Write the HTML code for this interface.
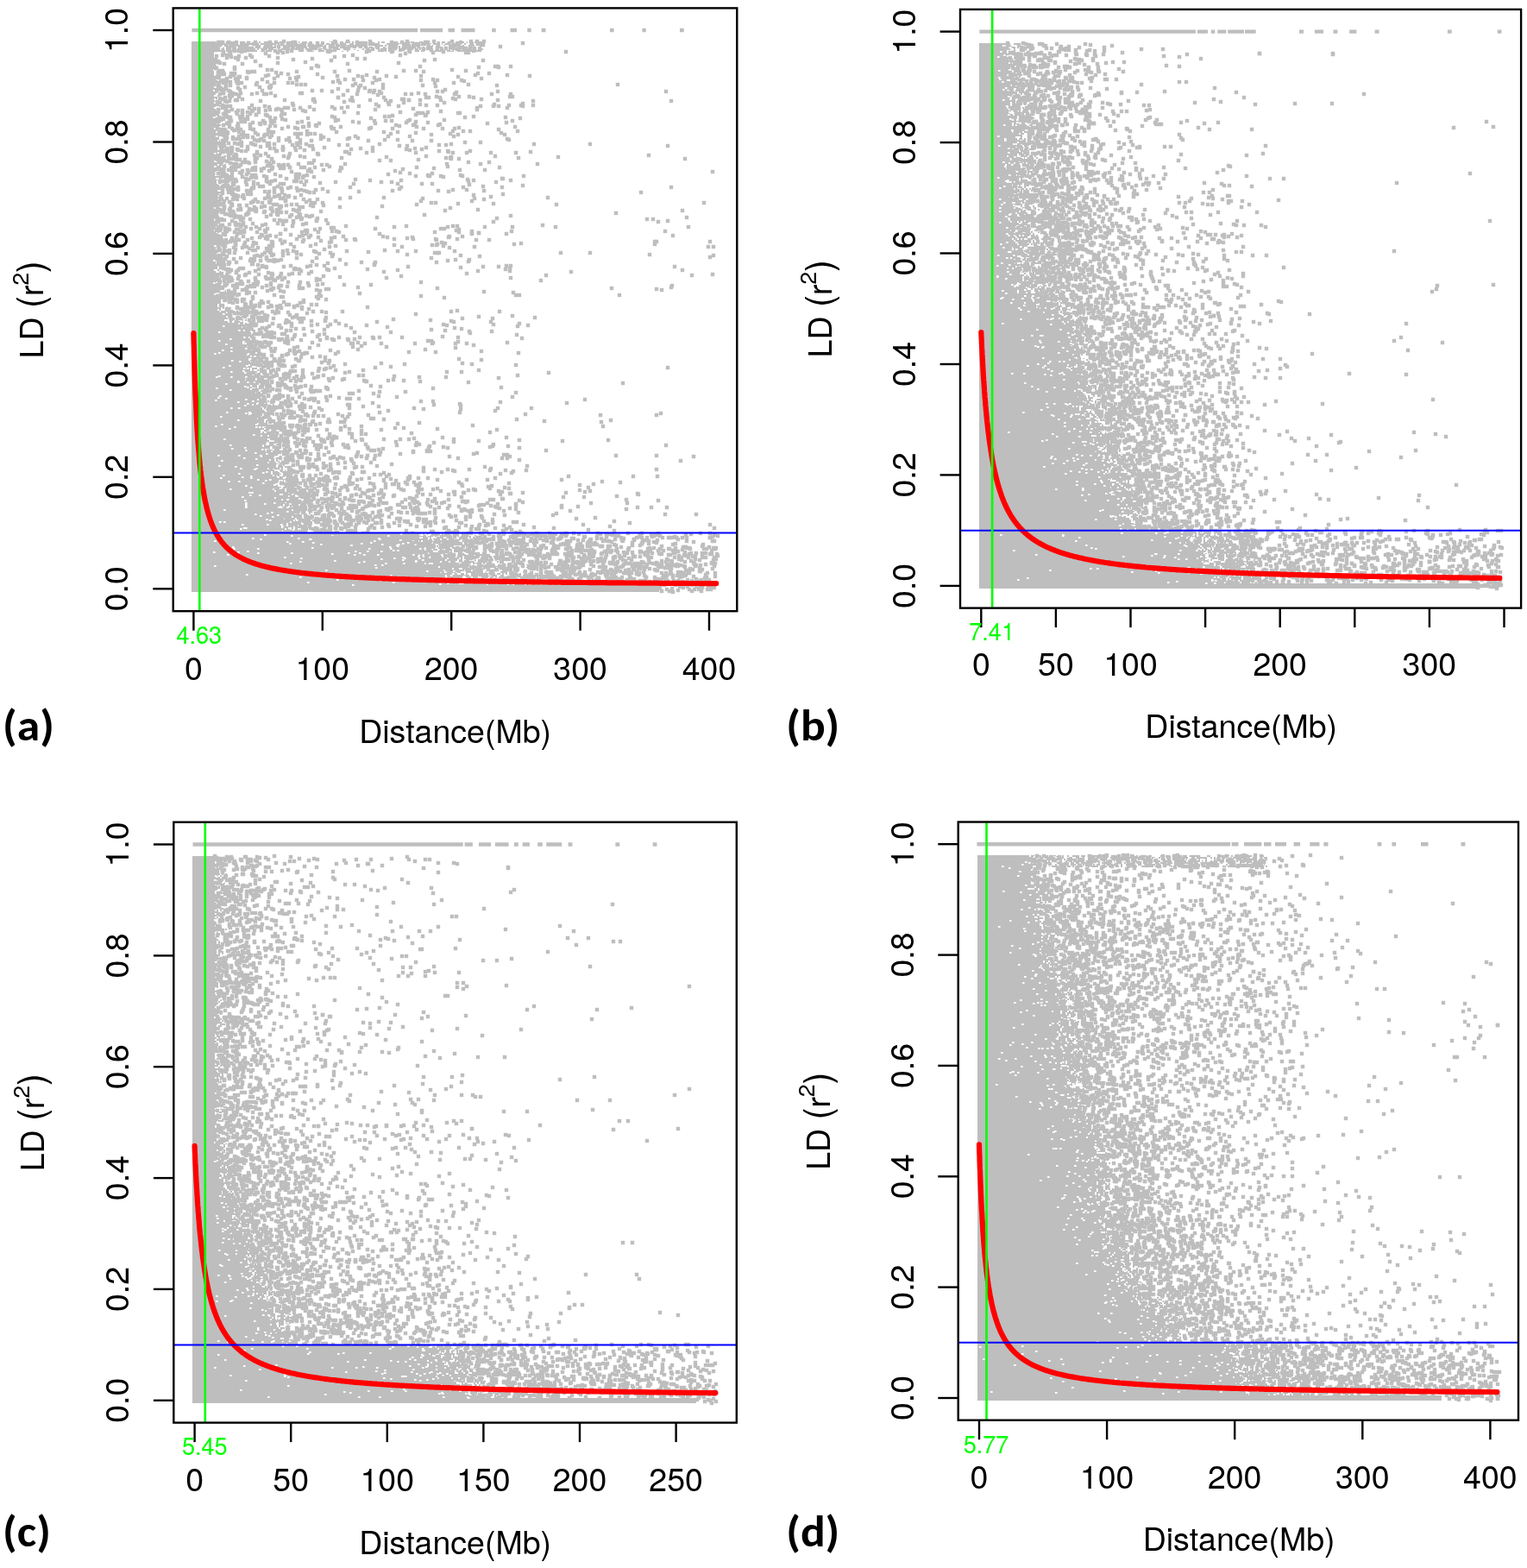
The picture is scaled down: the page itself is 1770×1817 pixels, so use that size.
<!DOCTYPE html>
<html><head><meta charset="utf-8"><title>LD decay</title>
<style>html,body{margin:0;padding:0;background:#fff}svg{display:block}</style></head>
<body><svg width="1770" height="1817" viewBox="0 0 1770 1817">
<defs><marker id="q" markerUnits="userSpaceOnUse" markerWidth="5" markerHeight="5" refX="2.2" refY="2.2" overflow="visible"><path d="M0 0h4.4v4.4H0z" fill="#bebebe"/></marker><marker id="h" markerUnits="userSpaceOnUse" markerWidth="3" markerHeight="3" refX="1" refY="1" overflow="visible"><path d="M0 0h2.6v2H0z" fill="#fff"/></marker></defs>
<rect width="1770" height="1817" fill="#fff"/>
<path d="M222 49h30M262 49h2M270 49h2M278 49h6M286 49h2M300 49h2M306 49h4M314 49h2M318 49h2M322 49h6M332 49h2M336 49h2M346 49h2M350 49h6M358 49h4M372 49h4M382 49h2M394 49h4M400 49h2M404 49h2M408 49h2M416 49h2M424 49h2M430 49h4M438 49h2M442 49h4M454 49h4M476 49h4M486 49h4M504 49h6M512 49h10M528 49h4M534 49h8M550 49h2M556 49h4M222 51h30M256 51h2M260 51h2M266 51h2M270 51h4M278 51h2M284 51h4M290 51h2M298 51h2M302 51h4M308 51h2M312 51h8M322 51h2M332 51h2M348 51h6M356 51h2M360 51h2M368 51h2M372 51h4M378 51h10M390 51h2M396 51h2M406 51h4M412 51h2M418 51h2M422 51h4M434 51h6M448 51h6M460 51h4M466 51h4M472 51h2M478 51h4M488 51h4M494 51h6M502 51h8M512 51h10M524 51h4M530 51h4M538 51h2M544 51h2M552 51h2M556 51h2M222 53h26M256 53h2M260 53h4M274 53h4M280 53h2M292 53h2M296 53h2M300 53h2M306 53h4M312 53h4M318 53h2M322 53h2M330 53h12M356 53h4M364 53h4M372 53h2M376 53h2M392 53h2M398 53h8M408 53h2M416 53h2M420 53h2M424 53h2M434 53h10M446 53h2M450 53h4M456 53h2M462 53h2M466 53h2M470 53h2M482 53h2M486 53h4M494 53h2M498 53h4M506 53h2M514 53h2M520 53h2M524 53h2M536 53h2M546 53h4M556 53h2M222 55h28M258 55h2M262 55h2M272 55h2M280 55h4M288 55h2M292 55h8M310 55h10M326 55h4M332 55h2M346 55h2M350 55h6M362 55h2M366 55h4M382 55h10M394 55h4M414 55h6M422 55h2M428 55h4M444 55h2M454 55h2M462 55h2M466 55h4M474 55h2M478 55h4M484 55h8M498 55h4M508 55h6M520 55h4M530 55h2M534 55h2M546 55h6M554 55h4M222 57h26M254 57h6M262 57h4M272 57h2M278 57h4M288 57h2M292 57h4M298 57h2M302 57h2M314 57h4M322 57h2M326 57h8M338 57h2M342 57h6M354 57h4M364 57h4M376 57h2M382 57h2M386 57h2M390 57h4M398 57h2M410 57h2M420 57h2M430 57h2M438 57h2M462 57h4M468 57h2M472 57h4M486 57h2M496 57h4M510 57h4M520 57h4M526 57h4M532 57h2M536 57h2M540 57h6M554 57h2M558 57h2M222 59h36M262 59h2M268 59h4M274 59h2M278 59h2M282 59h2M286 59h2M290 59h2M294 59h4M302 59h4M308 59h4M320 59h2M338 59h2M346 59h2M350 59h2M354 59h6M362 59h2M372 59h4M384 59h2M396 59h2M402 59h2M414 59h2M428 59h2M438 59h6M446 59h2M450 59h4M462 59h6M472 59h2M484 59h2M488 59h4M504 59h8M518 59h8M530 59h18M550 59h4M222 61h26M222 63h26M222 65h26M222 67h26M222 69h26M222 71h26M222 73h28M222 75h26M222 77h26M222 79h26M222 81h28M222 83h26M222 85h26M222 87h26M222 89h26M222 91h26M250 91h2M222 93h28M222 95h26M222 97h28M222 99h30M222 101h26M222 103h30M222 105h28M222 107h30M222 109h28M222 111h26M252 111h2M222 113h30M222 115h26M250 115h2M222 117h32M222 119h28M222 121h28M222 123h28M254 123h2M222 125h26M222 127h28M254 127h2M222 129h30M222 131h28M222 133h32M222 135h28M252 135h4M222 137h32M256 137h2M222 139h30M222 141h26M250 141h2M254 141h2M222 143h28M252 143h2M222 145h34M222 147h28M222 149h26M252 149h4M222 151h32M258 151h2M222 153h28M252 153h4M222 155h34M258 155h2M222 157h36M222 159h32M222 161h34M222 163h30M254 163h4M222 165h32M256 165h2M260 165h2M222 167h32M222 169h28M222 171h28M254 171h2M258 171h2M222 173h30M260 173h2M222 175h32M256 175h2M260 175h2M222 177h30M254 177h2M258 177h4M222 179h38M222 181h28M254 181h2M260 181h2M222 183h30M256 183h2M222 185h30M256 185h4M222 187h26M252 187h4M222 189h32M256 189h6M222 191h30M254 191h4M260 191h2M222 193h34M260 193h2M222 195h30M254 195h4M222 197h36M260 197h2M222 199h36M222 201h28M254 201h2M222 203h30M256 203h2M222 205h32M222 207h28M254 207h2M222 209h32M222 211h32M256 211h2M222 213h30M254 213h2M222 215h32M256 215h4M222 217h28M222 219h28M252 219h2M222 221h28M256 221h2M222 223h26M250 223h6M222 225h26M252 225h2M222 227h26M250 227h2M254 227h2M222 229h26M250 229h6M222 231h30M254 231h2M222 233h30M254 233h2M222 235h30M222 237h28M252 237h2M222 239h28M222 241h26M252 241h2M222 243h30M222 245h28M222 247h28M222 249h30M222 251h28M222 253h26M222 255h26M250 255h2M222 257h26M222 259h26M250 259h2M222 261h26M250 261h2M222 263h28M222 265h34M222 267h26M222 269h28M252 269h2M222 271h26M250 271h2M222 273h28M254 273h2M222 275h30M254 275h2M222 277h28M252 277h2M222 279h26M250 279h2M222 281h30M222 283h30M222 285h26M252 285h2M222 287h28M222 289h28M222 291h28M254 291h2M222 293h26M222 295h28M252 295h4M222 297h28M252 297h2M222 299h32M222 301h32M256 301h2M222 303h28M222 305h28M252 305h4M222 307h26M250 307h4M222 309h28M222 311h30M222 313h26M252 313h2M222 315h28M254 315h2M222 317h26M250 317h6M222 319h34M222 321h26M222 323h26M250 323h2M222 325h26M250 325h4M222 327h28M252 327h2M222 329h34M222 331h28M252 331h4M222 333h32M258 333h2M222 335h32M258 335h2M222 337h26M258 337h4M222 339h36M222 341h26M250 341h2M222 343h30M254 343h4M262 343h2M222 345h34M222 347h34M222 349h34M258 349h2M222 351h34M222 353h30M254 353h2M258 353h2M222 355h30M254 355h2M262 355h2M222 357h34M258 357h2M264 357h4M222 359h30M254 359h2M258 359h4M222 361h32M256 361h8M270 361h2M274 361h2M222 363h30M254 363h10M222 365h42M278 365h2M222 367h36M260 367h2M264 367h2M274 367h2M280 367h2M222 369h42M268 369h6M222 371h40M264 371h8M274 371h2M278 371h4M284 371h2M222 373h42M266 373h6M276 373h4M222 375h50M274 375h2M280 375h2M284 375h2M222 377h64M222 379h58M286 379h2M222 381h64M292 381h2M222 383h60M284 383h6M292 383h4M222 385h68M294 385h2M222 387h66M292 387h2M296 387h2M222 389h74M222 391h66M290 391h6M222 393h68M292 393h2M222 395h70M222 397h74M222 399h66M290 399h6M298 399h2M222 401h66M290 401h4M296 401h2M222 403h78M222 405h72M222 407h68M292 407h6M222 409h74M298 409h2M222 411h64M288 411h12M222 413h68M292 413h2M222 415h72M296 415h4M222 417h66M290 417h4M222 419h68M296 419h4M222 421h74M222 423h66M290 423h4M222 425h70M222 427h68M292 427h6M222 429h68M292 429h2M298 429h2M222 431h70M296 431h2M222 433h68M292 433h4M298 433h4M304 433h2M222 435h70M300 435h2M222 437h70M294 437h4M222 439h66M290 439h6M304 439h2M222 441h64M288 441h8M222 443h72M300 443h4M222 445h78M222 447h68M292 447h2M296 447h2M300 447h2M304 447h2M222 449h70M296 449h2M304 449h2M222 451h68M292 451h10M222 453h68M292 453h8M302 453h2M222 455h74M300 455h2M222 457h72M296 457h2M222 459h78M302 459h2M306 459h2M222 461h72M222 463h76M300 463h4M222 465h78M310 465h2M222 467h76M304 467h6M222 469h70M294 469h6M302 469h4M308 469h2M316 469h2M222 471h72M296 471h6M304 471h4M222 473h82M306 473h2M314 473h2M222 475h78M302 475h2M308 475h2M222 477h72M298 477h4M306 477h2M310 477h2M222 479h68M292 479h12M306 479h2M312 479h2M316 479h2M222 481h82M316 481h2M222 483h80M304 483h4M312 483h2M222 485h76M302 485h6M310 485h2M222 487h84M308 487h4M314 487h2M222 489h76M300 489h6M308 489h2M222 491h76M302 491h2M306 491h4M222 493h94M318 493h2M222 495h82M306 495h2M310 495h2M222 497h70M294 497h12M310 497h2M314 497h2M222 499h80M306 499h4M318 499h2M222 501h80M304 501h6M312 501h2M318 501h2M222 503h88M312 503h2M316 503h2M222 505h80M304 505h6M222 507h94M222 509h78M302 509h8M316 509h2M322 509h2M222 511h90M222 513h80M304 513h10M316 513h4M222 515h82M306 515h2M312 515h2M320 515h4M222 517h82M306 517h14M222 519h96M324 519h2M222 521h88M312 521h4M322 521h2M222 523h86M312 523h2M316 523h4M326 523h2M222 525h90M314 525h10M222 527h90M314 527h4M320 527h4M222 529h80M304 529h14M324 529h2M222 531h102M222 533h90M314 533h2M320 533h2M222 535h84M308 535h10M320 535h4M222 537h84M308 537h8M318 537h8M222 539h80M304 539h10M318 539h2M328 539h2M222 541h90M314 541h2M322 541h6M330 541h4M222 543h88M312 543h4M318 543h6M326 543h2M222 545h106M330 545h4M222 547h92M316 547h20M222 549h92M316 549h4M322 549h4M328 549h4M222 551h94M318 551h2M322 551h2M328 551h4M334 551h2M222 553h108M332 553h8M222 555h98M322 555h14M344 555h2M222 557h104M328 557h4M334 557h4M222 559h100M324 559h2M328 559h4M336 559h4M222 561h100M324 561h2M328 561h2M336 561h2M342 561h2M222 563h100M330 563h2M336 563h2M340 563h2M344 563h2M222 565h98M322 565h4M328 565h4M336 565h2M348 565h2M222 567h94M318 567h12M332 567h8M352 567h2M222 569h96M320 569h10M332 569h2M340 569h4M222 571h112M336 571h6M344 571h4M222 573h102M328 573h2M334 573h4M340 573h2M344 573h4M222 575h108M334 575h4M340 575h2M344 575h4M358 575h2M222 577h96M320 577h12M334 577h2M340 577h10M352 577h2M222 579h100M324 579h2M328 579h4M336 579h4M344 579h6M352 579h2M222 581h114M338 581h12M354 581h2M222 583h108M332 583h16M350 583h2M354 583h2M222 585h106M330 585h2M334 585h12M348 585h6M222 587h102M326 587h8M336 587h2M344 587h4M354 587h2M222 589h120M346 589h8M358 589h2M222 591h116M340 591h2M348 591h2M362 591h2M222 593h122M346 593h2M358 593h2M222 595h132M358 595h2M222 597h104M328 597h4M334 597h10M346 597h4M354 597h2M360 597h2M222 599h116M340 599h4M348 599h2M352 599h4M222 601h104M332 601h10M344 601h2M348 601h8M222 603h118M342 603h2M348 603h2M356 603h4M362 603h2M222 605h108M334 605h2M338 605h8M350 605h4M356 605h6M364 605h2M222 607h110M334 607h4M340 607h2M360 607h2M222 609h110M334 609h2M338 609h2M346 609h8M222 611h104M328 611h8M338 611h2M342 611h14M358 611h2M222 613h100M324 613h6M332 613h4M338 613h2M342 613h6M358 613h4M222 615h104M328 615h12M342 615h8M352 615h4M222 617h102M326 617h14M346 617h6M354 617h2M364 617h2M222 619h250M474 619h4M480 619h2M486 619h2M490 619h8M500 619h4M508 619h2M512 619h2M518 619h4M538 619h2M544 619h4M222 621h260M484 621h10M496 621h6M504 621h2M510 621h6M518 621h6M526 621h2M530 621h2M542 621h4M550 621h2M222 623h244M468 623h10M480 623h6M490 623h6M498 623h2M506 623h8M518 623h2M522 623h2M532 623h2M536 623h2M544 623h2M548 623h2M552 623h2M222 625h274M498 625h2M502 625h8M512 625h2M516 625h2M520 625h2M524 625h2M532 625h2M536 625h4M546 625h2M554 625h4M222 627h256M480 627h2M486 627h2M490 627h8M500 627h4M510 627h14M536 627h2M554 627h2M560 627h2M564 627h2M222 629h256M480 629h20M502 629h2M508 629h2M512 629h4M518 629h8M530 629h2M538 629h4M550 629h2M222 631h278M502 631h2M508 631h6M516 631h16M538 631h6M546 631h2M560 631h4M222 633h268M492 633h10M506 633h2M510 633h6M520 633h6M530 633h2M540 633h2M548 633h2M562 633h2M570 633h2M222 635h282M508 635h2M512 635h4M520 635h2M524 635h4M530 635h4M540 635h6M562 635h2M568 635h2M222 637h270M494 637h6M502 637h10M516 637h8M526 637h14M568 637h8M582 637h2M222 639h276M500 639h2M504 639h2M508 639h4M514 639h4M522 639h2M526 639h8M536 639h6M544 639h6M582 639h2M222 641h266M490 641h6M498 641h20M520 641h2M534 641h4M540 641h12M582 641h2M222 643h278M502 643h14M518 643h2M528 643h4M536 643h8M548 643h4M556 643h6M566 643h2M580 643h2M588 643h2M222 645h268M492 645h2M496 645h2M500 645h12M514 645h2M520 645h8M530 645h6M538 645h6M548 645h2M554 645h2M558 645h2M566 645h4M572 645h2M578 645h2M590 645h2M222 647h288M512 647h6M520 647h12M534 647h2M538 647h6M548 647h4M556 647h4M562 647h4M580 647h4M588 647h2M222 649h294M518 649h12M532 649h4M540 649h4M550 649h2M554 649h4M562 649h4M570 649h2M574 649h2M590 649h2M222 651h288M512 651h8M522 651h6M532 651h4M540 651h10M558 651h4M566 651h4M576 651h2M582 651h2M222 653h270M494 653h6M502 653h14M518 653h14M534 653h2M540 653h2M544 653h2M548 653h8M560 653h2M564 653h2M568 653h2M582 653h2M600 653h2M606 653h2M222 655h312M536 655h4M544 655h2M550 655h2M554 655h6M568 655h2M572 655h2M596 655h2M610 655h2M222 657h286M510 657h32M544 657h2M550 657h4M558 657h2M568 657h10M584 657h2M590 657h4M610 657h2M222 659h302M526 659h8M536 659h14M552 659h2M558 659h4M564 659h2M576 659h2M580 659h4M592 659h2M598 659h2M612 659h2M630 659h2M222 661h290M514 661h14M530 661h8M542 661h4M548 661h4M556 661h6M564 661h6M574 661h4M582 661h2M592 661h2M600 661h2M608 661h2M622 661h2M222 663h288M512 663h16M530 663h4M540 663h10M552 663h12M568 663h4M580 663h8M590 663h4M606 663h2M614 663h2M222 665h308M534 665h4M540 665h2M546 665h4M554 665h2M558 665h10M572 665h2M576 665h4M582 665h2M586 665h2M590 665h2M594 665h2M598 665h2M602 665h2M608 665h2M616 665h2M620 665h2M634 665h4M654 665h2M222 667h294M518 667h26M546 667h12M560 667h2M564 667h4M570 667h6M580 667h4M594 667h2M602 667h2M606 667h2M610 667h2M614 667h14M630 667h2M652 667h2M660 667h2M222 669h314M538 669h8M548 669h4M554 669h2M558 669h2M564 669h2M568 669h4M574 669h2M578 669h12M592 669h2M616 669h2M622 669h2M642 669h2M654 669h2M658 669h2M222 671h324M548 671h4M554 671h10M566 671h4M572 671h2M576 671h2M582 671h2M590 671h4M598 671h4M610 671h4M636 671h6M664 671h2M686 671h2M222 673h324M548 673h2M552 673h6M560 673h2M564 673h8M574 673h2M582 673h6M590 673h18M612 673h2M620 673h4M638 673h2M646 673h2M222 675h314M538 675h4M544 675h8M554 675h4M562 675h4M568 675h4M580 675h12M594 675h4M600 675h4M606 675h2M612 675h4M620 675h2M636 675h2M640 675h6M648 675h2M656 675h8M666 675h2M676 675h2M686 675h2M222 677h342M566 677h14M582 677h6M592 677h2M596 677h4M602 677h6M610 677h2M616 677h2M622 677h4M628 677h2M632 677h2M636 677h4M644 677h4M664 677h2M674 677h2M694 677h2M222 679h542M222 681h542M222 683h542M222 685h542" stroke="#bebebe" stroke-width="2" fill="none"/>
<path d="m251 48 35 0 29 0 7 0 62 1 49 0 72 0 12 0 22 0-206 1 1 0 14 0 35 0-32 1 163 0-204 1 46 0 107 0 36 0 46 0-252 1 38 0 10 0 67 0 86 0-236 1 143 0 87 0 26 0 33 0-253 1 33 0 43 0 12 0 32 0-3 1 21 0 70 0-247 1 63 0 113 0 35 0-164 1 61 0 34 0 126 0-169 1 88 0-27 1 52 0-218 13-1 8 0 24 2 11-1 3 6 9-5 1-2 7 6 14 4 2-7 6 4 3 1 2 4 11 0 1-11 3 13 0-4 1-9 1 3 4 8 5 1 3-12 1 12 5-9 1-2 1 0 3 2 7 0 2 3 1-1 13-3 23-3 53 5 3 3 12-8 11 11 9-8 2 2 0-2 2 7 2 4 12-3 4 4 3-4 2-1 4 15 1-12 2 3 0 7 1 8 0-9 1 10 2-21 3 29 4-11 1-23 2 39 1 2 4-12 1-16 2-13 2 28 1 0 2 3 0-23 1 33 0-8 2-19 2 28 0-11 1-27 2 34 0-24 1-14 2-5 1 39 0 1 6 1 0-21 2 9 1-12 5 20 0-27 2 24 1 4 0-5 3-14 1 16 1-30 4-3 1 17 0 17 0 0 3-9 2 26 0-26 1 11 0-25 2 22 3 3 1-36 1 16 2 34 0-8 4-38 3-2 2 9 1 23 1-35 1 43 1-17 1 31 1-20 1 11 0-14 2-16 3 9 0 31 3-45 2 26 0-4 1 4 1 24 2-57 1 52 3-32 1-19 5 40 0-47 2 57 0-35 1 25 0 4 0-35 2 41 4 1 0-14 3-34 5 50 4-43 3 47 2-30 1-15 1 45 0-10 1 4 0-23 1 11 3 13 1 1 0 13 1-70 1 24 0 25 0-19 3 35 0-21 1-40 2 53 2 11 0 2 2-25 1-44 1 19 1 6 2 18 0-2 1 24 1 3 0 10 0-9 1-14 1-4 1 20 0-48 1-18 2 76 0-44 1-10 1 41 0 15 0-81 1 35 0 38 0-30 2 14 0 7 0-12 1 14 0 2 0 6 0-65 1 12 0 53 1-25 1 24 0 14 0-23 1-2 1-33 1 6 2 34 1-58 1 54 0-32 4 3 0 47 1-49 2 11 0 34 1 10 0-64 1 66 2 3 1-66 1 1 3 33 0 36 0-47 1 29 0-51 1 44 1-44 1 0 1 38 0 3 0 7 0-73 3 73 2 26 0-44 1-5 1 33 0 5 0-52 1 26 1-20 1 14 1 35 2-42 1 4 1 31 0-89 2 5 0 21 3 29 0 16 0 1 2 9 1-53 1 2 0 50 0-56 1 67 0-6 1 24 3 112 1-11 1 28 0-186 1 78 0 101 0 3 0 8 0 47 0-206 1 112 0-157 3 53 0 93 0-137 1 57 0 1 0 80 0 24 1 38 0-253 1 185 0 120 0-221 1 18 0 157 0-145 1 67 0 43 0-137 1 83 0 48 0-95 1 71 0 19 0 19 0-74 1 0 0 53 0 101 0-100 1 69 0-260 1 182 0-90 1 130 0 50 0 27 0-298 1 28 0 129 0 25 0 34 0 21 1 65 0-117 1 5 0 38 0-212 1 125 0 14 0 16 0 63 0-257 1 28 0 260 0-237 1 39 0 66 0 13 0-32 1 132 0 24 0-277 1 147 0 11 0 16 0 41 0 7 0 4 0 22 0 17 0 21 1 10 0-75 1 43 0-198 1 137 0 31 0 51 0 2 0 9 0 28 0-239 1 108 0 12 0 17 0 70 0-114 1 110 0-85 1 23 0-102 1 94 0-134 1 74 0 60 0-187 1 121 0 119 0-198 1 110 0 21 0 30 0 43 0 3 1 7 0 5 0-121 1 8 0 109 0-303 1 348 0 14 0-175 2 123 0 17 0-43 1 98 0-253 2 136 0 47 0-66 1 31 0 49 0-59 1 45 0-198 2 162 0-239 1 281 0 37 0-151 1 70 0-155 1 170 0 17 0-207 1 89 0 80 0 37 0-145 1 5 0 48 0 59 0 18 0 117 0-125 1 45 0-185 1 133 0 32 0 91 0-206 1 8 0 43 0 48 0 30 0-59 1 146 0-300 1 99 0 115 0 74 0 14 0-140 1 14 0 3 0 40 0-66 1-101 1" fill="none" marker-start="url(#h)" marker-mid="url(#h)" marker-end="url(#h)"/>
<path d="m329 48 59 0 15 0 26 0 43 0 31 0 21 0 22 0 7 0 8 0-308 1 2 0 3 0 7 0 9 0 22 0 17 0 7 0 20 0 2 0 47 0 25 0 40 0 12 0 27 0 1 0 2 0 38 0-276 1 6 0 4 0 14 0 6 0 0 0 23 0 24 0 3 0 1 0 3 0 26 0 18 0 33 0 3 0 37 0 14 0 81 0 52 0-332 1 20 0 3 0 11 0 19 0 7 0 4 0 58 0 33 0 3 0 22 0 5 0 11 0 12 0 3 0 7 0 55 0 7 0-300 1 57 0 32 0 7 0 2 0 1 0 6 0 40 0 16 0 0 0 5 0 3 0 32 0 15 0 58 0 31 0 1 0-311 1 3 0 16 0 3 0 13 0 2 0 60 0 6 0 10 0 8 0 21 0 16 0 67 0 5 0 6 0 23 0 15 0 4 0 5 0-282 1 28 0 22 0 23 0 7 0 16 0 3 0 12 0 22 0 3 0 11 0 14 0 13 0 13 0 22 0 13 0 7 0 1 0 17 0 48 0 1 0 34 0-329 1 0 0 13 0 2 0 19 0 23 0 32 0 5 0 31 0 62 0 20 0 14 0 25 0 10 0 18 0 9 0-281 1 18 0 16 0 5 0 15 0 27 0 5 0 21 0 4 0 36 0 4 0 48 0 6 0 19 0 19 0 21 0 8 0 7 0 6 0 2 0 5 0-263 1 9 0 59 0 76 0 6 0 14 0 7 0 14 0 24 0 16 0 23 0 20 0-301 1 1 0 27 0 10 0 2 0 4 0 12 0 8 0 36 0 11 0 11 0 17 0 55 0 40 0 17 0 56 0-290 1 6 0 5 0 7 0 35 0 6 0 13 0 42 0 0 0 3 0 45 0 27 0 0 0 94 0-290 1 21 0 53 0 48 0 44 0 29 0 21 0 39 0 142 0-334 1 6 0 174 0 38 0 3 0-284 1 8 0 41 0 162 0-203 1-9 1 5 0 1 0 26 0 119 0 55 0-213 1 26 0 35 0 87 0-131 1 24 0 96 0-125 1 10 0 12 0 37 0 40 1 52 0 9 0-173 1 26 0 64 0 164 0-120 1 108 0 68 0-307 1 43 0-47 1 1 0 3 0 101 0-99 1 67 0 140 0-202 1 21 0 122 0-155 2 54 0 65 0 2 1 118 0 87 0 3 0 15 0-343 1 23 0 283 0 23 0-328 1 1 0 110 0-89 1 38 1 5 0 209 0-269 1 3 0 147 0 63 0 14 0 58 0-286 1 33 0 5 0 3 0 49 0 44 0 49 0 54 0-238 1 2 0 4 0 29 0 32 0-67 1 15 0 4 0 54 0 228 0 13 0-311 1 4 0 10 0 2 0 62 0 34 0-99 1 1 0 41 0 114 0 126 0 37 0-280 1 14 0 69 0 24 0 33 0 40 0 126 0-362 1 15 0 10 0 1 0 68 0 74 0 39 0 72 0-281 1 4 0 32 0 57 0 31 0 60 0-171 1 10 0 13 0 32 0 18 0 222 0-254 1 96 0 10 0 30 0 62 0-243 1 2 0 15 0 68 0 48 0 29 0 15 0 52 0 19 0 28 0-279 1 2 0 5 0 11 0 118 0 146 0-288 1 17 0 43 0 76 0-133 1 6 0 16 0 5 0 18 0 20 0 16 0 5 0 55 0 38 0 72 0 22 0-273 1 23 0 136 0-158 1 8 0 35 0 47 0 5 0 5 0 90 0 99 0 173 0-454 1 5 0 47 0 95 0 9 0 72 0 86 0-323 1 61 0 191 0-243 1 22 0 17 0 11 0 104 0-160 1 20 0 37 0 110 0 21 0-191 1 8 0 131 0-136 1 3 0 19 0 238 0-265 1 7 0 7 0 39 0 58 0 11 0 30 0 12 0 14 0 5 0-175 1 8 0 118 0 43 0 12 0 67 0 6 0 64 0 195 0-339 1 96 0-270 1 11 0 9 0 19 0 16 0 34 0 2 0 92 0 43 0-230 1 12 0 6 0 19 0 14 0 3 0 105 0 56 0 7 0 16 0 34 0 1 0 42 0 22 0-315 1 121 0 40 0-172 1 3 0 50 0-42 1 229 0 26 0 12 0 47 0 3 0-333 1 6 0 125 0 0 0 16 0 37 0 49 0 3 0 13 0 39 0-294 1 270 0-267 1 23 0 82 0 1 0 102 0 2 0 60 0 30 0-285 1 2 0 55 0 33 0 43 0 23 0 18 0 27 0 0 0 13 0 24 0 66 0-316 1 5 0 36 0 107 0 44 0 165 0 160 0-526 1 11 0 102 0 34 0-145 1 1 0 195 0 18 0 47 0-176 1 267 0-354 1 184 0 15 0 36 0 86 0-315 1 34 0 48 0 154 0 13 0 83 0 14 0 14 0-359 1 4 0 4 0 40 0 109 0 23 0 23 0 95 0 15 0 6 0 28 0-294 1 47 0 26 0 18 0-145 1 3 0 28 0 41 0 4 0 14 0 48 0 157 0 35 0-293 1 5 0 22 0 66 0 91 0-226 1 9 0 7 0 44 0 7 0 6 0 15 0 23 0 71 0 118 0-277 1 5 0 11 0 1 0 15 0 43 0-98 1 12 0 27 0 62 0 157 0-260 1 2 0 21 0 7 0 6 0 13 0 27 0 72 0 65 0 32 0-235 1 1 0 153 0 69 0 2 0 4 0 41 0 2 0-274 1 16 0 6 0 9 0 40 0-33 1 0 0 11 0 174 0 12 0-233 1 49 0 16 0 129 0 38 0-232 1 1 0 1 0 15 0 9 0 98 0 61 0 5 0 98 0-284 1 1 0 1 0 12 0 0 0 2 0 32 0 75 0 151 0 47 0-332 1 4 0 8 0 1 0 12 0 40 0 38 0 73 0 173 0-344 1 20 0 5 0 3 0 40 0-74 1 3 0 75 0 61 0 83 0 40 0-248 1 1 0 37 0 9 0 1 0 74 0 45 0 13 0 7 0 19 0 121 0-341 1 27 0 4 0 30 0 4 0 32 0 59 0 73 0-233 1 16 0 28 0 14 0 38 0 71 0 55 0 25 0 91 0-324 1 1 0 2 0 10 0 25 0 6 0 8 0 43 0 12 0 65 0 130 0-275 1 12 0 179 0 29 0-251 1 107 0 93 0 20 0 29 0-233 1 15 0 23 0 6 0 39 0 9 0 96 0-211 1 14 0 10 0 0 0 58 0 17 0 1 0 32 0 11 0 88 0 114 0-345 1 90 0 88 0 102 0-263 1 21 0 37 0 18 0 40 0 2 0 41 0 27 0 36 0 22 0 14 0-271 1 4 0 15 0 2 0 2 0 14 0 1 0 17 0 267 0-317 1 0 0 10 0 1 0-14 1 98 0 169 0 12 0 8 0 55 0-337 1 14 0 5 0 29 0 3 0 3 0 73 0 55 0 16 0-200 1 1 0 1 0 1 0 32 0 186 0 99 0-324 1 6 0 79 0 3 0 4 0 11 0 5 0 88 0 69 0-263 1 21 0 19 0 8 0 3 0 46 0 144 0 31 0 54 0-325 1 2 0 22 0 3 0 28 0 57 0-110 1 15 0 29 0 106 0 38 0 25 0 51 0-256 1 12 0 5 0 6 0 20 0 32 0 30 0-114 1 2 0 60 0 12 0 70 0 10 0-153 1 8 0 4 0 4 0 25 0 69 0 31 0 185 0-327 1 1 0 33 0 6 0 31 0 16 0 33 0 65 0 15 0 129 0-332 1 40 0 2 0 6 0 17 0 38 0 66 0 51 0 22 0-240 1 76 0-77 1 21 0 259 0 18 0-301 1 9 0 7 0 6 0 13 0 19 0 2 0 32 0 1 0 3 0-92 1 20 0 17 0 25 0 37 0 85 0 83 0 96 0 65 0-429 1 41 0 43 0 6 0 48 0 10 0 106 0 8 0-267 1 8 0 2 0 20 0 30 0 2 0 47 0 3 0 101 0 9 0 302 0-487 1 15 0 26 0-60 1 1 0 73 0 6 0 28 0 56 0 62 0-244 1 7 0 6 0 6 0 44 0 5 0 10 0 90 0 63 0-217 1 11 0 12 0 41 0 35 0 44 0 64 0 18 0-213 1 52 0 15 0 10 0 122 0-219 1 4 0 20 0 5 0 35 0 1 0 111 0 77 0 10 0 26 0-289 1 2 0 6 0 3 0 1 0 1 0 29 0 102 0 2 0 118 0 95 0-190 1 57 0 43 0 16 0 28 0 29 0-331 1 31 0 10 0 28 0 32 0 37 0-132 1 96 0-104 1 9 0 21 0 7 0 450 0-502 1 21 0 40 0 18 0 6 0 13 0 146 0 80 0-320 1 19 0 80 0 95 0 75 0 124 0-395 1 7 0 6 0 9 0 24 0 36 0 62 0 121 0 5 0 79 0-333 1 4 0 24 0 0 0 19 0 208 0 9 0 262 0-542 1 4 0 18 0 4 0 6 0 31 0 170 0-225 1 36 0 68 0 76 0 13 0-196 1 7 0 45 0-54 1 26 0 2 0 4 0 9 0 21 0 226 0 24 0-311 1 11 0 22 0 23 0 46 0 4 0-91 1 3 0 72 0 54 0 118 0 39 0 66 0-344 1 35 0 9 0 6 0 5 0 39 0 6 0-108 1 39 0 2 0 2 0 10 0 2 0-66 1 13 0 4 0 48 0 57 0 137 0-250 1 27 0 20 0 20 0 0 0 13 0 4 0 12 0 30 0 88 0 96 0-325 1 14 0 25 0 1 0 12 0 19 0 4 0 67 0 107 0-200 1 12 0 44 0 108 0-209 1 1 0 6 0 3 0 5 0 14 0 5 0 4 0 79 0 158 0 29 0-281 1 22 0 9 0 45 0 37 0 64 0-200 1 11 0 69 0 23 0 465 0-570 1 22 0 10 0 176 0-211 1 7 0 20 0 195 0 26 0-215 1 33 0 24 0 3 0 1 0 103 0-192 1 5 0 6 0 23 0 4 0 0 0 60 0 140 0 38 0-274 1 46 0 19 0 27 0 130 0 15 0 1 0 13 0 25 0 71 0-351 1 6 0 3 0 16 0 12 0 3 0 13 0 34 0 21 0 150 0-252 1 4 0 25 0 6 0 49 0 5 0-82 1 16 0 47 0 250 0 1 0-315 1 5 0 15 0 21 0 34 0 69 0 130 0-223 1 110 0 36 0 84 0 43 0-336 1 4 0 4 0 10 0 35 0 6 0 26 0 3 0 11 0 188 0-288 1 30 0 9 0 17 0 38 0 40 0 53 0 12 0 121 0-305 1 1 0 100 0-101 1 29 0 14 0 12 0 4 0 81 0 51 0 28 0 12 0-239 1 9 0 15 0 67 0 191 0-284 1 4 0 30 0 312 0-354 1 10 0 39 0 4 0 17 0 238 0-302 1 10 0 8 0 61 0 69 0 59 0 72 0 45 0 196 0-523 1 37 0 2 0 24 0 8 0 0 0 8 0 10 0-80 1 8 0 4 0 42 0 56 0 89 0-213 1 8 0 9 0 9 0 15 0 36 0 22 0 17 0 159 0 16 0-272 1 17 0 59 0 8 0 102 0 53 0 53 0-311 1 39 0 1 0 17 0 5 0 44 0 24 0 36 0 104 0-255 1 53 0 9 0 32 0 5 0 379 0-485 1 12 0-19 1 18 0 18 0 4 0 20 0 0 0 272 0-334 1 24 0 9 0 42 0 6 0 19 0 200 0-293 1 16 0 4 0 46 0 13 0-64 1 10 0 31 0 6 0 16 0 235 0-320 1 24 0 37 0 32 0 64 0 39 0 190 0-372 1 8 0 12 0 24 0 18 0 4 0 65 0 96 0 60 0-293 1 13 0 5 0 21 0 18 0 38 0 16 0 193 0-230 1 28 0-107 1 0 0 8 0 34 0 37 0 157 0 59 0-294 1 13 0 27 0 6 0 13 0 43 0-102 1 38 0 13 0 9 0 48 0 4 0 9 0 126 0 5 0 311 0-566 1 7 0 11 0 263 0 41 0-317 1 2 0 2 0 10 0 48 0 4 0 17 0 6 0 139 0 162 0-376 1 8 0 1 0 8 0 46 0 28 0 15 0-123 1 8 0 47 0 17 0 2 0 37 0 80 0-191 1 43 0 8 0 44 0 4 0 43 0-127 1 47 0 11 0 197 0-262 1 19 0 10 0 8 0 17 0 1 0 0 0-60 1 11 0 10 0 3 0 13 0 29 0 19 0 7 0 207 0-295 1 37 0 25 0 2 0 20 0 173 0 275 0-539 1 0 0 15 0 3 0 27 0 10 0 9 0 29 0 27 0-121 1 6 0 31 0 18 0 20 0 6 0-61 1 17 0 426 0-453 1 1 0 9 0 15 0 1 0 34 0 1 0 25 0-81 1 19 0 29 0 8 0 16 0 10 0 144 0-241 1 17 0 0 0 5 0 82 0 7 0 230 0-342 1 27 0 2 0 30 0 27 0 10 0 13 0-108 1 1 0 20 0 5 0 67 0 93 0 359 0-514 1 68 0 18 0 208 0-321 1 2 0 33 0 59 0 401 0 7 0-505 1 5 0 3 0 19 0 1 0 38 0 6 0 43 0 11 0-126 1 17 0 58 0 3 0 1 0 1 0 8 0 27 0 407 0-521 1 319 0 191 0-515 1 25 0 9 0 58 0-90 1 43 0 29 0 33 0 25 0-131 1 1 0 16 0 7 0 4 0 5 0 26 0 20 0 23 0-95 1 2 0 16 0 6 0 24 0 325 0-290 1 62 0 70 0 54 0 5 0-277 1 26 0 6 0 12 0 160 0 62 0 43 0 32 0 50 0 154 0-537 1 123 0 3 0-131 1 8 0 27 0 10 0 9 0 61 0 64 0 76 0 4 0-249 1 8 0 2 0 55 0 34 0 167 0-281 1 4 0 6 0 22 0 24 0 47 0 2 0 173 0-266 1 16 0 106 0 5 0 157 0 46 0 178 0-499 1 8 0 1 0 2 0 0 0 15 0 10 0 42 0 6 0 13 0 24 0 111 0 28 0-254 1 269 0 8 0 0 0-296 1 16 0 50 0 0 0 30 0 85 0 107 0 40 0-338 1 12 0 42 0 34 0-85 1 52 0 9 0 38 0 9 0 420 0-524 1 26 0 27 0 11 0 27 0 51 0 46 0 77 0 15 0-262 1 27 0 57 0 11 0 19 0 61 0 29 0 42 0-268 1 17 0 23 0 16 0 76 0 88 0-221 1 18 0 41 0 34 0 67 0 46 0 22 0 26 0 25 0-280 1 6 0 1 0 5 0 15 0 10 0 38 0 27 0 49 0 11 0 94 0 46 0 15 0-299 1 4 0 100 0-123 1 5 0 3 0 2 0 1 0 7 0 6 0 42 0 15 0 0 0 21 0 33 0 375 0 2 0 62 0-570 1 3 0 7 0 21 0 10 0 22 0 66 0 130 0-255 1 37 0 3 0 30 0 189 0 88 0-351 1 7 0 13 0 42 0 22 0 29 0 141 0 89 0 163 0-501 1 15 0 0 0 10 0 174 0 44 0 5 0-245 1 22 0 10 0 19 0 4 0 44 0 29 0 125 0-261 1 33 0 27 0 28 0 41 0 84 0 84 0 271 0 6 0-556 1 10 0 18 0 222 0-267 1 6 0 29 0 20 0 5 0-60 1 19 0 103 0-121 1 11 0 27 0 3 0 14 0 23 0 113 0-195 1 9 0 4 0 48 0 16 0 12 0 24 0 38 0 59 0 21 0 45 0-278 1 64 0 31 0 22 0 61 0-178 1 17 0 6 0 15 0 20 0 7 0 14 0 55 0 121 0 3 0 2 0 141 0 34 0-426 1 76 0 10 0 26 0-111 1 45 0 13 0 32 0 37 0 86 0 281 0-455 1 17 0 13 0 206 0 293 0-576 1 12 0 32 0 7 0 83 0 171 0-300 1 53 0 514 0-544 1 65 0 23 0 133 0-239 1 0 0 10 0 20 0 18 0-54 1 3 0 37 0 23 0 8 0 68 0 134 0 16 0-290 1 36 0 4 0 8 0 9 0 3 0 7 0 1 0 197 0-260 1 59 0 44 0 181 0-290 1 12 0 1 0 8 0 145 0 16 0 71 0-126 1-124 1 1 0 8 0 27 0 1 0 108 0 33 0-174 1 39 0 68 0 67 0-184 1 54 0 33 0 23 0 16 0 211 0 5 0-288 1 4 0 21 0 27 0 117 0 87 0 18 0 204 0-526 1 0 0 53 0 225 0-275 1 19 0 4 0 60 0 46 0 203 0-329 1 3 0 35 0 41 0 3 0 3 0 32 0 47 0 160 0-318 1 8 0 105 0 80 0 330 0-495 1 53 0 205 0 37 0-327 1 2 0 8 0 87 0 84 0 217 0-388 1 15 0 22 0-54 1 58 0 11 0 13 0 8 0 11 0 183 0-292 1 36 0 15 0 16 0 19 0 491 0-563 1 21 0 349 0 169 0-545 1 20 0 38 0 10 0 0 0 50 0 90 0-213 1 8 0 4 0 1 0 0 0 1 0 42 0 86 0-144 1 1 0 17 0 28 0 19 0 7 0 8 0 118 0 144 0-330 1 14 0 33 0 3 0 55 0-113 1 42 0 21 0 10 0 44 0-122 1 11 0 5 0 4 0 0 0 50 0 48 0 260 0-372 1 11 0 13 0 9 0 9 0-42 1 25 0 19 0 35 0 14 0 140 0-190 1 16 0 43 0-96 1 2 0 12 0 3 0 3 0 13 0 4 0 76 0-113 1 0 0 13 0 24 0 16 0 54 0 31 0 31 0-178 1 9 0 9 0 3 0 18 0 18 0 15 0 2 0 21 0 11 0 421 0-492 1 3 0 2 0 3 0 38 0-78 1 3 0 17 0 29 0 19 0 92 0 363 0-521 1 29 0 31 0 30 0 4 0 156 0 202 0-437 1 13 0 29 0 64 0 3 0 380 0-511 1 31 0 5 0 29 0 52 0 400 0-517 1 1 0 2 0 12 0 45 0 15 0 46 0-99 1 57 0 232 0-294 1 1 0 20 0 1 0 7 0 299 0-335 1 5 0 6 0 15 0 131 0-153 1 1 0 12 0 93 0-114 1 14 0 5 0 43 0 280 0 4 0 116 0-466 1 16 0 104 0 116 0-229 1 8 0 26 0 33 0 2 0 39 0-109 1 5 0 4 0 248 0-249 1 1 0 2 0 24 0 76 0-96 1 8 0 2 0 95 0-117 1 5 0 1 0 7 0 1 0 77 0-86 1 15 0 22 0-37 1 9 0 16 0 20 0 18 0 23 0-82 1 35 0 43 0-64 1 17 0-16 1 47 0 3 0 26 0 6 0-109 1 33 0 5 0 0 0 18 0 11 0 20 0-51 1 1 0 6 0 14 0 6 0 20 0-66 1 9 0 2 0 3 0 3 0 19 0 11 0 19 0 9 0 76 0-151 1 18 0 33 0-63 1 16 0 3 0 68 0 8 0-93 2 22 0 7 0 27 0 209 0-262 1 16 0 13 0 19 0 47 0 10 0 24 0 126 0 56 0-298 1 2 0 5 0 2 0 3 0 1 0 3 0 7 0 19 0 11 0 44 0-125 1 13 0 6 0 3 0 2 0 5 0 13 0 5 0 19 0 37 0-73 1 13 0 186 0-216 1 20 0 21 0 29 0 8 0-77 1 0 0 43 0 284 0-310 1 8 0 1 0 1 0 15 0 33 0 213 0-297 1 9 0 9 0 17 0 6 0 4 0 4 0 2 0 30 0 39 0 242 0-345 1 4 0 38 0 29 0 3 0 3 0 184 0 35 0-264 1 2 0 147 0-167 1 5 0 15 0 23 0 45 0 122 0-199 1 4 0 29 0 28 0 16 0 12 0 134 0-249 1 61 0 13 0 2 0 87 0 89 0 43 0-295 1 17 0 0 0 1 0 39 0-51 1 14 0 22 0 22 0 55 0 209 0-305 1 71 0 15 0 131 0 58 0-284 1 4 0 3 0 1 0 28 0 37 0 40 0 24 0 93 0 94 0-300 1 11 0 15 0 42 0 220 0-317 1 166 0-145 1 5 0 17 0 81 0 120 0-240 1 2 0 2 0 52 0 9 0 183 0-234 1 7 0 68 0 124 0-168 1 5 0 179 0-154 1 182 0 26 0-268 1 8 0 5 0 96 0 42 0-150 1 9 0 6 0 227 0-256 1 6 0 4 0 1 0 10 0 2 0 3 0 12 0 3 0 46 0-68 1 2 0 1 0 31 0 11 0 17 0 229 0-292 1-2 1 5 0 23 0 8 0 27 0 145 0-199 1 4 0 61 0 14 0 24 0 15 0 8 0 26 0 65 0-237 1 39 0 46 0 54 0 172 0-282 1 4 0 5 0 7 0 46 0 18 0 8 0-117 1 0 0 30 0 25 0 22 0 16 0 17 0-70 1 162 0 4 0-203 1 10 0 23 0 1 0 200 0-234 1 2 0 1 0 2 0 7 0 0 0 5 0 17 0 31 0 53 0 87 0 86 0-290 1 2 0 4 0 8 0 22 0 73 0 2 0 14 0 19 0 39 0 20 0 27 0 13 0-253 1 24 0-1 1 58 0 180 0-260 1 6 0 6 0 118 0-115 1 3 0 38 0 64 0 39 0-107 1 18 0 169 0-214 1 5 0-25 1 4 0 117 0 78 0-198 1 5 0 36 0 47 0-68 1 3 0 23 0 6 0 211 0-267 1 50 0 2 0 49 0 82 0 31 0-151 1 2 0 245 0-300 1 33 0 8 0 8 0 2 0 37 0-87 1 4 0 26 0-27 1 10 0 12 0 0 1 0 0 44 0-72 1 7 0 43 0 13 0 15 0-81 2 6 0 1 0 6 0 9 0 6 0 19 0 189 0-238 1 24 0 240 0-257 1 1 0 17 0 7 0 3 0 17 0 1 0 30 0 5 0-89 1 5 1 8 0 2 0 2 0 5 0 8 0 50 0-59 1 9 0 58 0 61 0 94 0-241 1 2 0 3 0 24 0 76 0 69 0 78 0-248 1 3 0 6 0 3 0 0 0 13 0 4 0 270 0-290 1 7 0 12 0 3 0 12 0 45 0-82 1 34 0 114 0-142 1 72 0 52 0 339 0-404 1 8 0-75 1 19 0 1 0 53 0-59 1 34 0 38 0 32 0 134 0-252 1 4 0 7 0 23 0 2 0 3 0 27 0 36 1 113 0 17 0-241 1 20 0 6 0 16 0 64 0 236 0-305 1 20 0 11 0-72 1 18 0 21 0 4 0-36 1 13 0 11 0 14 0 40 0 41 0 5 0 179 0-301 1 9 0 9 0 17 0 1 0 9 0 25 0 88 0-164 1 11 0 11 0 14 0 5 0 16 0 2 0 16 0 118 0 31 0-224 1 19 0 29 0 23 0 22 0 192 0-289 1 11 0 25 0 6 0 50 0 18 0-112 1 16 0 43 0 51 0 59 0-119 1 12 0 33 0 40 0 28 0 18 0-168 1 7 0 3 0 5 0 12 0 0 0 16 0 81 0 1 0 62 0-189 1 6 0 6 0 5 0 228 0-236 1 15 0 400 0-396 1-22 1 26 0-35 1 14 0 3 0 10 0 3 0 17 0 12 0 76 0-117 1 19 0 17 0 12 0 80 0-139 1 29 0 15 0 32 0 203 0-271 1 24 0 3 0 6 0 36 0 123 0-186 1 27 0 37 0-73 1 14 0 3 0 13 0 23 0-53 1 3 0 3 0 51 0 2 0 2 0 3 0 45 0-124 1 14 0 2 0 36 0 17 0 2 0 77 0 30 0-164 1 292 0-299 1 51 0 55 0 4 0 24 0-139 1 30 0-29 1 5 0 3 0 8 0 0 1 9 0 6 0 2 0 6 0 49 0 56 0-145 1 3 0 3 0 6 0 13 0 28 0 31 0 82 0 134 0-276 1 6 0 69 0-71 1 0 0 0 0 12 0 5 0 14 0 8 0 0 0 4 0 37 0 4 0 10 0-111 1 2 0 51 0 320 0-362 1 48 0 15 0-72 1 10 0 14 0 4 0 0 0 153 0 14 0-200 1 13 0 28 0 26 0 211 0-276 1 22 0 2 0 104 0 225 0-326 1 6 0 13 0 183 0-231 1 101 0 2 0 98 0-196 1 18 0 8 0 4 0 15 0 1 0 181 0-222 1 22 0 13 0 1 0 73 0 18 0-143 1 20 0 3 0 1 0 3 0 4 0 26 0 7 0-43 1 2 0 31 0 20 0 35 0 75 0 97 0 39 0-305 1 37 0 1 0 142 0 43 0-234 1 15 0 2 0 56 0-44 1 5 0 116 0 124 0-278 1 8 0 32 0 2 0 13 0 14 0-24 1 99 0 93 0-222 1 0 0 4 0 19 0 30 0 402 0-458 1 13 0 5 0 12 0 17 0 37 0 13 0 204 0-301 1 3 0 18 0 1 0 24 0 73 0 269 0 65 0-452 1 36 0 12 0 6 0 6 0 6 0 22 0-88 1 40 0 54 0-80 1 5 0 8 0 3 0 2 0-40 1 1 0 22 0 106 0 3 0-120 1 68 0 19 0 45 0 154 0-250 1 4 0 1 0 354 0-410 1 19 0 7 0 24 0 0 0 15 0 268 0-318 1 49 0 18 0 2 0 13 0 4 0 298 0-368 1 157 0-184 1 17 0 4 0 2 0 46 0 90 0-155 1 17 0 31 0 5 0 1 0 6 0-39 1 0 0 9 0 3 0 6 0 8 0 195 0-238 1 5 0 4 0 18 0 7 0 4 0 52 0 19 0 280 0-386 1 12 0 1 0 4 0 8 0 9 0 6 0-31 1 73 0 63 0 10 0-176 1 18 0 8 0 28 0 6 0 5 0 48 0 102 0-181 1 28 0 13 0 12 0 16 0 47 0 134 0-259 1 13 0 21 0 6 0 62 0-85 1 3 0 9 0-30 1 37 0 215 0-257 1 10 0 0 0 8 0 12 0 2 0 62 0 72 0-146 1 7 0 44 0 26 0 11 0 5 0-110 1 21 0 16 0-34 1 3 0 6 0 43 0-28 1 41 0 5 0 0 0-61 1 16 0 47 0 1 0 0 0 18 0 105 0 74 0-272 1 3 0 8 0 5 0 1 0 1 0 23 0 3 0 21 0 6 0 94 0-158 1 10 0 13 0 27 0 47 0 26 0 19 0 10 0 52 0-226 1 27 0 2 0 21 0 25 0 10 0 35 0 182 0 103 0-385 1 5 0 27 0 0 0 21 0 39 0 143 0 97 0-318 1 18 0 3 0 8 0 13 0 83 0 67 0-222 1 20 0 6 0 3 0 9 0 42 0 99 0 20 0-201 1 13 0 30 0 2 0-32 1 30 0 53 0 26 0 62 0 86 0-243 1 23 0 13 0 2 0 4 0 1 0 13 0 18 0 57 0 22 0 290 0-448 1 10 0 10 0 10 0 144 0 73 0 18 0-257 1 40 0 28 0 26 0 88 0 54 0-246 1 56 0 26 0 93 0 22 0 83 0-282 1 47 0 60 0 17 0-114 1 6 0 33 0 70 0-91 1 6 0 76 0 4 0 61 0 138 0-322 1 1 0 9 0 13 0 21 0 124 0 16 0 4 0-175 1 19 0 38 0 34 0 26 0 38 0-149 1 3 0 0 0 11 0 10 0 199 0-233 1 9 0 4 0 17 0 10 0 9 0 95 0 85 0-236 1 26 0 37 0 38 0 26 0 144 0 4 0-250 1 1 0 7 0 80 0 9 0 279 0 47 0-374 1 26 0 6 0 102 0 70 0 213 0-471 1 3 0 1 0 10 0 3 0 19 0 17 0 8 0-69 1 7 0 24 0 27 0 15 0 27 0 106 0 51 0 6 0-257 1 1 0 5 0 2 0 20 0 11 0 21 0 16 0 27 0-118 1 16 0 4 0 20 0 2 0 8 0 236 0-262 1 68 0 381 0-456 1 0 0 12 0-37 1 20 0 4 0 68 0 30 0-124 1 1 0 10 0 58 0 17 0 18 0-65 1 0 0 13 0 0 0 5 0 20 0 71 0-151 1 0 0 37 0-26 1 11 0 0 0 36 0 17 0 59 0 174 0-293 1 30 0 4 0 6 0 7 0 2 0 9 0 7 0 30 0 7 0 142 0-226 1 15 0 7 0 0 0 17 0 25 0 11 0 80 0 78 1-234 1 14 0 19 0 16 0 120 0 15 0 25 0 217 0-423 1 11 0 32 0 144 0 43 0 18 0 24 0-270 1 151 0 36 0 68 0-254 1 3 0 1 0 44 0 4 0 27 0 2 0 90 0-126 1 7 0 15 0 37 0 148 0-272 1 14 0 37 0 37 0 171 0-246 1 2 0 1 0 14 0 83 0 7 0 10 0-115 1 14 0 9 0 7 0-23 1 8 0 27 0 70 0 27 0 184 0 75 0 28 0-382 1 10 0 16 0-66 1 19 0 17 0 12 0 3 0 37 0 45 0 2 0 10 0 11 0 78 0-237 1 5 0 17 0 4 0 7 0 5 0 44 0 34 0-132 1 12 0 7 0 1 0 16 0 17 0 4 0 27 0 9 0 31 0 28 0 34 0 34 0 24 0 86 0-299 1 24 0 6 0 63 0 14 0-115 1 61 0 293 0-363 1 6 0 1 0 18 0 8 0 2 0 9 0 91 0 10 0 52 0 187 0-393 1 1 0 21 0 6 0 55 0 20 0 58 0 103 0-259 1 7 0 1 0 25 0 25 0 16 0 2 0 26 0 14 0 8 0 2 0 5 0 10 0 63 0 153 0-345 1 11 0 20 0 5 0 103 0 2 0 2 0 186 0-338 1 27 0 0 0 8 0 1 0 30 0 14 0 122 0 34 0-235 1 42 0 24 0 0 0 1 0 83 0 81 0-227 1 7 0 10 0 0 0 40 0 38 0 13 0 15 0 123 0 97 0-361 1 44 0 23 0 24 0 95 0 61 0 22 0-249 1 35 0 3 0 38 0 48 0 21 0 3 0 13 0 47 0-212 1 3 0 1 0 1 0 9 0 10 0 33 0 9 0 25 0 4 0 10 0 26 0 75 0 8 0 121 0-336 1 0 0 12 0 5 0 6 0 9 0 58 0 16 0 42 0 27 0 67 0 106 0-346 1 14 0 28 0 146 0 1 0 55 0 96 0-335 1 20 0 22 0 35 0 21 0 44 0 52 0 1 0 68 0 50 0-324 1 19 0 2 0 1 0 13 0 11 0 11 0 34 0 16 0 152 0 1 0 147 0-389 1 5 0 3 0 5 0 0 0 3 0 1 0 10 0 17 0 19 0 32 0 45 0 9 0 21 0 7 0 53 0 160 0-387 1 55 0 25 0 24 0-109 1 13 0 2 0 28 0 16 0 11 0 38 0 27 0 232 0-383 1 6 0 14 0 1 0 32 0 1 0 40 0 1 0 17 0 91 0 118 0 24 0-339 1 18 0 44 0 29 0 46 0-151 1 18 0 15 0 7 0 9 0 8 0 19 0 40 0 39 0 0 0 25 0 78 0 1 0-228 1 22 0 1 0 7 0 9 0 11 0 65 0 26 0 24 0 48 0 4 0 154 0-365 1 8 0 39 0 2 0 22 0 46 0 3 0 23 0 98 0 161 0-426 1 20 0 2 0 18 0 2 0 5 0 1 0 31 0 4 0 21 0 60 0 35 0 2 0 4 0-194 1 5 0 15 0 29 0 25 0 44 0 18 0 31 0 25 0 66 0-248 1 16 0 15 0 8 0 31 0 1 0 15 0 4 0 32 0 15 0 11 0 6 0 53 0 120 0 42 0-375 1 39 0 0 0 7 0 18 0 23 0 36 0 11 0 91 0 21 0-266 1 29 0 20 0 13 0 36 0 1 0 8 0 22 0 2 0 33 0 61 0 4 0-208 1 6 0 11 0 9 0 5 0 3 0 19 0 2 0 3 0 16 0 7 0 87 0 34 0 14 0 29 0 53 0-309 1 9 0 11 0 1 0 3 0 13 0 1 0 7 0 9 0 11 0 6 0 11 0 75 0 33 0 42 0 96 0-329 1 9 0 23 0 7 0 32 0 55 0 3 0 6 0 7 0 26 0 67 0 75 0 88 0 16 0 18 0-430 1 42 0 19 0 17 0 31 0 1 0 0 0 28 0 3 0 35 0 60 0 12 0-244 1 7 0 11 0 31 0 12 0 12 0 28 0 2 0 54 0 34 0 60 0 128 0-367 1 13 0 8 0 10 0 60 0 28 0 7 0 50 0 4 0 8 0 9 0 2 0 0 0-212 1 6 0 8 0 0 0 48 0 8 0 25 0 94 0 8 0 41 0 77 0-317 1 1 0 6 0 1 0 18 0 29 0 15 0 25 0 23 0 20 0 22 0 43 0-154 1 6 0 15 0 18 0 33 0 7 0 12 0 14 0 103 0-235 1 3 0 13 0 2 0 12 0 2 0 1 0 23 0 32 0 25 0 6 0 4 0 4 0 11 0 141 0-260 1 17 0 18 0 2 0 1 0 1 0 121 0 28 0 198 0 36 0-453 1 22 0 5 0 14 0 7 0 38 0 3 0 78 0 64 0 56 0-314 1 5 0 13 0 29 0 13 0 18 0 12 0 11 0 1 0 9 0 90 0 30 0-212 1 1 0 9 0 5 0 1 0 14 0 5 0 21 0 12 0 21 0 5 0 11 0 72 0 17 0 5 0-218 1 32 0 1 0 14 0 21 0 11 0 8 0 10 0 2 0 79 0 54 0 131 0-358 1 24 0 1 0 10 0 7 0 27 0 14 0 4 0 41 0 3 0 1 0 20 0 2 0 182 0-320 1 0 0 21 0 3 0 7 0 15 0 10 0 13 0 15 0 59 0 3 0 46 0 31 0-219 1 14 0 1 0 11 0 4 0 28 0 5 0 2 0 10 0 15 0 43 0 44 0-197 1 22 0 12 0 15 0 2 0 5 0 7 0 12 0 56 0 6 0 4 0 31 0 10 0 47 0 151 0-345 1 2 0 7 0 46 0 50 0 19 0 8 0 96 0 4 0-252 1 41 0 1 0 8 0 19 0 9 0 10 0 2 0 5 0 15 0 38 0 10 0 28 0 2 0 36 0 159 0-390 1 15 0 21 0 2 0 26 0 161 0-222 1 11 0 5 0 14 0 2 0 6 0 10 0 9 0 7 0 6 0 37 0 26 0 80 0 10 0 41 0 69 0 147 0-487 1 41 0 13 0 41 0 32 0 36 0 41 0 23 0 21 0-225 1 24 0 21 0 47 0 32 0 10 0 54 0 8 0 152 0-307 1 12 0 17 0 14 0 74 0 15 0 59 0 28 0-253 1 10 0 6 0 7 0 0 0 6 0 39 0 81 0 59 0 68 0 186 0-505 1 32 0 8 0 5 0 28 0 31 0 119 0 6 0 3 0 32 0-236 1 15 0 7 0 10 0 210 0 89 0-316 1 15 0 22 0 4 0 5 0 59 0 49 0 8 0 33 0 22 0 1 0 128 0-387 1 18 0 9 0 14 0 2 0 1 0 3 0 5 0 5 0 29 0 89 0 2 0 28 0 16 0 18 0 39 0-261 1 1 0 23 0 1 0 23 0 1 0 21 0 14 0 92 0 6 0 74 0-218 1 6 0 35 0 57 0 49 0 16 0 14 0 48 0 17 0 15 0 19 0 9 0 28 0 35 0 16 0 19 0 49 0 11 0-350 1 31 0 3 0 0 0 23 0 11 0 18 0 8 0 17 0 16 0 8 0 8 0 3 0 4 0 21 0 7 0 3 0 3 0 14 0 25 0 7 0 1 0 2 0 95 0-328 1 11 0 33 0 1 0 19 0 42 0 23 0 17 0 4 0 14 0 4 0 69 0 32 0 13 0 6 0 34 0 33 0-346 1 96 0 1 0 16 0 12 0 5 0 10 0 4 0 2 0 4 0 24 0 58 0 3 0 41 0 7 0 67 0-364 1 10 0 49 0 12 0 23 0 10 0 8 0 12 0 6 0 52 0 1 0 26 0 1 0 14 0 11 0 38 0 15 0 26 0 44 0-304 1 0 0 14 0 4 0 14 0 2 0 39 0 38 0 5 0 12 0 70 0 18 0 6 0 6 0 18 0 7 0 1 0 3 0 5 0 0 0 7 0 5 0 27 0 0 0-263 1 19 0 1 0 27 0 9 0 10 0 16 0 7 0 0 0 14 0 2 0 27 0 5 0 26 0-172 1 0 0 15 0 3 0 3 0 7 0 18 0 24 0 26 0 38 0 28 0 22 0 0 0 51 0-303 1 23 0 10 0 7 0 17 0 11 0 11 0 2 0 26 0 10 0 4 0 16 0 0 0 10 0 4 0 36 0 6 0 8 0 0 0 17 0 20 0 14 0 11 0 4 0 12 0-263 1 6 0 23 0 2 0 14 0 1 0 8 0 10 0 1 0 15 0 1 0 3 0 23 0 9 0 19 0 23 0 4 0 38 0 5 0 2 0 16 0 23 0 7 0 44 0 30 0 2 0-345 1 23 0 3 0 17 0 3 0 19 0 12 0 21 0 0 0 4 0 8 0 2 0 7 0 20 0 18 0 1 0 16 0 25 0 27 0 36 0 13 0 46 0-325 1 69 0 5 0 2 0 1 0 0 0 5 0 18 0 1 0 0 0 13 0 10 0 4 0 12 0 20 0 20 0 31 0 43 0 28 0-245 1 18 0 36 0 6 0 0 0 15 0 7 0 3 0 52 0 20 0 8 0 5 0 58 0 0 0 8 0 31 0-269 1 31 0 33 0 6 0 26 0 1 0 39 0 5 0 15 0 1 0 17 0 4 0 20 0 68 0 35 0-313 1 15 0 51 0 0 0 18 0 6 0 13 0 15 0 10 0 12 0 17 0 10 0 45 0 19 0 9 0-252 1 13 0 34 0 7 0 4 0 14 0 4 0 4 0 7 0 5 0 4 0 1 0 40 0 19 0 25 0 4 0 6 0 3 0 12 0 2 0 0 0 7 0 2 0 60 0 47 0-303 1 7 0 34 0 13 0 43 0 20 0 16 0 2 0 1 0 25 0 48 0 72 0 2 0 1 0 27 0-292 1 22 0 26 0 21 0 5 0 0 0 4 0 25 0 10 0 4 0 14 0 8 0 2 0 34 0 24 0 24 0 5 0 25 0 13 0 3 0 28 0 3 0-300 1 5 0 27 0 6 0 19 0 8 0 29 0 3 0 14 0 15 0 1 0 17 0 41 0 36 0 14 0 10 0 1 0 24 0 16 0 3 0 9 0 1 0-287 1 2 0 5 0 27 0 1 0 26 0 3 0 1 0 2 0 4 0 5 0 50 0 7 0 11 0 42 0 26 0 37 0-248 1 19 0 7 0 13 0 36 0 3 0 19 0 1 0 2 0 20 0 5 0 2 0 1 0 2 0 1 0 5 0 4 0 21 0 5 0 5 0 49 0 6 0 11 0 1 0 44 0-326 1 14 0 0 0 6 0 53 0 4 0 26 0 7 0 7 0 24 0 49 0 12 0 3 0 38 0 1 0 10 0 31 0 2 0-252 1 63 0 3 0 11 0 15 0 14 0 4 0 15 0 15 0 13 0 2 0 19 0 8 0 7 0 10 0 9 0 7 0 45 0-306 1 74 0 19 0 6 0 2 0 25 0 10 0 17 0 2 0 0 0 1 0 19 0 35 0 29 0 20 0 9 0 8 0 17 0 1 0 19 0 6 0 7 0 4 0-296 1 11 0 21 0 7 0 26 0 4 0 14 0 10 0 4 0 16 0 5 0 4 0 2 0 9 0 5 0 23 0 2 0 12 0 68 0 2 0 32 0 15 0 9 0 2 0 6 0-305 1 0 0 7 0 43 0 26 0 11 0 5 0 7 0 52 0 26 0 45 0 3 0 24 0 2 0 16 0-298 1 0 0 6 0 17 0 1 0 6 0 9 0 12 0 19 0 18 0 9 0 31 0 3 0 5 0 4 0 2 0 20 0 2 0 3 0 26 0 30 0 6 0 10 0 53 0 8 0 11 0 26 0-337 1 58 0 28 0 13 0 6 0 3 0 18 0 36 0 14 0 7 0 7 0 2 0 26 0 21 0 2 0 6 0 9 0 52 0-253 1 11 0 1 0 0 0 13 0 1 0 18 0 5 0 30 0 3 0 5 0 26 0 1 0 1 0 18 0 19 0 9 0 2 0 7 0 35 0 27 0 8 0 8 0 16 0 4 0 10 0-318 1 36 0 32 0 52 0 7 0 38 0 6 0 2 0 14 0 22 0 10 0-170 1 10 0 14 0 4 0 2 0 6 0 6 0 22 0 70 0 80 0 14 0 19 0 24 0-271 1 48 0 50 0 1 0 6 0 10 0 1 0 1 0 19 0 6 0 21 0 10 0 20 0 22 0 16 0 21 0 16 0-264 1 5 0 54 0 27 0 1 0 9 0 20 0 5 0 4 0 9 0 14 0 14 0 42 0 11 0 23 0-261 1 41 0 14 0 5 0 14 0 3 0 33 0 6 0 8 0 5 0 8 0 9 0 7 0 7 0 16 0 28 0 28 0 7 0 15 0-252 1 14 0 0 0 47 0 24 0 5 0 1 0 20 0 15 0 5 0 34 0 0 0 39 0 7 0 8 0 43 0 21 0-309 1 21 0 5 0 14 0 12 0 36 0 14 0 7 0 45 0 29 0 9 0 3 0 3 0 1 0 12 0 3 0 6 0 4 0 3 0 14 0 5 0 5 0 38 0 20 0 4 0-313 1 24 0 2 0 49 0 7 0 23 0 18 0 9 0 4 0 4 0 0 0 8 0 21 0 28 0 1 0 9 0 10 0 6 0 3 0 8 0 11 0 12 0 4 0 8 0 20 0 13 0-283 1 5 0 31 0 13 0 0 0 6 0 26 0 2 0 9 0 47 0 2 0 88 0 17 0 8 0 18 0 5 0-271 1 14 0 9 0 3 0 12 0 16 0 11 0 8 0 0 0 6 0 2 0 9 0 26 0 1 0 5 0 9 0 16 0 34 0 11 0 4 0 4 0 22 0 4 0 17 0 2 0 7 0 13 0 22 0-279 1 13 0 3 0 18 0 30 0 6 0 0 0 1 0 16 0 8 0 8 0 3 0 9 0 8 0 23 0 4 0 0 0 0 0 3 0 18 0 14 0 7 0 5 0 2 0 1 0 16 0 2 0 27 0-247 1 10 0 24 0 17 0 17 0 7 0 10 0 14 0 9 0 12 0 4 0 45 0 26 0 29 0 1 0 4 0 2 0 33 0-224 1 3 0 10 0 16 0 2 0 1 0 8 0 23 0 9 0 4 0 38 0 13 0 20 0 6 0 2 0 11 0 25 0 22 0 26 0-285 1 12 0 2 0 11 0 9 0 1 0 10 0 1 0 3 0 7 0 30 0 19 0 20 0 18 0 16 0 8 0 8 0 13 0 6 0 0 0 12 0 12 0 43 0 1 0 11 0-302 1 18 0 69 0 52 0 13 0 37 0 8 0 7 0 9 0 36 0 1 0 15 0 18 0 3 0-227 1 0 0 14 0 24 0 44 0 45 0 6 0 6 0 9 0 7 0 85 0 1 0-262 1 77 0 6 0 2 0 4 0 16 0 1 0 5 0 11 0 6 0 15 0 6 0 15 0 16 0 8 0 8 0 40 0 3 0-237 1 17 0 25 0 22 0 19 0 19 0 1 0 1 0 9 0 31 0 9 0 18 0 2 0 7 0 9 0 26 0 5 0 6 0 12 0 3 0 5 0 1 0 21 0 9 0-259 1 27 0 30 0 34 0 10 0 15 0 25 0 1 0 17 0 9 0 3 0 36 0-220 1 41 0 16 0 8 0 18 0 13 0 14 0 7 0 16 0 12 0 7 0 2 0 29 0 55 0 23 0-225 1 9 0 7 0 1 0 26 0 2 0 17 0 2 0 20 0 2 0 6 0 2 0 60 0 22 0 4 0 7 0 5 0 4 0 1 0 4 0-234 1 2 0 31 0 17 0 1 0 4 0 13 0 5 0 9 0 8 0 1 0 6 0 46 0 1 0 6 0 20 0 61 0 13 0 25 0-277 1 38 0 5 0 0 0 2 0 22 0 8 0 3 0 5 0 1 0 2 0 22 0 13 0 9 0 3 0 29 0 7 0 28 0 0 0 10 0 21 0 8 0 31 0-223 1 9 0 4 0 1 0 6 0 1 0 28 0 1 0 5 0 10 0 32 0 1 0 0 0 15 0 22 0 37 0 49 0 1 0-221 1 12 0 8 0 7 0 2 0 16 0 21 0 8 0 1 0 33 0 0 0 3 0 9 0 3 0 15 0 24 0 4 0 9 0 35 0 11 0-270 1 10 0 27 0 3 0 74 0 21 0 8 0 21 0 2 0 13 0 5 0 32 0 2 0 31 0 16 0 6 0 3 0-243 1 1 0 2 0 67 0 1 0 1 0 5 0 3 0 13 0 32 0 15 0 13 0 2 0 8 0 4 0 2 0 12 0 4 0 10 0 7 0 5 0 16 0 5 0 2 0-220 1 85 0 0 0 21 0 8 0 16 0 3 0 5 0 7 0 3 0 5 0 11 0 38 0 31 0-262 1 8 0 11 0 14 0 25 0 6 0 4 0 23 0 39 0 14 0 40 0 18 0 55 0-257 1 59 0 13 0 49 0 0 0 19 0 10 0 3 0 16 0 26 0 0 0 13 0 26 0 12 0 17 0 6 0-237 1 43 0 19 0 10 0 5 0 1 0 0 0 7 0 4 0 3 0 9 0 8 0 1 0 59 0 5 0 7 0 20 0 21 0 0 0-232 1 18 0 44 0 57 0 29 0 24 0 16 0 13 0 5 0 14 0 5 1 5 0-47 1 23 0 9 0 11 0 6 0 11 0-33 1 22 0 7 0 7 0-63 1 14 0-6 1 26 0 6 0 5 0 10 0 4 0-38 1-19 1 9 0 26 0 11 0-33 1" fill="none" marker-start="url(#q)" marker-mid="url(#q)" marker-end="url(#q)"/>
<path d="M222.4 35.0H484.1M487.0 35.0H513.2M519.5 35.0H527.0M534.5 35.0H550.5M570.2 35.0H574.7M591.5 35.0H599.0M611.3 35.0H615.7M627.7 35.0H632.5M707.0 35.0H711.6M744.4 35.0H748.8M788.0 35.0H792.8" stroke="#bebebe" stroke-width="4.4" fill="none"/>
<polyline points="224.4,386.1 224.4,386.2 224.4,386.7 224.4,387.6 224.5,388.7 224.5,390.2 224.5,391.9 224.6,394.0 224.6,396.3 224.7,398.9 224.8,401.7 224.9,404.8 224.9,408.1 225.0,411.6 225.1,415.3 225.3,419.1 225.4,423.1 225.5,427.2 225.6,431.4 225.8,435.6 225.9,440.0 226.1,444.4 226.2,448.9 226.4,453.4 226.6,457.9 226.8,462.4 227.0,466.8 227.2,471.3 227.4,475.8 227.6,480.2 227.8,484.5 228.0,488.8 228.3,493.1 228.5,497.3 228.8,501.4 229.0,505.4 229.3,509.4 229.6,513.3 229.9,517.1 230.2,520.9 230.5,524.6 230.8,528.1 231.1,531.6 231.4,535.1 231.7,538.4 232.1,541.6 232.4,544.8 232.8,547.9 233.1,550.9 233.5,553.9 233.9,556.7 234.2,559.5 234.6,562.2 235.0,564.9 235.4,567.4 235.9,569.9 236.3,572.4 236.7,574.7 237.1,577.0 237.6,579.3 238.0,581.4 238.5,583.5 239.0,585.6 239.4,587.6 239.9,589.5 240.4,591.4 240.9,593.3 241.4,595.1 241.9,596.8 242.4,598.5 243.0,600.2 243.5,601.8 244.0,603.3 244.6,604.9 245.1,606.3 245.7,607.8 246.3,609.2 246.8,610.5 247.4,611.9 248.0,613.2 248.6,614.4 249.2,615.7 249.9,616.9 250.5,618.0 251.1,619.2 251.8,620.3 252.4,621.3 253.1,622.4 253.7,623.4 254.4,624.4 255.1,625.4 255.8,626.4 256.4,627.3 257.1,628.2 257.9,629.1 258.6,629.9 259.3,630.8 260.0,631.6 260.8,632.4 261.5,633.2 262.3,634.0 263.0,634.7 263.8,635.4 264.6,636.1 265.4,636.8 266.1,637.5 266.9,638.2 267.7,638.8 268.6,639.5 269.4,640.1 270.2,640.7 271.1,641.3 271.9,641.9 272.7,642.5 273.6,643.0 274.5,643.6 275.3,644.1 276.2,644.6 277.1,645.1 278.0,645.6 278.9,646.1 279.8,646.6 280.8,647.1 281.7,647.5 282.6,648.0 283.6,648.4 284.5,648.9 285.5,649.3 286.4,649.7 287.4,650.1 288.4,650.5 289.4,650.9 290.4,651.3 291.4,651.7 292.4,652.0 293.4,652.4 294.4,652.8 295.5,653.1 296.5,653.5 297.6,653.8 298.6,654.1 299.7,654.4 300.7,654.8 301.8,655.1 302.9,655.4 304.0,655.7 305.1,656.0 306.2,656.3 307.3,656.6 308.5,656.8 309.6,657.1 310.7,657.4 311.9,657.6 313.0,657.9 314.2,658.2 315.4,658.4 316.5,658.7 317.7,658.9 318.9,659.1 320.1,659.4 321.3,659.6 322.5,659.8 323.8,660.1 325.0,660.3 326.2,660.5 327.5,660.7 328.7,660.9 330.0,661.1 331.3,661.3 332.5,661.5 333.8,661.7 335.1,661.9 336.4,662.1 337.7,662.3 339.0,662.5 340.4,662.7 341.7,662.8 343.0,663.0 344.4,663.2 345.7,663.4 347.1,663.5 348.4,663.7 349.8,663.9 351.2,664.0 352.6,664.2 354.0,664.3 355.4,664.5 356.8,664.6 358.2,664.8 359.7,664.9 361.1,665.1 362.5,665.2 364.0,665.4 365.4,665.5 366.9,665.6 368.4,665.8 369.9,665.9 371.3,666.0 372.8,666.2 374.3,666.3 375.9,666.4 377.4,666.5 378.9,666.7 380.4,666.8 382.0,666.9 383.5,667.0 385.1,667.1 386.6,667.2 388.2,667.4 389.8,667.5 391.4,667.6 393.0,667.7 394.6,667.8 396.2,667.9 397.8,668.0 399.4,668.1 401.1,668.2 402.7,668.3 404.3,668.4 406.0,668.5 407.7,668.6 409.3,668.7 411.0,668.8 412.7,668.9 414.4,669.0 416.1,669.1 417.8,669.1 419.5,669.2 421.2,669.3 423.0,669.4 424.7,669.5 426.4,669.6 428.2,669.7 430.0,669.7 431.7,669.8 433.5,669.9 435.3,670.0 437.1,670.1 438.9,670.1 440.7,670.2 442.5,670.3 444.3,670.4 446.1,670.4 448.0,670.5 449.8,670.6 451.7,670.6 453.5,670.7 455.4,670.8 457.3,670.9 459.2,670.9 461.0,671.0 462.9,671.1 464.8,671.1 466.8,671.2 468.7,671.2 470.6,671.3 472.5,671.4 474.5,671.4 476.4,671.5 478.4,671.6 480.4,671.6 482.3,671.7 484.3,671.7 486.3,671.8 488.3,671.8 490.3,671.9 492.3,672.0 494.3,672.0 496.4,672.1 498.4,672.1 500.4,672.2 502.5,672.2 504.5,672.3 506.6,672.3 508.7,672.4 510.7,672.4 512.8,672.5 514.9,672.5 517.0,672.6 519.1,672.6 521.3,672.7 523.4,672.7 525.5,672.8 527.6,672.8 529.8,672.9 531.9,672.9 534.1,673.0 536.3,673.0 538.5,673.1 540.6,673.1 542.8,673.1 545.0,673.2 547.2,673.2 549.5,673.3 551.7,673.3 553.9,673.3 556.1,673.4 558.4,673.4 560.6,673.5 562.9,673.5 565.2,673.6 567.4,673.6 569.7,673.6 572.0,673.7 574.3,673.7 576.6,673.7 578.9,673.8 581.3,673.8 583.6,673.9 585.9,673.9 588.3,673.9 590.6,674.0 593.0,674.0 595.3,674.0 597.7,674.1 600.1,674.1 602.5,674.1 604.9,674.2 607.3,674.2 609.7,674.2 612.1,674.3 614.5,674.3 617.0,674.3 619.4,674.4 621.9,674.4 624.3,674.4 626.8,674.5 629.3,674.5 631.8,674.5 634.2,674.5 636.7,674.6 639.2,674.6 641.7,674.6 644.3,674.7 646.8,674.7 649.3,674.7 651.9,674.8 654.4,674.8 657.0,674.8 659.5,674.8 662.1,674.9 664.7,674.9 667.3,674.9 669.9,674.9 672.5,675.0 675.1,675.0 677.7,675.0 680.3,675.0 682.9,675.1 685.6,675.1 688.2,675.1 690.9,675.1 693.5,675.2 696.2,675.2 698.9,675.2 701.6,675.2 704.3,675.3 707.0,675.3 709.7,675.3 712.4,675.3 715.1,675.4 717.8,675.4 720.6,675.4 723.3,675.4 726.1,675.5 728.8,675.5 731.6,675.5 734.4,675.5 737.2,675.5 740.0,675.6 742.8,675.6 745.6,675.6 748.4,675.6 751.2,675.7 754.0,675.7 756.9,675.7 759.7,675.7 762.6,675.7 765.4,675.8 768.3,675.8 771.1,675.8 774.0,675.8 776.9,675.8 779.8,675.9 782.7,675.9 785.6,675.9 788.6,675.9 791.5,675.9 794.4,675.9 797.4,676.0 800.3,676.0 803.3,676.0 806.2,676.0 809.2,676.0 812.2,676.1 815.2,676.1 818.2,676.1 821.2,676.1 824.2,676.1 827.2,676.1 830.2,676.2" fill="none" stroke="#ff0000" stroke-width="6.2" stroke-linecap="round" stroke-linejoin="round"/>
<line x1="200.7" y1="617.6" x2="854.3" y2="617.6" stroke="#0000ff" stroke-width="2"/>
<line x1="231.3" y1="9.4" x2="231.3" y2="708.2" stroke="#00ff00" stroke-width="2.6"/>
<rect x="200.7" y="9.4" width="653.6" height="698.8" fill="none" stroke="#000" stroke-width="2.4"/>
<line x1="224.4" y1="708.2" x2="224.4" y2="730.7" stroke="#000" stroke-width="2.4"/>
<line x1="373.8" y1="708.2" x2="373.8" y2="730.7" stroke="#000" stroke-width="2.4"/>
<line x1="523.2" y1="708.2" x2="523.2" y2="730.7" stroke="#000" stroke-width="2.4"/>
<line x1="672.6" y1="708.2" x2="672.6" y2="730.7" stroke="#000" stroke-width="2.4"/>
<line x1="822.0" y1="708.2" x2="822.0" y2="730.7" stroke="#000" stroke-width="2.4"/>
<text transform="translate(224.40,787.60) scale(1.0000,1)" font-size="37.5" text-anchor="middle" fill="#000" font-weight="normal" font-family="'TeX Gyre Heros', 'Liberation Sans', Arial, sans-serif">0</text>
<text transform="translate(373.80,787.60) scale(1.0000,1)" font-size="37.5" text-anchor="middle" fill="#000" font-weight="normal" font-family="'TeX Gyre Heros', 'Liberation Sans', Arial, sans-serif">100</text>
<text transform="translate(523.20,787.60) scale(1.0000,1)" font-size="37.5" text-anchor="middle" fill="#000" font-weight="normal" font-family="'TeX Gyre Heros', 'Liberation Sans', Arial, sans-serif">200</text>
<text transform="translate(672.60,787.60) scale(1.0000,1)" font-size="37.5" text-anchor="middle" fill="#000" font-weight="normal" font-family="'TeX Gyre Heros', 'Liberation Sans', Arial, sans-serif">300</text>
<text transform="translate(822.00,787.60) scale(1.0000,1)" font-size="37.5" text-anchor="middle" fill="#000" font-weight="normal" font-family="'TeX Gyre Heros', 'Liberation Sans', Arial, sans-serif">400</text>
<line x1="177.3" y1="682.3" x2="200.7" y2="682.3" stroke="#000" stroke-width="2.4"/>
<text transform="translate(148.00,682.30) rotate(-90) scale(1.0000,1)" font-size="37.5" text-anchor="middle" fill="#000" font-weight="normal" font-family="'TeX Gyre Heros', 'Liberation Sans', Arial, sans-serif">0.0</text>
<line x1="177.3" y1="552.8" x2="200.7" y2="552.8" stroke="#000" stroke-width="2.4"/>
<text transform="translate(148.00,552.84) rotate(-90) scale(1.0000,1)" font-size="37.5" text-anchor="middle" fill="#000" font-weight="normal" font-family="'TeX Gyre Heros', 'Liberation Sans', Arial, sans-serif">0.2</text>
<line x1="177.3" y1="423.4" x2="200.7" y2="423.4" stroke="#000" stroke-width="2.4"/>
<text transform="translate(148.00,423.38) rotate(-90) scale(1.0000,1)" font-size="37.5" text-anchor="middle" fill="#000" font-weight="normal" font-family="'TeX Gyre Heros', 'Liberation Sans', Arial, sans-serif">0.4</text>
<line x1="177.3" y1="293.9" x2="200.7" y2="293.9" stroke="#000" stroke-width="2.4"/>
<text transform="translate(148.00,293.92) rotate(-90) scale(1.0000,1)" font-size="37.5" text-anchor="middle" fill="#000" font-weight="normal" font-family="'TeX Gyre Heros', 'Liberation Sans', Arial, sans-serif">0.6</text>
<line x1="177.3" y1="164.5" x2="200.7" y2="164.5" stroke="#000" stroke-width="2.4"/>
<text transform="translate(148.00,164.46) rotate(-90) scale(1.0000,1)" font-size="37.5" text-anchor="middle" fill="#000" font-weight="normal" font-family="'TeX Gyre Heros', 'Liberation Sans', Arial, sans-serif">0.8</text>
<line x1="177.3" y1="35.0" x2="200.7" y2="35.0" stroke="#000" stroke-width="2.4"/>
<text transform="translate(148.00,35.00) rotate(-90) scale(1.0000,1)" font-size="37.5" text-anchor="middle" fill="#000" font-weight="normal" font-family="'TeX Gyre Heros', 'Liberation Sans', Arial, sans-serif">1.0</text>
<text transform="translate(230.82,746.00) scale(0.9500,1)" font-size="28.5" text-anchor="middle" fill="#00ff00" font-weight="normal" font-family="'TeX Gyre Heros', 'Liberation Sans', Arial, sans-serif">4.63</text>
<text transform="translate(527.60,860.70) scale(1.0000,1)" font-size="37.5" text-anchor="middle" fill="#000" font-weight="normal" font-family="'TeX Gyre Heros', 'Liberation Sans', Arial, sans-serif">Distance(Mb)</text>
<text transform="translate(50.00,358.80) rotate(-90) scale(1.0,1)" font-size="37.5" text-anchor="middle" font-family="'TeX Gyre Heros', 'Liberation Sans', Arial, sans-serif">LD <tspan font-size="42.0">(</tspan>r<tspan font-size="26" dy="-17.5">2</tspan><tspan dy="17.5" font-size="42.0">)</tspan></text>
<text transform="translate(3.10,858.00) scale(1.05,1)" font-size="51" font-weight="bold" font-family="Carlito, 'Liberation Sans', sans-serif">(a)</text>
<path d="M1135 51h32M1169 51h2M1175 51h4M1135 53h30M1171 53h2M1135 55h34M1171 55h6M1179 55h2M1135 57h36M1175 57h2M1135 59h34M1175 59h2M1135 61h32M1169 61h2M1173 61h2M1179 61h2M1135 63h40M1135 65h32M1177 65h4M1135 67h36M1175 67h2M1135 69h34M1173 69h2M1177 69h4M1135 71h36M1135 73h34M1171 73h2M1177 73h2M1135 75h46M1135 77h38M1135 79h36M1175 79h4M1183 79h2M1135 81h34M1175 81h2M1181 81h2M1135 83h34M1171 83h2M1175 83h6M1135 85h30M1167 85h10M1179 85h2M1135 87h32M1169 87h2M1179 87h6M1135 89h38M1177 89h2M1181 89h2M1135 91h42M1135 93h32M1171 93h6M1179 93h4M1185 93h2M1135 95h40M1181 95h4M1135 97h42M1135 99h36M1173 99h4M1135 101h34M1171 101h8M1135 103h40M1181 103h2M1135 105h36M1173 105h2M1177 105h4M1185 105h2M1135 107h30M1167 107h4M1173 107h6M1183 107h4M1135 109h36M1173 109h6M1183 109h2M1135 111h38M1181 111h2M1189 111h2M1135 113h36M1173 113h2M1177 113h2M1183 113h2M1135 115h42M1135 117h42M1179 117h6M1135 119h36M1173 119h4M1183 119h2M1135 121h36M1173 121h12M1187 121h2M1135 123h36M1173 123h10M1135 125h32M1169 125h4M1185 125h2M1135 127h34M1171 127h10M1187 127h2M1135 129h44M1181 129h2M1185 129h2M1135 131h36M1179 131h2M1183 131h8M1135 133h42M1179 133h4M1185 133h2M1189 133h4M1135 135h44M1181 135h2M1187 135h6M1135 137h44M1181 137h2M1185 137h2M1191 137h4M1197 137h2M1135 139h38M1175 139h8M1135 141h48M1185 141h6M1193 141h2M1135 143h38M1175 143h6M1195 143h2M1135 145h38M1175 145h2M1179 145h10M1193 145h4M1135 147h46M1183 147h4M1191 147h2M1195 147h2M1135 149h60M1135 151h56M1135 153h38M1175 153h2M1179 153h6M1187 153h4M1135 155h40M1177 155h4M1183 155h4M1191 155h2M1135 157h50M1195 157h2M1199 157h2M1135 159h44M1181 159h6M1191 159h2M1197 159h2M1135 161h44M1181 161h4M1187 161h2M1191 161h4M1135 163h48M1185 163h10M1135 165h44M1181 165h2M1185 165h2M1191 165h2M1197 165h4M1135 167h42M1179 167h4M1185 167h4M1193 167h2M1135 169h50M1187 169h4M1195 169h2M1135 171h42M1179 171h4M1135 173h38M1175 173h2M1187 173h2M1193 173h2M1135 175h38M1183 175h6M1191 175h2M1135 177h50M1189 177h4M1195 177h2M1135 179h44M1181 179h6M1135 181h32M1169 181h2M1173 181h6M1183 181h8M1199 181h2M1135 183h48M1187 183h6M1201 183h2M1135 185h36M1177 185h6M1185 185h14M1135 187h46M1183 187h10M1135 189h34M1171 189h8M1181 189h4M1187 189h2M1199 189h2M1135 191h30M1167 191h16M1189 191h4M1197 191h2M1135 193h42M1179 193h6M1189 193h6M1199 193h2M1135 195h34M1171 195h8M1181 195h2M1185 195h4M1197 195h2M1135 197h48M1191 197h2M1135 199h38M1175 199h10M1191 199h6M1199 199h2M1135 201h40M1177 201h4M1185 201h4M1191 201h2M1195 201h4M1135 203h30M1167 203h8M1179 203h2M1183 203h2M1193 203h2M1135 205h50M1187 205h2M1191 205h2M1135 207h42M1179 207h2M1183 207h2M1193 207h2M1135 209h44M1183 209h8M1195 209h4M1135 211h40M1179 211h8M1189 211h2M1197 211h2M1135 213h50M1187 213h6M1203 213h2M1135 215h38M1177 215h2M1181 215h2M1187 215h6M1195 215h2M1135 217h40M1177 217h8M1187 217h2M1135 219h40M1177 219h2M1183 219h4M1189 219h2M1193 219h2M1205 219h2M1135 221h40M1177 221h2M1183 221h2M1187 221h2M1191 221h2M1195 221h2M1135 223h40M1179 223h6M1191 223h2M1205 223h2M1135 225h50M1187 225h2M1191 225h10M1205 225h2M1135 227h48M1187 227h2M1135 229h34M1175 229h8M1185 229h2M1189 229h4M1195 229h8M1205 229h2M1135 231h34M1171 231h10M1193 231h4M1135 233h44M1181 233h6M1189 233h2M1193 233h2M1199 233h2M1135 235h38M1177 235h6M1185 235h10M1197 235h2M1135 237h50M1187 237h2M1191 237h2M1135 239h42M1183 239h2M1197 239h2M1209 239h2M1135 241h40M1177 241h6M1185 241h4M1193 241h8M1135 243h50M1187 243h2M1191 243h6M1199 243h2M1203 243h2M1135 245h46M1183 245h2M1195 245h2M1135 247h42M1179 247h6M1187 247h4M1199 247h2M1135 249h40M1177 249h2M1181 249h2M1185 249h2M1189 249h10M1135 251h44M1185 251h4M1191 251h4M1209 251h2M1135 253h44M1185 253h2M1199 253h2M1135 255h34M1171 255h2M1175 255h8M1185 255h2M1189 255h2M1195 255h2M1201 255h4M1135 257h36M1177 257h2M1181 257h2M1185 257h2M1189 257h4M1211 257h2M1135 259h38M1175 259h6M1185 259h2M1189 259h2M1195 259h2M1207 259h2M1135 261h38M1175 261h10M1191 261h2M1199 261h2M1211 261h2M1135 263h42M1181 263h2M1185 263h4M1197 263h6M1135 265h48M1185 265h4M1193 265h2M1205 265h2M1209 265h2M1135 267h36M1175 267h8M1185 267h4M1195 267h2M1199 267h4M1207 267h2M1135 269h50M1189 269h4M1195 269h2M1203 269h4M1209 269h2M1135 271h42M1181 271h8M1193 271h2M1197 271h2M1205 271h2M1213 271h2M1217 271h2M1221 271h2M1135 273h46M1183 273h2M1187 273h2M1195 273h4M1201 273h2M1135 275h42M1179 275h12M1195 275h2M1201 275h2M1209 275h2M1135 277h34M1171 277h2M1175 277h4M1181 277h2M1185 277h2M1191 277h6M1207 277h8M1217 277h2M1135 279h40M1177 279h6M1185 279h2M1189 279h2M1197 279h2M1201 279h2M1135 281h46M1183 281h8M1193 281h2M1197 281h2M1203 281h2M1211 281h2M1227 281h2M1135 283h36M1173 283h10M1189 283h4M1195 283h2M1203 283h2M1211 283h4M1217 283h2M1135 285h40M1177 285h6M1185 285h6M1207 285h2M1135 287h38M1175 287h12M1191 287h2M1197 287h2M1215 287h2M1135 289h38M1175 289h2M1181 289h4M1191 289h4M1197 289h2M1205 289h2M1213 289h2M1135 291h46M1187 291h2M1191 291h2M1195 291h2M1209 291h2M1215 291h2M1135 293h48M1185 293h2M1191 293h4M1135 295h42M1179 295h4M1187 295h4M1193 295h4M1199 295h4M1211 295h2M1223 295h2M1135 297h44M1183 297h10M1209 297h2M1135 299h36M1173 299h16M1193 299h2M1197 299h4M1209 299h2M1213 299h2M1221 299h2M1135 301h40M1177 301h6M1185 301h4M1197 301h6M1215 301h2M1135 303h40M1177 303h8M1189 303h2M1205 303h2M1211 303h2M1219 303h2M1135 305h40M1177 305h2M1183 305h6M1199 305h4M1205 305h2M1135 307h38M1175 307h14M1191 307h2M1195 307h2M1135 309h42M1179 309h2M1183 309h2M1187 309h2M1191 309h6M1203 309h2M1135 311h32M1169 311h4M1175 311h6M1207 311h2M1213 311h2M1219 311h2M1229 311h2M1135 313h44M1181 313h4M1191 313h4M1201 313h2M1205 313h2M1209 313h2M1219 313h2M1135 315h48M1185 315h2M1189 315h2M1193 315h2M1197 315h2M1205 315h2M1217 315h2M1135 317h44M1181 317h4M1187 317h2M1193 317h6M1211 317h4M1221 317h2M1227 317h2M1135 319h60M1197 319h4M1205 319h2M1211 319h4M1135 321h48M1187 321h6M1195 321h2M1199 321h10M1135 323h50M1187 323h2M1191 323h6M1199 323h14M1223 323h2M1135 325h40M1177 325h8M1187 325h2M1201 325h2M1205 325h4M1213 325h2M1229 325h2M1135 327h46M1183 327h18M1203 327h2M1207 327h2M1213 327h2M1235 327h2M1135 329h46M1183 329h2M1191 329h8M1201 329h2M1205 329h6M1213 329h6M1229 329h2M1135 331h44M1181 331h10M1195 331h4M1205 331h2M1209 331h4M1215 331h10M1231 331h2M1135 333h54M1193 333h6M1203 333h2M1219 333h2M1225 333h2M1135 335h56M1195 335h2M1199 335h8M1217 335h4M1227 335h2M1135 337h44M1181 337h14M1199 337h4M1205 337h8M1217 337h6M1229 337h2M1235 337h2M1239 337h2M1135 339h38M1175 339h4M1181 339h8M1191 339h4M1203 339h2M1209 339h2M1219 339h2M1223 339h4M1233 339h2M1135 341h70M1207 341h2M1215 341h2M1219 341h4M1227 341h2M1231 341h2M1239 341h4M1135 343h62M1199 343h2M1203 343h2M1207 343h6M1217 343h6M1229 343h2M1233 343h2M1135 345h44M1181 345h14M1197 345h4M1207 345h2M1211 345h4M1225 345h2M1231 345h4M1243 345h2M1135 347h82M1225 347h6M1237 347h2M1135 349h62M1199 349h14M1215 349h10M1227 349h2M1231 349h6M1241 349h2M1135 351h52M1189 351h32M1225 351h2M1229 351h4M1237 351h4M1135 353h66M1205 353h2M1209 353h12M1223 353h4M1229 353h4M1235 353h2M1247 353h4M1135 355h88M1225 355h6M1235 355h4M1243 355h2M1135 357h64M1201 357h4M1209 357h2M1213 357h8M1223 357h6M1231 357h6M1241 357h2M1135 359h94M1231 359h2M1235 359h6M1253 359h2M1135 361h78M1215 361h12M1229 361h2M1237 361h2M1243 361h4M1251 361h2M1135 363h88M1225 363h2M1229 363h2M1233 363h12M1249 363h2M1135 365h96M1233 365h10M1255 365h2M1135 367h102M1239 367h2M1251 367h2M1135 369h92M1229 369h10M1249 369h4M1135 371h102M1243 371h2M1247 371h4M1255 371h2M1135 373h96M1233 373h4M1243 373h4M1249 373h2M1255 373h4M1135 375h98M1235 375h10M1253 375h2M1257 375h2M1135 377h108M1245 377h2M1249 377h2M1257 377h4M1135 379h108M1247 379h2M1255 379h6M1135 381h110M1247 381h6M1255 381h2M1135 383h108M1245 383h4M1257 383h2M1135 385h106M1243 385h4M1249 385h2M1255 385h4M1261 385h2M1135 387h114M1251 387h2M1255 387h2M1135 389h112M1251 389h2M1257 389h2M1135 391h116M1253 391h4M1259 391h2M1135 393h108M1245 393h4M1263 393h2M1135 395h106M1247 395h4M1255 395h2M1135 397h114M1251 397h2M1261 397h2M1135 399h108M1245 399h4M1251 399h2M1255 399h2M1259 399h2M1135 401h106M1243 401h4M1253 401h2M1263 401h2M1135 403h106M1243 403h8M1253 403h2M1257 403h2M1135 405h106M1243 405h2M1251 405h4M1135 407h120M1257 407h2M1261 407h2M1135 409h122M1135 411h104M1241 411h2M1249 411h2M1253 411h2M1261 411h2M1135 413h112M1263 413h2M1135 415h112M1249 415h4M1255 415h2M1135 417h104M1241 417h2M1247 417h6M1259 417h2M1135 419h116M1255 419h2M1259 419h4M1135 421h110M1247 421h4M1255 421h4M1135 423h102M1239 423h2M1243 423h4M1249 423h4M1257 423h2M1135 425h106M1243 425h4M1251 425h4M1261 425h2M1135 427h104M1241 427h8M1255 427h2M1259 427h2M1135 429h106M1243 429h2M1247 429h2M1251 429h4M1257 429h2M1263 429h2M1135 431h112M1249 431h4M1255 431h2M1259 431h2M1135 433h118M1255 433h2M1259 433h2M1135 435h118M1135 437h112M1249 437h6M1257 437h2M1265 437h2M1135 439h112M1249 439h4M1255 439h2M1269 439h2M1135 441h112M1251 441h4M1257 441h2M1261 441h2M1265 441h4M1135 443h108M1245 443h2M1251 443h2M1255 443h2M1263 443h2M1267 443h4M1135 445h110M1259 445h2M1271 445h2M1135 447h110M1249 447h4M1257 447h2M1261 447h2M1265 447h2M1135 449h114M1259 449h4M1269 449h2M1273 449h2M1135 451h114M1255 451h2M1259 451h4M1269 451h2M1135 453h110M1247 453h6M1255 453h6M1135 455h120M1259 455h6M1269 455h2M1135 457h122M1265 457h2M1269 457h2M1277 457h2M1135 459h110M1247 459h4M1253 459h2M1257 459h2M1261 459h2M1267 459h2M1135 461h114M1251 461h4M1257 461h2M1261 461h6M1135 463h114M1253 463h4M1259 463h6M1271 463h6M1135 465h112M1249 465h6M1259 465h8M1269 465h2M1275 465h2M1135 467h120M1259 467h6M1269 467h2M1283 467h2M1135 469h122M1259 469h2M1263 469h6M1135 471h108M1245 471h2M1249 471h2M1255 471h2M1261 471h6M1281 471h2M1135 473h116M1253 473h14M1271 473h2M1135 475h112M1249 475h2M1253 475h6M1265 475h4M1273 475h2M1277 475h2M1281 475h2M1135 477h126M1263 477h2M1267 477h8M1285 477h2M1135 479h122M1259 479h8M1269 479h10M1281 479h2M1135 481h124M1261 481h2M1265 481h4M1271 481h6M1135 483h128M1267 483h4M1273 483h2M1277 483h2M1283 483h2M1135 485h120M1257 485h2M1267 485h2M1271 485h2M1275 485h2M1279 485h4M1287 485h6M1135 487h138M1275 487h8M1291 487h2M1135 489h128M1265 489h8M1275 489h2M1281 489h2M1287 489h2M1135 491h128M1265 491h2M1269 491h8M1281 491h2M1287 491h2M1291 491h4M1135 493h118M1255 493h6M1263 493h4M1269 493h2M1273 493h2M1277 493h2M1135 495h134M1279 495h4M1291 495h2M1299 495h2M1135 497h124M1261 497h12M1279 497h2M1283 497h2M1287 497h2M1135 499h122M1259 499h12M1273 499h2M1277 499h2M1287 499h2M1293 499h2M1135 501h138M1275 501h2M1281 501h4M1299 501h2M1135 503h134M1271 503h14M1291 503h4M1301 503h2M1135 505h130M1271 505h4M1277 505h2M1285 505h2M1293 505h2M1135 507h148M1295 507h2M1299 507h2M1135 509h132M1271 509h8M1281 509h2M1285 509h10M1303 509h2M1135 511h132M1269 511h6M1277 511h2M1283 511h2M1287 511h2M1301 511h2M1135 513h136M1273 513h2M1287 513h2M1291 513h2M1301 513h2M1135 515h146M1283 515h6M1295 515h2M1135 517h144M1281 517h10M1307 517h2M1135 519h140M1279 519h4M1289 519h2M1295 519h2M1135 521h136M1277 521h4M1283 521h4M1297 521h2M1305 521h2M1135 523h134M1271 523h2M1277 523h4M1283 523h2M1287 523h2M1291 523h2M1297 523h2M1135 525h138M1277 525h10M1289 525h4M1295 525h6M1305 525h4M1135 527h138M1275 527h12M1291 527h4M1297 527h2M1301 527h6M1135 529h144M1289 529h6M1297 529h4M1309 529h2M1135 531h136M1273 531h10M1287 531h6M1295 531h6M1303 531h2M1135 533h134M1271 533h16M1289 533h2M1297 533h2M1303 533h2M1309 533h2M1135 535h138M1277 535h6M1285 535h8M1295 535h2M1301 535h2M1305 535h2M1135 537h156M1295 537h4M1301 537h4M1135 539h144M1281 539h2M1285 539h10M1297 539h2M1301 539h4M1311 539h2M1135 541h148M1285 541h8M1295 541h2M1301 541h4M1309 541h2M1135 543h148M1285 543h2M1289 543h2M1293 543h2M1299 543h2M1303 543h4M1135 545h142M1279 545h6M1287 545h2M1291 545h4M1297 545h6M1135 547h146M1283 547h2M1287 547h2M1297 547h4M1309 547h2M1135 549h142M1281 549h2M1285 549h12M1299 549h2M1303 549h4M1135 551h150M1287 551h2M1291 551h12M1307 551h4M1135 553h150M1287 553h6M1299 553h6M1135 555h152M1289 555h6M1299 555h2M1303 555h4M1309 555h2M1135 557h152M1291 557h8M1301 557h4M1307 557h2M1315 557h2M1135 559h160M1297 559h2M1301 559h4M1307 559h2M1135 561h162M1299 561h6M1311 561h4M1135 563h154M1291 563h8M1305 563h4M1311 563h4M1135 565h152M1291 565h4M1297 565h6M1305 565h6M1135 567h174M1311 567h2M1135 569h164M1303 569h4M1311 569h4M1317 569h2M1135 571h158M1295 571h12M1311 571h2M1317 571h2M1135 573h156M1293 573h14M1313 573h6M1135 575h170M1309 575h4M1315 575h2M1321 575h4M1135 577h156M1293 577h8M1305 577h2M1309 577h2M1313 577h8M1135 579h166M1303 579h6M1311 579h10M1135 581h164M1301 581h12M1317 581h2M1323 581h2M1135 583h174M1311 583h4M1319 583h2M1323 583h2M1135 585h170M1307 585h6M1321 585h4M1135 587h176M1313 587h2M1317 587h8M1327 587h2M1135 589h168M1305 589h2M1309 589h2M1315 589h2M1319 589h2M1323 589h4M1135 591h174M1311 591h2M1315 591h2M1321 591h2M1135 593h174M1313 593h2M1135 595h178M1315 595h2M1319 595h2M1135 597h162M1299 597h2M1305 597h4M1313 597h2M1317 597h2M1135 599h172M1311 599h4M1135 601h174M1313 601h4M1321 601h2M1135 603h176M1313 603h4M1323 603h4M1135 605h164M1301 605h10M1315 605h4M1321 605h4M1135 607h166M1305 607h18M1135 609h176M1135 611h174M1313 611h6M1325 611h2M1135 613h176M1313 613h2M1317 613h2M1135 615h236M1373 615h8M1401 615h2M1413 615h2M1135 617h238M1375 617h4M1381 617h6M1389 617h2M1395 617h2M1403 617h2M1407 617h6M1425 617h2M1135 619h238M1375 619h4M1381 619h6M1389 619h8M1401 619h2M1405 619h4M1411 619h2M1415 619h2M1423 619h2M1135 621h234M1371 621h6M1379 621h16M1397 621h6M1407 621h2M1413 621h4M1135 623h230M1367 623h8M1377 623h6M1385 623h2M1389 623h4M1395 623h6M1403 623h2M1407 623h2M1411 623h2M1421 623h2M1135 625h244M1381 625h4M1387 625h6M1395 625h2M1401 625h2M1407 625h2M1421 625h2M1135 627h250M1387 627h2M1391 627h2M1395 627h2M1399 627h2M1403 627h4M1409 627h6M1419 627h2M1135 629h232M1369 629h6M1381 629h2M1385 629h2M1389 629h2M1395 629h2M1401 629h2M1407 629h2M1411 629h2M1415 629h2M1419 629h2M1427 629h2M1135 631h254M1391 631h6M1409 631h2M1413 631h2M1421 631h2M1135 633h244M1381 633h10M1393 633h8M1405 633h2M1409 633h2M1413 633h2M1417 633h2M1441 633h2M1135 635h250M1387 635h6M1395 635h4M1403 635h2M1409 635h2M1413 635h2M1419 635h2M1135 637h256M1393 637h2M1397 637h4M1403 637h2M1409 637h4M1417 637h8M1431 637h2M1435 637h4M1135 639h256M1393 639h8M1405 639h6M1413 639h4M1419 639h2M1437 639h2M1449 639h2M1135 641h260M1397 641h2M1403 641h2M1419 641h4M1431 641h2M1135 643h244M1381 643h18M1401 643h2M1405 643h4M1411 643h4M1421 643h2M1425 643h2M1429 643h4M1135 645h262M1411 645h8M1421 645h2M1429 645h4M1447 645h2M1453 645h2M1135 647h252M1389 647h10M1403 647h8M1417 647h2M1423 647h6M1431 647h8M1447 647h2M1135 649h256M1393 649h8M1403 649h2M1409 649h2M1415 649h4M1425 649h10M1439 649h2M1445 649h2M1453 649h2M1135 651h254M1391 651h2M1395 651h6M1407 651h8M1421 651h8M1433 651h2M1439 651h8M1449 651h4M1135 653h260M1399 653h8M1409 653h2M1413 653h8M1425 653h10M1437 653h2M1441 653h2M1445 653h2M1451 653h2M1135 655h272M1409 655h2M1415 655h4M1421 655h6M1435 655h2M1439 655h6M1455 655h2M1135 657h268M1405 657h6M1413 657h10M1425 657h2M1441 657h2M1445 657h2M1135 659h264M1403 659h8M1415 659h2M1419 659h4M1425 659h2M1431 659h2M1437 659h2M1443 659h2M1447 659h4M1453 659h2M1135 661h258M1401 661h4M1411 661h4M1417 661h4M1433 661h2M1445 661h2M1449 661h6M1135 663h280M1417 663h8M1427 663h4M1443 663h2M1451 663h2M1135 665h290M1427 665h4M1435 665h2M1439 665h8M1135 667h270M1407 667h12M1421 667h4M1437 667h8M1449 667h6M1135 669h272M1409 669h14M1425 669h8M1435 669h4M1441 669h2M1445 669h4M1451 669h4M1135 671h280M1419 671h2M1423 671h2M1427 671h4M1435 671h4M1441 671h2M1447 671h2M1453 671h2M1135 673h282M1419 673h2M1423 673h6M1433 673h2M1437 673h14M1457 673h2M1135 675h284M1423 675h4M1431 675h6M1439 675h10M1451 675h6M1135 677h576M1135 679h576M1135 681h576" stroke="#bebebe" stroke-width="2" fill="none"/>
<path d="m1172 52-9 1 8 2-3 4-8 1 11 3-7 1-7 2 16 3-15 13 0 8 1 2 27 1-24 2 4 7 13 0-16 2 5 1 7 5-6 2 15 1-13 2-8 1 4 7 6 6-3 1 18 2-19 1 6 0-4 5 8 1 0 3-15 3 9 6 16 0 7 6 3 0-42 1 21 1 3 0 5 0-21 2 0 2 18 0 6 0-14 4-17 2 11 3 5 4-5 1 7 5-5 1 18 0 9 2-35 3 13 1 7 1-10 1 5 0-13 2 19 0-17 2 9 3 3 1-9 4 25 0-7 2-31 1 11 3-2 1 2 1 3 0 3 3-10 2 32 0-18 1-19 1 21 5-4 1 21 2-16 2-22 3 41 3-36 1 26 0 2 0-4 1-27 1 14 1 6 2-22 1 37 0-9 1 10 1 3 1-41 1 12 3-1 1-4 2 21 0-18 2-10 5 36 1-3 2-13 1-12 2 14 0 8 1-7 1-4 1 17 0-17 1-2 1 30 0 9 1-48 1 38 0-36 2 7 0-9 8 11 0 7 1-25 1 20 0 1 0 37 0-14 1 8 0-29 2-20 1 30 2-24 3 2 0-14 4 18 0 8 2-16 1 18 0-24 6 24 0-15 2-14 1 12 7 21 0-11 2 5 0-12 1 17 1 4 0 19 0-55 1 0 1 10 2 14 5 18 0 15 1-40 1 6 0 27 0-29 1 42 0-43 1 12 4-26 1 48 0-44 3 35 2-13 1 9 0-35 2 70 0 12 0-84 1 25 0-11 1 23 0 30 1-11 1 5 0 21 1-70 1 33 1 2 1 24 0 16 0-60 1 14 2-20 1 38 1-36 1 55 1-46 1 18 1 20 2-10 1 22 0-6 1-2 1-14 2-37 1 31 0 4 0 39 3-95 2 83 0-27 1-16 6 27 0 21 0-9 1 17 1-1 1-19 1 8 1-3 1-47 1 10 0 2 0 31 2 9 1-63 2 0 0 20 1 22 1-21 1 40 0-5 1-41 3 53 0-50 1 6 0 50 0-51 1 24 0 5 4-10 2 29 5-47 1 37 0-3 1-26 3 11 0 5 0 18 0 8 0-44 2-12 1-12 2 20 0 35 1 5 0-42 1 28 0 22 0-44 2 4 2 12 2-58 1 14 0 41 0 21 0-38 1 22 0-15 1 15 5 29 0-74 4 62 3-54 1 26 1-19 2 30 0-20 3 57 3-20 3 1 1 6 1 3 1 4 3-51 2 9 0 13 0 5 0-3 1 19 0-42 3-7 3 60 0 10 0-9 1-82 2 81 0-33 1 13 1 3 0-31 1 23 0 13 0-34 1 37 0-17 1-14 3 24 0 21 0 9 0-11 3 6 0-42 1 0 4 11 3 20 0 13 2-39 1 13 0 36 0-119 1 95 0 19 0-63 2 59 0-54 3 26 0-38 4-5 1 47 1 3 0 44 0-58 1 58 0-38 1 3 1-10 1 16 2 10 1-44 1 41 2-2 1 14 2 5 0 2 0-51 2 6 1 10 0 15 0-60 1 54 0 37 0-13 1-79 1 26 0 35 0 0 0-56 1 26 0-12 2 8 0 33 0 25 0-15 1-3 1-65 1 13 0 26 0-3 2-46 2 79 0-35 2 5 1 6 0-24 2 10 1 22 0 27 0-41 1-24 1 65 0 9 2-35 2 26 1-15 1 9 0-18 2 16 0-44 1 54 0-25 1 18 0-26 2 21 0 22 0-64 1 32 1-25 3-31 1 78 0 4 0-51 1 40 1 2 0-8 1-2 1 32 0-37 1-20 1 27 0-35 1 42 4-38 2 26 0 30 4 7 0 0 0-25 1 16 0 1 2 7 1-20 1-22 2-3 1 26 1 14 1-10 3 8 0-26 1 3 0 11 0-13 1 5 0 13 0-36 3 23 0 22 2 3 1-3 1-17 3 16 3-15 1 8 1-129 1 175 2 17 0 35 0-105 1 40 0 10 0 26 0 7 1 19 0 4 0-246 1 72 0 151 0-151 1 156 0-38 1-99 1 130 0-18 1 35 0-16 1-47 1 45 0-133 1 134 0 28 0-53 2 19 0 41 0-157 3 114 0 2 1 40 1-150 1 5 1 119 0 28 1-242 1 43 0 150 0 19 0 13 0 20 0-21 1-1 1-59 2 1 0 26 0 15 0-180 1 197 0-63 1 15 0-105 1 57 0 90 0-43 1 13 0 70 0 4 0-33 1-37 1 9 0 23 0 12 1-12 3 44 0 9 0-51 1-70 2-25 1 134 0 3 0 14 0-61 1 20 0-37 1 64 0-178 1 8 0 114 0-169 2 166 0-43 1 45 0-73 1 106 0-75 1 35 0 18 0 33 0-37 1 20 4 6 0-227 1 230 0-241 2 225 0 42 0-42 1 4 0 50 0-95 1 89 0-99 1 99 0-55 1 10 0" fill="none" marker-start="url(#h)" marker-mid="url(#h)" marker-end="url(#h)"/>
<path d="m1168 50 18 0 3 1 16 0 3 0 17 0 33 0-89 1 12 0 12 0 71 0-96 1 26 0 2 0 14 0 2 0 77 0-97 1 38 0 9 0-55 1 67 0 29 0-92 1 0 0 9 0 16 0 6 0 10 0 7 0-41 1 36 0 3 0 89 0 25 0-164 1 2 0 49 0 4 0 8 0 16 0-3 1 9 0 11 0-53 1 1 0-57 1 2 0 2 0 17 0 15 0 94 0-109 1 9 0 4 0 2 0 10 0 30 0 213 0 0 0 85 0-368 1 2 0 4 0 0 0 6 0 5 0 3 0 51 0 11 0 10 0 10 0 97 0 169 0-361 1 27 0 11 0 3 0 11 0 24 0-67 1 6 0 1 0 11 0 8 0 51 0 79 0-156 1 174 0-196 1 7 0 4 0 29 0 4 0-29 1 60 0 21 0 125 0-209 1 22 0 3 0 40 0 3 0-79 1 21 0 10 0 3 0 10 0 2 0 35 0 1 0 13 0-26 1-65 1 4 0 3 0 40 0 67 0 13 0-94 1 14 0 28 0 31 0-100 1 29 0 35 0 1 0 25 0-90 1 12 0 21 0 42 0-74 1 4 0 9 0 3 0 7 0 146 0-178 1 6 0 8 0 22 0 4 0 20 0 3 0 130 0-169 1 1 0 2 0 5 0 2 0 19 0 10 0 2 0 1 0 22 0 11 0-99 1 6 0 13 0 69 1 35 0-120 1 9 0 8 0 41 0 23 0-71 1 37 0 25 0 24 0-92 1 11 0 1 0 6 0 15 0 11 0 4 0 32 0 13 0 28 0-132 1 51 0 25 0 19 0-83 1 6 0 2 0 2 0 14 0 7 0 2 0 13 0-63 1 38 0 56 0 22 0-108 1 1 0 3 0 35 0 28 0 30 0-77 1 16 0 14 0 4 0-18 1 1 0-37 1 62 0 6 0 2 0 23 0-87 1 43 0 0 0 14 0 27 0-77 1 10 0 3 0 13 0 0 0 69 0 2 0 11 0-111 1 18 0 7 0 9 0 5 0-32 1 5 0 6 0 3 0 6 0 0 0 7 0 0 0 11 0 5 0 6 0 4 0 22 0-53 1 6 0 8 0 19 0 122 0 8 0-198 1 24 0 8 0 5 0 5 0 15 0 15 0 5 0-76 1 7 0 16 0-20 1 5 0 5 0 1 0 3 0 1 0 11 0 2 0 4 0 15 0 2 0 7 0 86 0-142 1 7 0 6 0 1 0 9 0 6 0 7 0 15 0 0 0 5 0-40 1 28 0-55 1 16 0 0 0 56 0 7 0-64 1 8 0 21 0 8 0 7 0 7 0 5 0 23 0 144 0-228 1 38 0 65 0-88 1 1 0 1 0 7 0 30 0 4 0 12 0-78 1 40 0-29 1 8 0 12 0 4 0 36 0 107 0-184 1 34 0 27 0 16 0 57 0 18 0 115 0-266 1 4 0 18 0 12 0 21 0 4 0 47 0 27 0-66 1 347 0-388 1 17 0 31 0 2 0 9 0 1 0 17 0 4 0-94 1 11 0 8 0 8 0 8 0 27 0 27 0-93 1 3 0 12 0 0 0 18 0 17 0 13 0 12 0-64 1 13 0 29 0 213 0-259 1 2 0 3 0 8 0 3 0 12 0 15 0 13 0-57 1 9 0 0 0 4 0 5 0 3 0 1 0 7 0 16 0 8 0 0 0 2 0 170 0-224 1 4 0 5 0 10 0 8 0 7 0 11 0 10 0 17 0-67 1 13 0 107 0-101 1 12 0 45 0 151 0-235 1 1 0 7 0 12 0 28 0 7 0 4 0 4 0 10 0 25 0 107 0-185 1 41 0 43 0 217 0 43 0-349 1 2 0 9 0 21 0 22 0 13 0 1 0 24 0 12 0 156 0-258 1 27 0 19 0 1 0 82 0 6 0-139 1 3 0 4 0 17 0 3 0 20 0 7 0-47 1 6 0 6 0 7 0 11 0 9 0 19 0 5 0-90 1 3 0 1 0 13 0 3 0 15 0 3 0 8 0 5 0 10 0 13 0 13 0 18 0-103 1 6 0 15 0 5 0 1 0 2 0 1 0 23 0 13 0-6 1 20 0 0 0 78 0-145 1 2 0 7 0 8 0 14 0 0 0 110 0-131 1 24 0 9 0 17 0 6 0 5 0 31 0 10 0 6 0-103 1 49 0 2 0 5 0-81 1 19 0 20 0 13 0 22 0 2 0 4 0-80 1 4 0 9 0 6 0 19 0 6 0 7 0 34 0 28 0-84 1 3 0 0 0 8 0 23 0 34 0-82 1 103 0-113 1 3 0 30 0 0 0 7 0 19 0 17 0 4 0-56 1 53 0 73 0-138 1 22 0 65 0 49 0-144 1 0 0 4 0 17 0 19 0 8 0-50 1 1 0 7 0 26 0 4 0 35 0 70 0 13 0-133 1 1 0 0 0 12 0 41 0 22 0 92 0-183 1 6 0 2 0 0 0 14 0 2 0 1 0 9 0 8 0 28 0 28 0 432 0-525 1 10 0 6 0 5 0 120 0 30 0 43 0-226 1 80 0 2 0 0 0 128 0-193 1 1 0 5 0 8 0 0 0 20 0 103 0 3 0 3 0-129 1 14 0 1 0 15 0 15 0-80 1 23 0 15 0 4 0 1 0 37 0 25 0 37 0-136 1 0 0 22 0 8 0 513 0-542 1 10 0 2 0 10 0 13 0 30 0 8 0 127 0 296 0-490 1 9 0 2 0 9 0 1 0 30 0 60 0-101 1 5 0 47 0 50 0 95 0 49 0-257 1 3 0 28 0 68 0-115 1 16 0 20 0 32 0 1 0 3 0 7 0 53 0-115 1 9 0 2 0 29 0-42 1 1 0-18 1 19 0 2 0 8 0 6 0 22 0-30 1 164 0-174 1 13 0 17 0 10 0 7 0-38 1 3 0 3 0 13 0 10 0 0 0 18 0-56 1 1 0 8 0 9 0 6 0 2 0 90 0-108 1 6 0 0 0 25 0 12 0 125 0-169 1 2 0 7 0 22 0 12 0 27 0-38 1 35 0 4 0 100 0-158 1 9 0 7 0 17 0-59 1 15 0 10 0 9 0 31 0 21 0 38 0-128 1 11 0 2 0 7 0 1 0 10 0 1 0 1 0 6 0 1 0 10 0 24 0 40 0-81 1 4 0 15 0 2 0-46 1 12 0 19 0 32 0 25 0 24 0-104 1 9 0 2 0 10 0 9 0 47 0 37 0-107 1 6 0 13 0 3 0 29 0 9 0 201 0-263 1 4 0 2 0 31 0 1 0 79 0 29 0 7 0-158 1 18 0 29 0 53 0 19 0 3 0-137 1 6 0 7 0 20 0 6 0 43 0 10 0 21 0-119 1 12 0 84 0-95 1 32 0 32 0-68 1 2 0 53 0 11 0 8 0 16 0 44 0-100 1 13 0 11 0 8 0-53 1 16 0 13 0 41 0 15 0-82 1 6 0 4 0 18 0 5 0 0 0 6 0 234 0-257 1 4 0 16 0 23 0 8 0 12 0 99 0-143 1 62 0 157 0-273 1 47 0 42 0-66 1 16 0 21 0 2 0 6 0 29 0 42 0-94 1 9 0 12 0 5 0 27 0-74 1 28 0 13 0 25 0 40 0-127 1 0 0 8 0 28 0 67 0-72 1 26 0 6 0 17 0 26 0 85 0-170 1 3 0 6 0 32 0 1 0 17 0 5 0-67 1 41 0-26 1 19 0 11 0 2 0 16 0 3 0 42 0 15 0-137 1 17 0 8 0 16 0 1 0 7 0 12 0 24 0-77 1 23 0 28 0 30 0 24 0-96 1 7 0 2 0 5 0 5 0 0 0 5 0 39 0 165 0-247 1 26 0 2 0 4 0 1 0 216 0-246 1 15 0 12 0 8 0 11 0 18 0 105 0-180 1 23 0 11 0 14 0 0 0 72 0 28 0 57 0-173 1 1 0 18 0 14 0 3 0 3 0 19 0 38 0-112 1 14 0 21 0 12 0 0 0 85 0 7 0 94 0-233 1 17 0 9 0 25 0-61 1 12 0 1 0 39 0 1 0 34 0 4 0-45 1 12 0 10 0 29 0 1 0 13 0 17 0 108 0-229 1 19 0 16 0 32 0 13 0 5 0 1 0 13 0 40 0 383 0-538 1 10 0 10 0 24 0 1 0 2 0 97 0 41 0-154 1 24 0 7 0 16 0 5 0 16 0 14 0-94 1 0 0 5 0 14 0 5 0 9 0 0 0 15 0 10 0 14 0 4 0 39 0 21 0 16 0 108 0-251 1 12 0 12 0 32 0 1 0 1 0 28 0 21 0-81 1 1 0 22 0 17 0 28 0-52 1 86 0 7 0 20 0 123 0 16 0-309 1 20 0 7 0 5 0 2 0 11 0 8 0 2 0 18 0 16 0 5 0 25 0 3 0-102 1 12 0 19 0 34 0 6 0 13 0 18 0-114 1 33 0 0 0 14 0 30 0 24 0-109 1 31 0 21 0 6 0 0 0 8 0-52 1 6 0 25 0 10 0 9 0 42 0 2 0 41 0 4 0 11 0 53 0 223 0-422 1 3 0 5 0 2 0 25 0 1 0 75 0 108 0-240 1 0 0 1 0 25 0 4 0 11 0 8 0 78 0 22 0 6 0-154 1 24 0 25 0 12 0 51 0 13 0 15 0 102 0 6 0-248 1 36 0 6 0 20 0 212 0-243 1 2 0 19 0 2 0 15 0 8 0 58 0-99 1 4 0 5 0 2 0 18 0 12 0 38 0 12 0 41 0-147 1 46 0 11 0 14 0 26 0-94 1 3 0 17 0 2 0 15 0 91 0 77 0-226 1 20 0 52 0 63 0-138 1 11 0 2 0 26 0 0 0 4 0 19 0-30 1 7 0 37 0 11 0 5 0 26 0 100 0 7 0-197 1 14 0 12 0 17 0 4 0 2 0 60 0 1 0-92 1 3 0 9 0 3 0 80 0-131 1 4 0 7 0 4 0 20 0 28 0 10 0 12 0-89 1 7 0 1 0 10 0 6 0 33 0 1 0 1 0 17 0 21 0 17 0 108 0 18 0 2 0-240 1 9 0 14 0 3 0 3 0 5 0 1 0 8 0 11 0 41 0 34 0 52 0-194 1 36 0 24 0 15 0 10 0 3 0 141 0-214 1 7 0 26 0 17 0 0 0 1 0 4 0 0 0 4 0 135 0 25 0-235 1 27 0 1 0 21 0 12 0 3 0 7 0 24 0 18 0 7 0 126 0-206 1 271 0-287 1 3 0 4 0 1 0 5 0 24 0 5 0 19 0 12 0 10 0 101 0 45 0 3 0 13 0-261 1 13 0 0 0 34 0 15 0 27 0 3 0 0 0 16 0-92 1 17 0 6 0 14 0 19 0 44 0 72 0 7 0 50 0-217 1 4 0 21 0 27 0 20 0 9 0 5 0 0 0 101 0-204 1 27 0 9 0 3 0 6 0 24 0 141 0 5 0 43 0-243 1 6 0 4 0 30 0 7 0 16 0-60 1 6 0 6 0 4 0 13 0 20 0 18 0-85 1 23 0 12 0 26 0 11 0 20 0 91 0 66 0-247 1 40 0 8 0 13 0 5 0-31 1 27 0 22 0 24 0 9 0-97 1 5 0 4 0 23 0 19 0 10 0 6 0 14 0 34 0 26 0-136 1 2 0 11 0 1 0 22 0 11 0 12 0 22 0-100 1 12 0 23 0 20 0 55 0-121 1 10 0 16 0 26 0 9 0 127 0 6 0 31 0 45 0-259 1 1 0 16 0 9 0 33 0 2 0 43 0 49 0-167 1 27 0 1 0 1 0 1 0 41 0 14 0 14 0-75 1 1 0 3 0 3 0 2 0 11 0 3 0 5 0 12 0 10 0 5 0 26 0 36 0 78 0-227 1 30 0 3 0 3 0 4 0 14 0 22 0 107 0-170 1 15 0 11 0 8 0 23 0 1 0 2 0 25 0-89 1 5 0 6 0 8 0 5 0 3 0 6 0 27 0 18 0 46 0 3 0 52 0-183 1 7 0 5 0 4 0 6 0 8 0 3 0 5 0 6 0 5 0 3 0 46 0 8 0 94 0-207 1 6 0 4 0 12 0 25 0 1 0 16 0 2 0 77 0 9 0-135 1 2 0 13 0 1 0 44 0 15 0 20 0 26 0-137 1 25 0 3 0 23 0 1 0 106 0 101 0 293 0-530 1 8 0 3 0 9 0 38 0 10 0 1 0 12 0 40 0 1 0-121 1 21 0 2 0 10 0 2 0 2 0 18 0 12 0 4 0 49 0-130 1 24 0 3 0 4 0 7 0 5 0 1 0 5 0 6 0 2 0 3 0 41 0 5 0 121 0-242 1 53 0 12 0 14 0 131 0 47 0-245 1 12 0 12 0 0 0 7 0 8 0 6 0 13 0 15 0 1 0 6 0 1 0 77 0 90 0 9 0 20 0-270 1 5 0 17 0 43 0 16 0 7 0 10 0 6 0 3 0-94 1 6 0 6 0 7 0 10 0 4 0 22 0 47 0 32 0 128 0-287 1 46 0 12 0 8 0 29 0 9 0 42 0 45 0-181 1 13 0 27 0 2 0 37 0 1 0 75 0 31 0-192 1 23 0 17 0 9 0 35 0 41 0 13 0 19 0-167 1 10 0 1 0 4 0 3 0 27 0 3 0 9 0 20 0 3 0 11 0 20 0 4 0 8 0-78 1 8 0 6 0 5 0 9 0 12 0 9 0 8 0 44 0 72 0-184 1 15 0 10 0 28 0 38 0 98 0-186 1 7 0 2 0 17 0 8 0 14 0 2 0 4 0 16 0 4 0 1 0 17 0 69 0-193 1 12 0 1 0 49 0 8 0 179 0-238 1 29 0 0 0 2 0 4 0 10 0 12 0 13 0 1 0 0 0 22 0 117 0 3 0 6 0 10 0-206 1 11 0 1 0 27 0 52 0 85 0 28 0 22 0-202 1 10 0 16 0 12 0 2 0 31 0 116 0-226 1 14 0 15 0 5 0 9 0 3 0 2 0 15 0 1 0 8 0 11 0 1 0 15 0 19 0 7 0 96 0 15 0-264 1 32 0 12 0 2 0 20 0 5 0 0 0 3 0 1 0 2 0 14 0 3 0 15 0 20 0 14 0 31 0 14 0 16 0 18 0 13 1 2 0-214 1 27 0 29 0 52 0-108 1 18 0 1 0 16 0 27 0 5 0 45 0 42 0 66 0-230 1 1 0 4 0 15 0 53 0 61 0 1 0 3 0 26 0 18 0 23 0 26 0-196 1 21 0 9 0 18 0 18 0 17 0 3 0 4 0 104 0 6 0-204 1 5 0 14 0 2 0 33 0 22 0 29 0 7 0 73 0-227 1 11 0 4 0 13 0 8 0 11 0 10 0 1 0 0 0 11 0 2 0 21 0 25 0 10 0 3 0-87 1 17 0 5 0 0 0 28 0 1 0 10 0-100 1 0 0 54 0 3 0 18 0 2 0 2 0-54 1 27 0 12 0 8 0 32 0 1 0 46 0 51 0 63 0-236 1 5 0 19 0 81 0-115 1 0 0 6 0 2 0 3 0 13 0 0 0 17 0 3 0 1 0 9 0 2 0 35 0 9 0 29 0 34 0-135 1 0 0 4 0 0 0 14 0 2 0 3 0 3 0 6 0 3 0 34 0-110 1 17 0 9 0 1 0 15 0 6 0 4 0 6 0 7 0 12 0 159 0-235 1 1 0 7 0 32 0 7 0 10 0 21 0 18 0 52 0 285 0-419 1 5 0 35 0 1 0 4 0 19 0 1 0 2 0 1 0 168 0 6 0-255 1 12 0 5 0 6 0 2 0 7 0 14 0 0 0 2 0 4 0 29 0 9 0 48 0-143 1 20 0 22 0 7 0 10 0 2 0 62 0 27 0 54 0-197 1 18 0 11 0 13 0 40 0 18 0 21 0 14 0 19 0 26 0 23 0-170 1 9 0 0 0 5 0 1 0 10 0 1 0 24 0 4 0 17 0 81 0 48 0 33 0 16 0-273 1 7 0 28 0 12 0 12 0 62 0-114 1 7 0 3 0 2 0 2 0 3 0 49 0 51 0 32 0-150 1 1 0 27 0 13 0 31 0 9 0 10 0 13 0-109 1 38 0 6 0 32 0 8 0 1 0 102 0 15 0 21 0-227 1 3 0 13 0 0 0 12 0 12 0 9 0 6 0 3 0 18 0 6 0 16 0 5 0 27 0-112 1 40 0 75 0 23 0 75 0-247 1 22 0 26 0 6 0 7 0 12 0 15 0 15 0 16 0 100 0-205 1 15 0 24 0 5 0 4 0 12 0 30 0 16 0 68 0 20 0-172 1 4 0 1 0 4 0 7 0 2 0 16 0 4 0 8 0-84 1 17 0 6 0 45 0 0 0 32 0 1 0 50 0 59 0 1 0-175 1 5 0 2 0 13 0 14 0 4 0 8 0 4 0 21 0 36 0-131 1 0 0 5 0 18 0 8 0 18 0 151 0-195 1 21 0 2 0 12 0 12 0 28 0 9 0 8 0 10 0-100 1 0 0 30 0 10 0 11 0 14 0 45 0 91 0 94 0-306 1 16 0 14 0 6 0 4 0 29 0 29 0 43 0 24 0 30 0-197 1 8 0 3 0 8 0 0 0 6 0 2 0 37 0 11 0 8 0 1 0 39 0 1 0 84 0-199 1 0 0 1 0 8 0 2 0 7 0 20 0 25 0 9 0 5 0 7 0 81 0 45 0 26 0-216 1 1 0 23 0 48 0 23 0 50 0 7 0 36 0-184 1 2 0 6 0 13 0 21 0 1 0 19 0 10 0 49 0-155 1 23 0 1 0 15 0 10 0 11 0 27 0 20 0 12 0 114 0-188 1 0 0 8 0 23 0 48 0 138 0-245 1 11 0 30 0 10 0 5 0 10 0 2 0 34 0 36 0 0 0 14 0 60 0-199 1 32 0 21 0 7 0 33 0-86 1 0 0 13 0 4 0 13 0 1 0 22 0 55 0 90 0 27 0-258 1 14 0 12 0 10 0 4 0 13 0 0 0 2 0 13 0 6 0 11 0 5 0 26 0 5 0 31 0-138 1 2 0 20 0 3 0 1 0 5 0 1 0 59 0 15 0 120 0-234 1 25 0 0 0 2 0 1 0 25 0 5 0 30 0 3 0 24 0 32 0 92 0-252 1 35 0 26 0 2 0 8 0 6 0 7 0 144 0-210 1 1 0 1 0 8 0 13 0 51 0 14 0 136 0-235 1 23 0 5 0 8 0 3 0 0 0 7 0 8 0 100 0 7 0 51 0-194 1 2 0 7 0 16 0 2 0 35 0 18 0 2 0 6 0-100 1 98 0 5 0 23 0 69 0 34 0-195 1 9 0 7 0 19 0 30 0 24 0 119 0-245 1 66 0 1 0 51 0 18 0 112 0 297 0-539 1 8 0 31 0 13 0 2 0 27 0 16 0 62 0 3 0 312 0-434 1 5 0 1 0 10 0 3 0 6 0 11 0 150 0 4 0-198 1 5 0 5 0 26 0 14 0 22 0 44 0 99 0-230 1 12 0 3 0 14 0 11 0 4 0 5 0 17 0 11 0 8 0 60 0-145 1 6 0 6 0 36 0 8 0 0 0 13 0 12 0 51 0 324 0-457 1 7 0 2 0 22 0 12 0 13 0 3 0 17 0 22 0 21 0 43 0-144 1 43 0 87 0 37 0-180 1 30 0 13 0 8 0 137 0 46 0 213 0-487 1 29 0 6 0 24 0 12 0 13 0 2 0 25 0 8 0 37 0 68 0-185 1 6 0 26 0-38 1 23 0 70 0 17 0 59 0-128 1 36 0 23 0 4 0 1 0 41 0 8 0 27 0 51 0-237 1 13 0 18 0 10 0 34 0 0 0 13 0 4 0 8 0-90 1 13 0 18 0 6 0 15 0 1 0 0 0 128 0 9 0-194 1 12 0 11 0 13 0 7 0 3 0 22 0 26 0 65 0 69 0-255 1 37 0 12 0 4 0 19 0 32 0 7 0 34 0 54 0 24 0-182 1 0 0 3 0 12 0 14 0 11 0 10 0 8 0 73 0 6 0 13 0-126 1 48 0 62 1 127 0-249 1 28 0 9 0 9 0 17 0 6 0 10 0 45 0 128 0-249 1 17 0 8 0 12 0 10 0 10 0 115 0 1 0-202 1 71 0 27 0 9 0 60 0 40 0-192 1 0 0 1 0 14 0 3 0 4 0 15 0 20 0 46 0 69 0 18 0 50 0-219 1 0 0 8 0 5 0 7 0 2 0 23 0 54 0 13 0 8 0 13 0 2 0-126 1 18 0 38 0 130 0 4 0-234 1 38 0 2 0 4 0 12 0 7 0 17 0 37 0 3 0 3 0 14 0 4 0 20 0-170 1 73 0 6 0 60 0 56 0-160 1 20 0 7 0 0 0 2 0 24 0 140 0-177 1 2 0 4 0 12 0 16 0 24 0 33 0 43 0-97 1-74 1 53 0 2 0 6 0 40 0 60 0 11 0-161 1 10 0 21 0 1 0 17 0 6 0 35 0 10 0 78 0 31 0-208 1 21 0 2 0 3 0 11 0 5 0 28 0 17 0 16 0 55 0 15 0 14 0 57 0-193 1 16 0 22 0 1 0 2 0 154 0 47 0-270 1 54 0 20 0 25 0-54 1 35 0 10 0 69 0 0 0-166 1 26 0 5 0 1 0 6 0 29 0 39 0 26 0 30 0 10 0-174 1 26 0 5 0 14 0 7 0 10 0 29 0 57 0-134 1 2 0 4 0 10 0 6 0 11 0 27 0 24 0 1 0 7 0 30 0 62 0-199 1 39 0 5 0 2 0 16 0 10 0 36 0 82 0-176 1 35 0 9 0 29 0 7 0 13 0 29 0 19 0 21 0-156 1 55 0 8 0 8 0 38 0 19 0 87 0-232 1 1 0 10 0 37 0 55 0 109 0-205 1 33 0 5 0 4 0 16 0 6 0 9 0 21 0 8 0 18 0 12 0 47 0-179 1 38 0 29 0 17 0 71 0 24 0 33 0 170 0-387 1 10 0 29 0 21 0 4 0 21 0 11 0 61 0-73 1 64 0 45 0-187 1 5 0 53 0 5 0 6 0 20 0 45 0-118 1 14 0 48 0 47 0 12 0 24 0-145 1 33 0 16 0 12 0 38 0-110 1 11 0 19 0 4 0 16 0 13 0 3 0 1 0 7 0 61 0-130 1 0 0 3 0 57 0 68 0-37 1 55 0 26 0-189 1 7 0 5 0 11 0 3 0 11 0 10 0 27 0 1 0 51 0 0 0 17 0 1 0 43 0-169 1 56 0 8 0 9 0 1 0-85 1 3 0 15 0 2 0 34 0 27 0 28 0 12 0-110 1 4 0 10 0 27 0 3 0 36 0 62 0 6 0 13 0-171 1 9 0 19 0 33 0 9 0 2 0 4 0 3 0 47 0 8 0-135 1 2 0 13 0 12 0 30 0 24 0 110 0-144 1 29 0-73 1 0 0 42 0 11 0 7 0 21 0 291 0-362 1 10 0 26 0 4 0 2 0 3 0 4 0 12 0-79 1 10 0 17 0 26 0 3 0 9 0 47 0 25 0 13 0 22 0-165 1 2 0 1 0 6 0 29 0 26 0 35 0-85 1 69 0 6 0 82 0 24 0 170 0-371 1 93 0 14 0-99 1 14 0 9 0 13 0 23 0 4 0 30 0 64 0 262 0-418 1 22 0 2 0 4 0 5 0 2 0 107 0 39 0-157 1 1 0 2 0 12 0 9 0 17 0 111 0-182 1 53 0 5 0-48 1 0 0 8 0 1 0 1 0 9 0 1 0 34 0 44 0 42 0 14 0 6 0-160 1 9 0 23 0 2 0 10 0 5 0 5 0 26 0 1 0-96 1 21 0 7 0 2 0 8 0 1 0 18 0 11 0 49 0 41 0 28 0 31 0-188 1 16 0 36 0 80 0 10 0 54 0-227 1 21 0 9 0 6 0 41 0 6 0 11 0 4 0 13 0-103 1 30 0 27 0 5 0 73 0 5 0 40 0 203 0-377 1 1 0 19 0 32 0 1 0 11 0 22 0 31 0 19 0 44 0-149 1 8 0 1 0 8 0 0 0 8 0 29 0 6 0 19 0 1 0 6 0 56 0-167 1 15 0 12 0 8 0 2 0 34 0 3 0 17 0-91 1 20 0 23 0 1 0 30 0 2 0 60 0 124 0-274 1 0 0 1 0 16 0 4 0 5 0 4 0 17 0 51 0 5 0 13 0 30 0 2 0-154 1 9 0 38 0 0 0 0 0 1 0 22 0 47 0 18 0 14 0-124 1 14 0 16 0 3 0 30 0 62 0 44 0-171 1 3 0 6 0 5 0 52 0 14 0 1 0 9 0 12 0 1 0 34 0 14 0-151 1 9 0 0 0 5 0 103 0-112 1 10 0 3 0 16 0 70 0 8 0 39 0 13 0 36 0 20 0-241 1 2 0 23 0 11 0 1 0 9 0 22 0 49 0-76 1 6 0 28 0 12 0 2 0 76 0 16 0 3 0-152 1 11 0 34 0 1 0 2 0 31 0 42 0 8 0-158 1 6 0 26 0 16 0 12 0 80 0 39 0 7 0-178 1 21 0 41 0 35 0 54 0-145 1 2 0 6 0 14 0 4 0 15 0 72 0 2 0 19 0 9 0 51 0-213 1 26 0 2 0 27 0 5 0 14 0 175 0-225 1 1 0 1 0 8 0 50 0 52 0 24 0 28 0-178 1 12 0 7 0 35 0 18 0 1 0 28 0 65 0 12 0 63 0-237 1 10 0 24 0 4 0 9 0 8 0 14 0-73 1 11 0 38 0 11 0 4 0 112 0 57 0-232 1 18 0 9 0 7 0 63 0 84 0-188 1 1 0 33 0 3 0 61 0 14 0 42 0 8 0 62 0-201 1 1 0 4 0 9 0 36 0 100 0 41 0-211 1 1 0 6 0 18 0 3 0 42 0 28 0 12 0 10 0 17 0 47 0 3 0-176 1 10 0 13 0 5 0 13 0 5 0 25 0 99 0-164 1 25 0 1 0 15 0 5 0 25 0 20 0 22 0 15 0 8 0 7 0 156 0-306 1 1 0 8 0 0 0 84 0 7 0 12 0 40 0 2 0 10 0 208 0-372 1 6 0 1 0 5 0 34 0 12 0 8 0 15 0 39 0 19 0-150 1 14 0 14 0 9 0 5 0 2 0 17 0 16 0 51 0 11 0 15 0 5 0-158 1 0 0 7 0 34 0 16 0 31 0 66 0 52 0-195 1 11 0 2 0 4 0 0 0 15 0 7 0 91 0 40 0 38 0 17 0-226 1 15 0 0 0 3 0 12 0 1 0 12 0 5 0 23 0 56 0-134 1 16 0 15 0 36 0 10 0 45 0 57 0-183 1 9 0 14 0 7 0 3 0 8 0 6 0 49 0 53 0-131 1 7 0 11 0 7 0 2 0 0 0 5 0 2 0 3 0 22 0-65 1 7 0 45 0 16 0 24 0 3 0 24 0-133 1 1 0 8 0 4 0 1 0 22 0 38 0 25 0 35 0 10 0 25 0 11 0-179 1 9 0 0 0 69 0 13 0 8 0 29 0 56 0-182 1 28 0 1 0 4 0 8 0 10 0 22 0 8 0 20 0-103 1 37 0 1 0 20 0 2 0 8 0 38 0 22 0 20 0-143 1 0 0 4 0 2 0 12 0 19 0 6 0 4 0 7 0-50 1 9 0 19 0 6 0 23 0 47 0 5 0 5 0 12 0 33 0 10 0-147 1 27 0 7 0 7 0 37 0 84 0-182 1 2 0 23 0 0 0 5 0 3 0-27 1 12 0 16 0 28 0 15 0 18 0 1 0 25 0-73 1 43 0 11 0-87 1 4 0 3 0 20 0 8 0 13 0 94 0 17 0-160 1 4 0 10 0 14 0 3 0 11 0 0 0 7 0 5 0 39 0 9 0 9 0 39 0-154 1 30 0 2 0 41 0 4 0 48 0 31 0 8 0-121 1 6 0 27 0 27 0 10 0 18 0-143 1 19 0 12 0 38 0 3 0 28 0-103 1 27 0 8 0 4 0 34 0 15 0 6 0 27 0 32 0-158 1 8 0 25 0 1 0 10 0 10 0 1 0 13 0 5 0 13 0 17 0 12 0 70 0 10 0-157 1 24 0 19 0 5 0 5 0 3 0-53 1 17 0 0 0 4 0 3 0 19 0 4 0 99 0-184 1 2 0 6 0 20 0 32 0 20 0 61 0 26 0 11 0 233 0-412 1 32 0 8 0 63 0 50 0 20 0-142 1 22 0 4 0 50 0 31 0 31 0 61 0-231 1 31 0 34 0 55 0 53 0 10 0 8 0 8 0-173 1 5 0 22 0 2 0 1 0 6 0 4 0 7 0 8 0 25 0 9 0 5 0 27 0-139 1 28 0 9 0 5 0 10 0 4 0 59 0 162 0-247 1 2 0 12 0 105 0 61 0-207 1 13 0 38 0 29 0 2 0 40 0-123 1 2 0 7 0 6 0 6 0 26 0 29 0 35 0 28 0 26 0 11 0-153 1 8 0 2 0 7 0 5 0 12 0 15 0 12 0 12 0 19 0 18 0 10 0-104 1 13 0 14 0 9 0 5 0 1 0 50 0-120 1 21 0 2 0 1 0 22 0 82 0 8 0-158 1 24 0 15 0 3 0 27 0 2 0 4 0 1 0 30 0 1 0 28 0-95 1 16 0 8 0 9 0 11 0 4 0 29 0 26 0 13 0-126 1 22 0 5 0 19 0 11 0 2 0 9 0 40 0 3 0-101 1 5 0 3 0 4 0 0 0 21 0 32 0 3 0 54 0 25 0-151 1 11 0 8 0 12 0 1 0 2 0 3 0 22 0 3 0 1 0 51 0 11 0 10 0 21 0-154 1 4 0 2 0 7 0 32 0-70 1 17 0 11 0 13 0 5 0 1 0 67 0 0 0-92 1 29 0 20 0 12 0 3 0 14 0 91 0-175 1 21 0 4 0 9 0 2 0 83 0 17 0 8 0 14 0-147 1 15 0 18 0 13 0 57 0 40 0-175 1 28 0 3 0 12 0 17 0 29 0 70 0 18 0 26 0-192 1 21 0 3 0 14 0 2 0 11 0 9 0 95 0-103 1 4 0 4 0 26 0 3 0 17 0 12 0 11 0 3 0-115 1 4 0 10 0 1 0 60 0 5 0 61 0-140 1 11 0 24 0 6 0 6 0 3 0 11 0 2 0 38 0 3 0 11 0 7 0 1 0-123 1 63 0 8 0 31 0-86 1 3 0 20 0 18 0-73 1 41 0 12 0 40 0 16 0 9 0 27 0 6 0 10 0-158 1 54 0 10 0 28 0 35 0 13 0 2 0 17 0 7 0-148 1 4 0 15 0 4 0 46 0 6 0 46 0-137 1 16 0 17 0 2 0 19 0 26 0 11 0 12 0 45 0 11 0 14 0-169 1 9 0 7 0 20 0 21 0 4 0-62 1 2 0 5 0 13 0 1 0 10 0 20 0-55 1 13 0 12 0 5 0 2 0 29 0 11 0 11 0 6 0 56 0-160 1 16 0 51 0 47 0 24 0 12 0 59 0-170 1 95 0 19 0 82 0-200 1 36 0 11 0 19 0 52 0 229 0-370 1 60 0 19 0 15 0 19 0-95 1 2 0 12 0 18 0 7 0 68 0 9 0 13 0 22 0 226 0-368 1 4 0 8 0 33 0 54 0 8 0 6 0 1 0 73 0 60 0-263 1 3 0 9 0 8 0 2 0 91 0 8 0 22 0-137 1 2 0 4 0 44 0 3 0 337 0-386 1 20 0 4 0 14 0 13 0 44 0 12 0-86 1 2 0 23 0 12 0 74 0 75 0 20 0-247 1 11 0 3 0 22 0 8 0 56 0 14 0 0 0 27 0 2 0-104 1 2 0 16 0 18 0 18 0 4 0 67 0-157 1 15 0 6 0 5 0 3 0 10 0 24 0 78 0 6 0 77 0-226 1 6 0 1 0 9 0 3 0 2 0 36 0 17 0 19 0 23 0 163 0-278 1 0 0 8 0 11 0 2 0 7 0 19 0 3 0 1 0 2 0 5 0 16 0 44 0 16 0 142 0-256 1 24 0 17 0 57 0 28 0 19 0-122 1 11 0 32 0 46 0 9 0-96 1 25 0-54 1 86 0 49 0 99 0-232 1 2 0 13 0 14 0 0 0 2 0 1 0 14 0 0 0 1 0 3 0-59 1 4 0 19 0 10 0 81 0 42 0-156 1 4 0 5 0 10 0 19 0 3 0 57 0 25 0-137 1 22 0 21 0 10 0 15 0 5 0 19 0-46 1 5 0 2 0 5 0 10 0 39 0 70 0 193 0-352 1 29 0 14 0 11 0 11 0 13 0 7 0 36 0 177 0-312 1 11 0 29 0 6 0 7 0 7 0 1 0 0 0 16 0 32 0 70 0-160 1 56 0 5 0 4 0 33 0 33 0-117 1 51 0 33 0 1 0-103 1 1 0 36 0 0 0 22 0 167 0 22 0-227 1 10 0 8 0 15 0 1 0 63 0 16 0 3 0-144 1 12 0 19 0 19 0 65 0 19 0 8 0 9 0-131 1 8 0 11 0 9 0 13 0 23 0 26 0 231 0-351 1 10 0 27 0 19 0 67 0 16 0 2 0-118 1 13 0 16 0 20 0 24 0 34 0 4 0 5 0-113 1 3 0 10 0 6 0 4 0 5 0 19 0 30 0 25 0 12 0-139 1 32 0 86 0 18 0 3 0 31 0 81 0-250 1 24 0 34 0 53 0-67 1 2 0-21 1 12 0 1 0 8 0 9 0 33 0 7 0 59 0 8 0 61 0-171 1 19 0 62 0-101 1 1 0 7 0 25 0 15 0 41 0 34 0-145 1 20 0 2 0 8 0 1 0 20 0 5 0 28 0 35 0 4 0 28 0-96 1 18 0 61 0 1 0-123 1 1 0 8 0 37 0 8 0 46 0 175 0-279 1 3 0 40 0 2 0 10 0 12 0 96 0-158 1 17 0 2 0 31 0 7 0 1 0 8 0 10 0 21 0 10 0 16 0 8 0-121 1 22 0 8 0 14 0 10 0 45 0 28 0 108 0-252 1 21 0 1 0 7 0 1 0 8 0 26 0 4 0 49 0 38 0-132 1 64 0-81 1 16 0 20 0 35 0 21 0-112 1 37 0 1 0 10 0 3 0 10 0 4 0 1 0 23 0 31 0 89 0-185 1 17 0 2 0 16 0 46 0 68 0-165 1 6 0 13 0 9 0 11 0 0 0 0 0 0 0 1 0 5 0 33 0 4 0 30 0 14 0 20 0-145 1 17 0 23 0 0 0 2 0 3 0 2 0 2 0 4 0 2 0 12 0-67 1 8 0 13 0 2 0 34 0 10 0 1 0 7 0 15 0 8 0 22 0-111 1 13 0 12 0 19 0 14 0 1 0 3 0 110 0-171 1 6 0 15 0 1 0 5 0 30 0 12 0-66 1 24 0 6 0 23 0 1 0 23 0 21 0 12 0 3 0-95 1 5 0 57 0 15 0-95 1 21 0 2 0 17 0 3 0 4 0 42 0 2 0 23 0 17 0 13 0-125 1 6 0 1 0 8 0 3 0 40 0 13 0 20 0 5 0-96 1 7 0 33 0 5 0 51 0-73 1 13 0 31 0 4 0 26 0 26 0-137 1 3 0 9 0 1 0 2 0 26 0 24 0 35 0 4 0 9 0 17 0 5 0 249 0-378 1 11 0 11 0 24 0 2 0 2 0 8 0 33 0-81 1 2 0 4 0 15 0 17 0 24 0 48 0-140 1 32 0 15 0 27 0-38 1 1 0 14 0 11 0 29 0 60 0-123 1 0 0 4 0 5 0 8 0 56 0 1 0 5 0 2 0 14 0-111 1 18 0 15 0 16 0 17 0 8 0 36 0 7 0-91 1 17 0 1 0 24 0 14 0 44 0 40 0 22 0-168 1 5 0 35 0 7 0 33 0 59 0-167 1 14 0 3 0 5 0 3 0 11 0 1 0 3 0 13 0 6 0 48 0 1 0 10 0-103 1 10 0 51 0 17 0 26 0 54 0-131 1 34 0 16 0 2 0 11 0 63 0 64 0-218 1 5 0 76 0 29 0 25 0 2 0 200 0-338 1 23 0 6 0 5 0 14 0 34 0 2 0-98 1 24 0 14 0 6 0 4 0 70 0 13 0 22 0-124 1 36 0 17 0 0 0 3 0 26 0 6 0 12 0 176 0-266 1 14 0 57 0 0 0 3 0 2 0 11 0 111 0-221 1 1 0 18 0 6 0 27 0 10 0 16 0 28 0 62 0 63 0-221 1 4 0 1 0 7 0 5 0 37 0 27 0 18 0 35 0 191 0-291 1 9 0 28 0-69 1 7 0 31 0 44 0 17 0 10 0 2 0 12 0-121 1 6 0 9 0 11 0 3 0 32 0 27 0-100 1 6 0 1 0 26 0 12 0 54 0-97 1 3 0 3 0 24 0 25 0 21 0-72 1 30 0 45 0 17 0-61 1 3 0 13 0 50 0 17 0-93 1 30 0 3 0 19 0 22 0 5 0 5 0 28 0 205 0-341 1 14 0 19 0 9 0 12 0 23 0 20 0 24 0 2 0-119 1 2 0 19 0 2 0 3 0 92 0 62 0-148 1 0 0 1 0 48 0 13 0-92 1 9 0 9 0 41 0 9 0 11 0 8 0-96 1 16 0 13 0 35 0 5 0 9 0 5 0 72 0-141 1 0 0 4 0 18 0 10 0 16 0 14 0 0 0 25 0-85 1 12 0 15 0 4 0 2 0 1 0 26 0 0 0 21 0 27 0-55 1 2 0-67 1 22 0 44 0 20 0 10 0 11 0 91 0-152 1 2 0 34 0 34 0-109 1 19 0 1 0 21 0 15 0-47 1 4 0 15 0 11 0 18 0 32 0 13 0-107 1 9 0 37 0 52 0 147 0-238 1 21 0 76 0 32 0 101 0-236 1 2 0 8 0 14 0 17 0 41 0 1 0 23 0 18 0 187 0-329 1 18 0 19 0 2 0 3 0 10 0 13 0 5 0 4 0 13 0 12 0 1 0 26 0-127 1 45 0 5 0 10 0 5 0 13 0 2 0 22 0 14 0 1 0 6 0 58 0 3 0-145 1 17 0 10 0 8 0 25 0 15 0 39 0-113 1 0 0 8 0 12 0 0 0 4 0 10 0 16 0 9 0 40 0-133 1 14 0 3 0 27 0 0 0 2 0 1 0 5 0 53 0 2 0 4 0 19 0 105 0-222 1 4 0 22 0 5 0 26 0 12 0 46 0 4 0-115 1 5 0 5 0 7 0 6 0 25 0 12 0 42 0-113 1 11 0 2 0 6 0 19 0 2 0 1 0 3 0 1 0 10 0 11 0 16 0 11 0 10 0 21 0-122 1 6 0 2 0 8 0 6 0 5 0 23 0 5 0 13 0 100 0 26 0-182 1 12 0 20 0 3 0 4 0 0 0 14 0 26 0 134 0-191 1 104 0 54 0 187 0 30 0-330 1 17 0 27 0 9 0 8 0 1 0 0 0 31 0 40 0 74 0 40 0 16 0 81 0 4 0-366 1 23 0 35 0 12 0 6 0 1 0 4 0 15 0 5 0 84 0 20 0 11 0 11 0 29 0 24 0 67 0-321 1 25 0 18 0 0 0 5 0 8 0 17 0 41 0 16 0 2 0 27 0 165 0-343 1 20 0 13 0 21 0 20 0 16 0 43 0 64 0 8 0 12 0 55 0 28 0-307 1 5 0 1 0 54 0 4 0 32 0 17 0 12 0 42 0 19 0 18 0 77 0 23 0 39 0-342 1 45 0 2 0 3 0 15 0 7 0 0 0 56 0 1 0 12 0 5 0 79 0 61 0 9 0 50 0-277 1 47 0 49 0 122 0-235 1 21 0 2 0 3 0 32 0 11 0 7 0 4 0 104 0 91 0-296 1 4 0 20 0 7 0 17 0 16 0 79 0 22 0 7 0 2 0 51 0 27 0 3 0-271 1 25 0 2 0 15 0 2 0 7 0 11 0 75 0 41 0 92 0-246 1 3 0 22 0 2 0 21 0 7 0 21 0 53 0 64 0 5 0 8 0 2 0 14 0 47 0 33 0 2 0-304 1 4 0 6 0 22 0 11 0 7 0 38 0 18 0 22 0 55 0 40 0 73 0 1 0-324 1 17 0 38 0 6 0 16 0 45 0 6 0 26 0 46 0 17 0 90 0-316 1 9 0 4 0 26 0 10 0 15 0 11 0 2 0 1 0 0 0 2 0 72 0 2 0 62 0 7 0 73 0 3 0 9 0 19 0 33 0-359 1 60 0 6 0 16 0 48 0 30 0 21 0 1 0 0 0 7 0 6 0 8 0 59 0 37 0 9 0 12 0-319 1 19 0 8 0 34 0 2 0 2 0 2 0 0 0 43 0 45 0 0 0 16 0 44 0 109 0-287 1 10 0 28 0 50 0 7 0 44 0 2 0 2 0 9 0 65 0 59 0-312 1 21 0 1 0 11 0 5 0 3 0 9 0 1 0 18 0 1 0 8 0 25 0 41 0 9 0 5 0 7 0 17 0 8 0 136 0 26 0-316 1 5 0 1 0 17 0 11 0 2 0 7 0 32 0 29 0 87 0 34 0 38 0 7 0 35 0-288 1 1 0 10 0 9 0 6 0 62 0 5 0 7 0 17 0 36 0 8 0 5 0 67 0 13 0 7 0 4 0 9 0 2 0 31 0 7 0-353 1 25 0 11 0 11 0 10 0 7 0 11 0 77 0 54 0 2 0 21 0 60 0 10 0 17 0 9 0 30 0-332 1 20 0 10 0 4 0 27 0 1 0 4 0 2 0 1 0 28 0 1 0 3 0 49 0 5 0 3 0 0 0 13 0 15 0 43 0 6 0 87 0-289 1 7 0 22 0 4 0 1 0 7 0 3 0 35 0 25 0 134 0-267 1 13 0 79 0 4 0 8 0 2 0 98 0 41 0 14 0 18 0 7 0 7 0 24 0-326 1 15 0 0 0 6 0 7 0 12 0 30 0 20 0 10 0 13 0 45 0 32 0 29 0 14 0 5 0 24 0 15 0 9 0 3 0 22 0 1 0-322 1 24 0 73 0 43 0 4 0 33 0 55 0 42 0 19 0 9 0-267 1 14 0 5 0 7 0 42 0 2 0 2 0 46 0 48 0 26 0 7 0 88 0 7 0 5 0-318 1 7 0 23 0 13 0 3 0 1 0 55 0 17 0 12 0 28 0 42 0 17 0 4 0 13 0 28 0 15 0 44 0-349 1 62 0 26 0 51 0 10 0 1 0 22 0 4 0 5 0 1 0 43 0 3 0 4 0 27 0 14 0 30 0 26 0 1 0 2 0 9 0 7 0 11 0-337 1 2 0 12 0 9 0 1 0 9 0 1 0 0 0 13 0 29 0 7 0 5 0 43 0 22 0 74 0 78 0 28 0-330 1 19 0 0 0 15 0 12 0 12 0 2 0 5 0 42 0 9 0 50 0 14 0 23 0 38 0 11 0 6 0 5 0 49 0-312 1 21 0 19 0 10 0 105 0 12 0 23 0 52 0 23 0 10 0 25 0-292 1 2 0 31 0 19 0 7 0 4 0 16 0 1 0 59 0 24 0 4 0 9 0 2 0 34 0 2 0 12 0 41 0 41 0-262 1 11 0 37 0 41 0 3 0 65 0 22 0 3 0 23 0 31 0 24 0 14 0-250 1 22 0 22 0 28 0 30 0 11 0 13 0 28 0 25 0 17 0 5 0 50 0-344 1 32 0 15 0 34 0 31 0 31 0 27 0 67 0 6 0 2 0 64 0 24 0 6 0 7 0-308 1 7 0 54 0 32 0 7 0 49 0 62 0 17 0 0 0 0 0 40 0-275 1 8 0 20 0 6 0 5 0 22 0 6 0 7 0 8 0 14 0 14 0 17 0 98 0 51 0-286 1 12 0 16 0 9 0 51 0 16 0 45 0 6 0 0 0 15 0 33 0 1 0 6 0 6 0 10 0 91 0-300 1 9 0 15 0 15 0 11 0 11 0 42 0 1 0 15 0 35 0 55 0 62 0 11 0 23 0-314 1 31 0 8 0 2 0 32 0 7 0 54 0 16 0 20 0 25 0 5 0 13 0 14 0 17 0 48 0 13 0-320 1 29 0 15 0 0 0 24 0 22 0 28 0 36 0 11 0 12 0 22 0 12 0 20 0 48 0 7 0 2 0-270 1 1 0 6 0 3 0 17 0 30 0 16 0 9 0 6 0 67 0 13 0 0 0 16 0 21 0 1 0 2 0 36 0 13 0 19 0 10 0 17 0 10 0 1 0-337 1 12 0 17 0 7 0 10 0 34 0 13 0 87 0 14 0 9 0 9 0 47 0 2 0-261 1 0 0 29 0 23 0 44 0 5 0 11 0 22 0 5 0 15 0 6 0 0 0 4 0 20 0 10 0 63 0 3 0 57 0-308 1 20 0 12 0 11 0 14 0 13 0 15 0 11 0 18 0 5 0 67 0 17 0 0 0 2 0 15 0 14 0 2 0 21 0 23 0 8 0-303 1 15 0 21 0 6 0 28 0 4 0 6 0 12 0 3 0 8 0 22 0 15 0 16 0 4 0 62 0 12 0 73 0-275 1 49 0 25 0 26 0 39 0 1 0 42 0 36 0 1 0 19 0 4 0 4 0 4 0 7 0 16 0 0 0 9 0 21 0 5 0-302 1 6 0 3 0 44 0 12 0 9 0 21 0 46 0 19 0 30 0 13 0 15 0 1 0 3 0 24 0 34 0 27 0-301 1 20 0 20 0 2 0 1 0 37 0 60 0 4 0 33 0 37 0 10 0 1 0 30 0 3 0 0 0 9 0 9 0-261 1 1 0 42 0 22 0 9 0 7 0 37 0 7 0 115 0 5 0 4 0 7 0-303 1 51 0 23 0 25 0 20 0 0 0 13 0 1 0 9 0 2 0 21 0 27 0 3 0 54 0 19 0 8 0 12 0 19 0 7 0 9 0-310 1 9 0 40 0 18 0 9 0 27 0 2 0 24 0 48 0 24 0 12 0 14 0 3 0 3 0 29 0 12 0 19 0 12 0 9 0 0 0-299 1 14 0 28 0 19 0 11 0 15 0 8 0 10 0 3 0 4 0 21 0 50 0 2 0 37 0 72 0-260 1 7 0 24 0 40 0 121 0 11 0 36 0 6 0 6 0 5 0 15 0-320 1 15 0 11 0 11 0 1 0 3 0 13 0 30 0 14 0 35 0 3 0 6 0 0 0 12 0 0 0 7 0 63 0 39 0 9 0 7 0 24 0-275 1 30 0 11 0 22 0 48 0 4 0 22 0 25 0 16 0 4 0 2 0 20 0 10 0 18 0 5 0 20 0 20 0 11 0-317 1 1 0 14 0 11 0 7 0 64 0 23 0 7 0 23 0 10 0 23 0 9 0 4 0 20 0 72 0 12 0-266 1 14 0 38 0 5 0 11 0 20 0 74 0 31 0 17 0 20 0 7 0 22 0 15 0 4 0 2 0 7 0-279 1 2 0 6 0 12 0 7 0 0 0 7 0 21 0 27 0 16 0 5 0 121 0 4 0 22 0-287 1 5 0 2 0 43 0 36 0 31 0 49 0 18 0 61 0 40 0 20 0 5 0-310 1 46 0 80 0 34 0 86 0 3 0 10 0 53 0-22 1 12 0 13 0-17 1 10 0 9 0-25 1 2 0 4 0 4 0 11 0-23 1 15 0 4 0-19 1 22 1" fill="none" marker-start="url(#q)" marker-mid="url(#q)" marker-end="url(#q)"/>
<path d="M1135.4 36.6H1385.9M1387.8 36.6H1400.0M1403.8 36.6H1408.3M1411.3 36.6H1421.3M1423.2 36.6H1441.9M1443.0 36.6H1455.7M1506.0 36.6H1511.0M1523.9 36.6H1534.0M1545.5 36.6H1550.4M1564.2 36.6H1572.4M1593.6 36.6H1598.5M1677.9 36.6H1682.7M1735.7 36.6H1740.5" stroke="#bebebe" stroke-width="4.4" fill="none"/>
<polyline points="1137.3,385.0 1137.3,385.0 1137.3,385.3 1137.3,385.7 1137.4,386.4 1137.4,387.1 1137.4,388.1 1137.5,389.2 1137.5,390.5 1137.6,391.9 1137.7,393.5 1137.8,395.2 1137.8,397.1 1137.9,399.1 1138.0,401.2 1138.1,403.5 1138.3,405.8 1138.4,408.3 1138.5,410.9 1138.7,413.5 1138.8,416.3 1139.0,419.1 1139.1,422.0 1139.3,425.0 1139.5,428.0 1139.6,431.1 1139.8,434.2 1140.0,437.4 1140.2,440.5 1140.5,443.8 1140.7,447.0 1140.9,450.2 1141.1,453.5 1141.4,456.8 1141.6,460.0 1141.9,463.3 1142.2,466.5 1142.4,469.8 1142.7,473.0 1143.0,476.2 1143.3,479.4 1143.6,482.6 1143.9,485.7 1144.2,488.8 1144.6,491.9 1144.9,494.9 1145.2,497.9 1145.6,500.9 1146.0,503.8 1146.3,506.7 1146.7,509.5 1147.1,512.3 1147.5,515.1 1147.9,517.8 1148.3,520.5 1148.7,523.2 1149.1,525.7 1149.5,528.3 1149.9,530.8 1150.4,533.3 1150.8,535.7 1151.3,538.1 1151.7,540.4 1152.2,542.7 1152.7,544.9 1153.2,547.1 1153.7,549.3 1154.2,551.4 1154.7,553.5 1155.2,555.6 1155.7,557.6 1156.2,559.5 1156.8,561.5 1157.3,563.3 1157.9,565.2 1158.4,567.0 1159.0,568.8 1159.6,570.5 1160.2,572.2 1160.7,573.9 1161.3,575.5 1161.9,577.1 1162.6,578.7 1163.2,580.3 1163.8,581.8 1164.4,583.3 1165.1,584.7 1165.7,586.1 1166.4,587.5 1167.1,588.9 1167.7,590.2 1168.4,591.5 1169.1,592.8 1169.8,594.1 1170.5,595.3 1171.2,596.5 1171.9,597.7 1172.6,598.9 1173.4,600.0 1174.1,601.1 1174.9,602.2 1175.6,603.3 1176.4,604.4 1177.2,605.4 1177.9,606.4 1178.7,607.4 1179.5,608.4 1180.3,609.3 1181.1,610.3 1181.9,611.2 1182.8,612.1 1183.6,613.0 1184.4,613.8 1185.3,614.7 1186.1,615.5 1187.0,616.3 1187.8,617.1 1188.7,617.9 1189.6,618.7 1190.5,619.5 1191.4,620.2 1192.3,621.0 1193.2,621.7 1194.1,622.4 1195.1,623.1 1196.0,623.8 1196.9,624.4 1197.9,625.1 1198.8,625.7 1199.8,626.4 1200.8,627.0 1201.8,627.6 1202.7,628.2 1203.7,628.8 1204.7,629.4 1205.8,629.9 1206.8,630.5 1207.8,631.1 1208.8,631.6 1209.9,632.1 1210.9,632.7 1212.0,633.2 1213.0,633.7 1214.1,634.2 1215.2,634.7 1216.3,635.1 1217.4,635.6 1218.5,636.1 1219.6,636.5 1220.7,637.0 1221.8,637.4 1222.9,637.9 1224.1,638.3 1225.2,638.7 1226.4,639.1 1227.5,639.6 1228.7,640.0 1229.9,640.4 1231.1,640.7 1232.3,641.1 1233.5,641.5 1234.7,641.9 1235.9,642.2 1237.1,642.6 1238.3,643.0 1239.6,643.3 1240.8,643.7 1242.1,644.0 1243.3,644.3 1244.6,644.7 1245.9,645.0 1247.1,645.3 1248.4,645.6 1249.7,645.9 1251.0,646.2 1252.3,646.5 1253.7,646.8 1255.0,647.1 1256.3,647.4 1257.7,647.7 1259.0,648.0 1260.4,648.3 1261.7,648.5 1263.1,648.8 1264.5,649.1 1265.9,649.3 1267.3,649.6 1268.7,649.8 1270.1,650.1 1271.5,650.3 1272.9,650.6 1274.3,650.8 1275.8,651.1 1277.2,651.3 1278.7,651.5 1280.1,651.8 1281.6,652.0 1283.1,652.2 1284.6,652.4 1286.1,652.6 1287.6,652.9 1289.1,653.1 1290.6,653.3 1292.1,653.5 1293.6,653.7 1295.2,653.9 1296.7,654.1 1298.3,654.3 1299.8,654.5 1301.4,654.6 1303.0,654.8 1304.5,655.0 1306.1,655.2 1307.7,655.4 1309.3,655.6 1310.9,655.7 1312.6,655.9 1314.2,656.1 1315.8,656.3 1317.5,656.4 1319.1,656.6 1320.8,656.7 1322.4,656.9 1324.1,657.1 1325.8,657.2 1327.5,657.4 1329.2,657.5 1330.9,657.7 1332.6,657.8 1334.3,658.0 1336.0,658.1 1337.7,658.3 1339.5,658.4 1341.2,658.6 1343.0,658.7 1344.7,658.8 1346.5,659.0 1348.3,659.1 1350.1,659.2 1351.9,659.4 1353.7,659.5 1355.5,659.6 1357.3,659.8 1359.1,659.9 1360.9,660.0 1362.8,660.1 1364.6,660.3 1366.5,660.4 1368.3,660.5 1370.2,660.6 1372.1,660.7 1373.9,660.8 1375.8,661.0 1377.7,661.1 1379.6,661.2 1381.6,661.3 1383.5,661.4 1385.4,661.5 1387.3,661.6 1389.3,661.7 1391.2,661.8 1393.2,661.9 1395.1,662.0 1397.1,662.1 1399.1,662.2 1401.1,662.3 1403.1,662.4 1405.1,662.5 1407.1,662.6 1409.1,662.7 1411.1,662.8 1413.2,662.9 1415.2,663.0 1417.3,663.1 1419.3,663.2 1421.4,663.3 1423.4,663.4 1425.5,663.4 1427.6,663.5 1429.7,663.6 1431.8,663.7 1433.9,663.8 1436.0,663.9 1438.1,664.0 1440.3,664.0 1442.4,664.1 1444.5,664.2 1446.7,664.3 1448.9,664.4 1451.0,664.4 1453.2,664.5 1455.4,664.6 1457.6,664.7 1459.8,664.7 1462.0,664.8 1464.2,664.9 1466.4,665.0 1468.6,665.0 1470.9,665.1 1473.1,665.2 1475.4,665.2 1477.6,665.3 1479.9,665.4 1482.2,665.4 1484.4,665.5 1486.7,665.6 1489.0,665.6 1491.3,665.7 1493.6,665.8 1496.0,665.8 1498.3,665.9 1500.6,666.0 1503.0,666.0 1505.3,666.1 1507.7,666.2 1510.0,666.2 1512.4,666.3 1514.8,666.3 1517.1,666.4 1519.5,666.5 1521.9,666.5 1524.4,666.6 1526.8,666.6 1529.2,666.7 1531.6,666.7 1534.1,666.8 1536.5,666.9 1539.0,666.9 1541.4,667.0 1543.9,667.0 1546.4,667.1 1548.8,667.1 1551.3,667.2 1553.8,667.2 1556.3,667.3 1558.8,667.3 1561.4,667.4 1563.9,667.4 1566.4,667.5 1569.0,667.5 1571.5,667.6 1574.1,667.6 1576.6,667.7 1579.2,667.7 1581.8,667.8 1584.4,667.8 1587.0,667.9 1589.6,667.9 1592.2,668.0 1594.8,668.0 1597.4,668.1 1600.1,668.1 1602.7,668.1 1605.4,668.2 1608.0,668.2 1610.7,668.3 1613.4,668.3 1616.0,668.4 1618.7,668.4 1621.4,668.4 1624.1,668.5 1626.8,668.5 1629.5,668.6 1632.3,668.6 1635.0,668.6 1637.7,668.7 1640.5,668.7 1643.2,668.8 1646.0,668.8 1648.8,668.8 1651.5,668.9 1654.3,668.9 1657.1,669.0 1659.9,669.0 1662.7,669.0 1665.5,669.1 1668.3,669.1 1671.2,669.1 1674.0,669.2 1676.9,669.2 1679.7,669.3 1682.6,669.3 1685.4,669.3 1688.3,669.4 1691.2,669.4 1694.1,669.4 1697.0,669.5 1699.9,669.5 1702.8,669.5 1705.7,669.6 1708.6,669.6 1711.6,669.6 1714.5,669.7 1717.5,669.7 1720.4,669.7 1723.4,669.8 1726.3,669.8 1729.3,669.8 1732.3,669.9 1735.3,669.9 1738.3,669.9" fill="none" stroke="#ff0000" stroke-width="6.2" stroke-linecap="round" stroke-linejoin="round"/>
<line x1="1113.0" y1="614.7" x2="1763.1" y2="614.7" stroke="#0000ff" stroke-width="2"/>
<line x1="1150.1" y1="10.9" x2="1150.1" y2="704.6" stroke="#00ff00" stroke-width="2.6"/>
<rect x="1113.0" y="10.9" width="650.1" height="693.7" fill="none" stroke="#000" stroke-width="2.4"/>
<line x1="1137.3" y1="704.6" x2="1137.3" y2="727.1" stroke="#000" stroke-width="2.4"/>
<line x1="1223.9" y1="704.6" x2="1223.9" y2="727.1" stroke="#000" stroke-width="2.4"/>
<line x1="1310.5" y1="704.6" x2="1310.5" y2="727.1" stroke="#000" stroke-width="2.4"/>
<line x1="1397.1" y1="704.6" x2="1397.1" y2="727.1" stroke="#000" stroke-width="2.4"/>
<line x1="1483.7" y1="704.6" x2="1483.7" y2="727.1" stroke="#000" stroke-width="2.4"/>
<line x1="1570.3" y1="704.6" x2="1570.3" y2="727.1" stroke="#000" stroke-width="2.4"/>
<line x1="1656.9" y1="704.6" x2="1656.9" y2="727.1" stroke="#000" stroke-width="2.4"/>
<line x1="1743.5" y1="704.6" x2="1743.5" y2="727.1" stroke="#000" stroke-width="2.4"/>
<text transform="translate(1137.30,783.20) scale(1.0000,1)" font-size="37.5" text-anchor="middle" fill="#000" font-weight="normal" font-family="'TeX Gyre Heros', 'Liberation Sans', Arial, sans-serif">0</text>
<text transform="translate(1223.90,783.20) scale(1.0000,1)" font-size="37.5" text-anchor="middle" fill="#000" font-weight="normal" font-family="'TeX Gyre Heros', 'Liberation Sans', Arial, sans-serif">50</text>
<text transform="translate(1310.50,783.20) scale(1.0000,1)" font-size="37.5" text-anchor="middle" fill="#000" font-weight="normal" font-family="'TeX Gyre Heros', 'Liberation Sans', Arial, sans-serif">100</text>
<text transform="translate(1483.70,783.20) scale(1.0000,1)" font-size="37.5" text-anchor="middle" fill="#000" font-weight="normal" font-family="'TeX Gyre Heros', 'Liberation Sans', Arial, sans-serif">200</text>
<text transform="translate(1656.90,783.20) scale(1.0000,1)" font-size="37.5" text-anchor="middle" fill="#000" font-weight="normal" font-family="'TeX Gyre Heros', 'Liberation Sans', Arial, sans-serif">300</text>
<line x1="1089.6" y1="678.9" x2="1113.0" y2="678.9" stroke="#000" stroke-width="2.4"/>
<text transform="translate(1061.30,678.90) rotate(-90) scale(1.0000,1)" font-size="37.5" text-anchor="middle" fill="#000" font-weight="normal" font-family="'TeX Gyre Heros', 'Liberation Sans', Arial, sans-serif">0.0</text>
<line x1="1089.6" y1="550.4" x2="1113.0" y2="550.4" stroke="#000" stroke-width="2.4"/>
<text transform="translate(1061.30,550.44) rotate(-90) scale(1.0000,1)" font-size="37.5" text-anchor="middle" fill="#000" font-weight="normal" font-family="'TeX Gyre Heros', 'Liberation Sans', Arial, sans-serif">0.2</text>
<line x1="1089.6" y1="422.0" x2="1113.0" y2="422.0" stroke="#000" stroke-width="2.4"/>
<text transform="translate(1061.30,421.98) rotate(-90) scale(1.0000,1)" font-size="37.5" text-anchor="middle" fill="#000" font-weight="normal" font-family="'TeX Gyre Heros', 'Liberation Sans', Arial, sans-serif">0.4</text>
<line x1="1089.6" y1="293.5" x2="1113.0" y2="293.5" stroke="#000" stroke-width="2.4"/>
<text transform="translate(1061.30,293.52) rotate(-90) scale(1.0000,1)" font-size="37.5" text-anchor="middle" fill="#000" font-weight="normal" font-family="'TeX Gyre Heros', 'Liberation Sans', Arial, sans-serif">0.6</text>
<line x1="1089.6" y1="165.1" x2="1113.0" y2="165.1" stroke="#000" stroke-width="2.4"/>
<text transform="translate(1061.30,165.06) rotate(-90) scale(1.0000,1)" font-size="37.5" text-anchor="middle" fill="#000" font-weight="normal" font-family="'TeX Gyre Heros', 'Liberation Sans', Arial, sans-serif">0.8</text>
<line x1="1089.6" y1="36.6" x2="1113.0" y2="36.6" stroke="#000" stroke-width="2.4"/>
<text transform="translate(1061.30,36.60) rotate(-90) scale(1.0000,1)" font-size="37.5" text-anchor="middle" fill="#000" font-weight="normal" font-family="'TeX Gyre Heros', 'Liberation Sans', Arial, sans-serif">1.0</text>
<text transform="translate(1149.63,742.40) scale(0.9500,1)" font-size="28.5" text-anchor="middle" fill="#00ff00" font-weight="normal" font-family="'TeX Gyre Heros', 'Liberation Sans', Arial, sans-serif">7.41</text>
<text transform="translate(1438.70,855.40) scale(1.0000,1)" font-size="37.5" text-anchor="middle" fill="#000" font-weight="normal" font-family="'TeX Gyre Heros', 'Liberation Sans', Arial, sans-serif">Distance(Mb)</text>
<text transform="translate(963.50,357.75) rotate(-90) scale(1.0,1)" font-size="37.5" text-anchor="middle" font-family="'TeX Gyre Heros', 'Liberation Sans', Arial, sans-serif">LD <tspan font-size="42.0">(</tspan>r<tspan font-size="26" dy="-17.5">2</tspan><tspan dy="17.5" font-size="42.0">)</tspan></text>
<text transform="translate(911.20,857.60) scale(1.05,1)" font-size="51" font-weight="bold" font-family="Carlito, 'Liberation Sans', sans-serif">(b)</text>
<path d="M223 993h26M251 993h2M223 995h30M257 995h2M223 997h30M255 997h2M223 999h26M223 1001h28M223 1003h28M253 1003h2M223 1005h26M251 1005h2M223 1007h34M223 1009h30M223 1011h28M223 1013h28M253 1013h2M257 1013h2M261 1013h2M223 1015h30M255 1015h2M259 1015h2M223 1017h32M257 1017h2M223 1019h30M257 1019h2M223 1021h26M253 1021h2M257 1021h2M223 1023h26M251 1023h2M259 1023h2M223 1025h26M251 1025h2M255 1025h2M223 1027h28M253 1027h2M223 1029h26M251 1029h4M223 1031h28M253 1031h2M223 1033h28M255 1033h2M223 1035h26M255 1035h4M223 1037h30M223 1039h28M255 1039h4M223 1041h28M253 1041h2M223 1043h26M251 1043h2M255 1043h2M223 1045h26M251 1045h2M261 1045h2M223 1047h28M253 1047h2M223 1049h30M257 1049h2M223 1051h28M223 1053h28M255 1053h4M223 1055h26M251 1055h2M255 1055h2M223 1057h30M257 1057h4M223 1059h26M251 1059h2M223 1061h28M253 1061h4M223 1063h26M251 1063h2M223 1065h28M253 1065h4M223 1067h26M223 1069h28M253 1069h4M259 1069h2M223 1071h28M223 1073h26M255 1073h2M223 1075h34M223 1077h26M261 1077h2M223 1079h26M253 1079h2M257 1079h2M223 1081h26M251 1081h4M223 1083h26M251 1083h4M257 1083h2M223 1085h26M261 1085h2M223 1087h28M223 1089h30M223 1091h28M253 1091h2M223 1093h28M253 1093h2M261 1093h2M223 1095h32M223 1097h28M255 1097h2M223 1099h30M255 1099h2M223 1101h28M253 1101h4M223 1103h26M253 1103h6M223 1105h28M253 1105h2M257 1105h2M223 1107h32M223 1109h26M251 1109h2M223 1111h26M251 1111h4M223 1113h28M223 1115h26M223 1117h26M253 1117h4M223 1119h32M257 1119h2M223 1121h28M257 1121h2M223 1123h28M255 1123h2M223 1125h32M223 1127h26M253 1127h2M257 1127h2M223 1129h26M251 1129h8M223 1131h30M255 1131h4M223 1133h26M251 1133h4M223 1135h28M253 1135h2M223 1137h28M253 1137h2M257 1137h2M223 1139h30M255 1139h2M223 1141h30M223 1143h30M255 1143h2M223 1145h26M251 1145h2M223 1147h26M251 1147h6M223 1149h30M223 1151h26M251 1151h4M223 1153h30M257 1153h2M223 1155h28M255 1155h2M223 1157h32M223 1159h30M255 1159h2M259 1159h2M223 1161h26M253 1161h2M223 1163h26M251 1163h2M223 1165h28M255 1165h2M223 1167h26M251 1167h4M223 1169h30M223 1171h28M223 1173h26M223 1175h26M251 1175h2M255 1175h2M223 1177h30M223 1179h28M253 1179h2M223 1181h34M259 1181h2M223 1183h26M257 1183h2M223 1185h26M251 1185h6M223 1187h28M255 1187h6M223 1189h28M253 1189h4M223 1191h32M223 1193h32M259 1193h2M223 1195h28M259 1195h2M223 1197h28M253 1197h2M223 1199h26M251 1199h2M223 1201h26M251 1201h4M259 1201h2M223 1203h28M253 1203h2M223 1205h26M251 1205h4M223 1207h28M257 1207h2M223 1209h26M251 1209h2M223 1211h26M251 1211h6M223 1213h26M255 1213h4M223 1215h26M251 1215h2M223 1217h26M251 1217h2M223 1219h28M255 1219h2M223 1221h26M261 1221h2M223 1223h26M251 1223h2M223 1225h26M253 1225h4M259 1225h2M223 1227h26M251 1227h4M223 1229h28M223 1231h28M257 1231h2M223 1233h26M251 1233h4M223 1235h30M255 1235h4M223 1237h26M253 1237h2M223 1239h32M257 1239h2M223 1241h28M257 1241h2M223 1243h36M223 1245h26M251 1245h4M257 1245h4M223 1247h32M257 1247h2M223 1249h26M251 1249h2M223 1251h30M255 1251h4M223 1253h28M255 1253h2M223 1255h28M253 1255h4M223 1257h26M251 1257h2M223 1259h30M223 1261h26M253 1261h2M223 1263h26M251 1263h2M255 1263h2M259 1263h2M223 1265h28M259 1265h2M223 1267h26M223 1269h32M223 1271h26M251 1271h4M223 1273h30M255 1273h2M223 1275h28M259 1275h2M223 1277h26M255 1277h2M259 1277h2M223 1279h30M223 1281h28M255 1281h2M223 1283h28M255 1283h2M259 1283h4M223 1285h26M255 1285h2M223 1287h28M255 1287h2M223 1289h26M251 1289h6M223 1291h26M251 1291h2M259 1291h2M223 1293h26M251 1293h2M255 1293h2M223 1295h26M251 1295h2M223 1297h26M251 1297h2M257 1297h4M223 1299h28M253 1299h6M223 1301h28M223 1303h32M261 1303h2M223 1305h26M251 1305h2M257 1305h2M223 1307h26M251 1307h4M259 1307h2M223 1309h28M255 1309h2M223 1311h26M251 1311h4M257 1311h2M223 1313h28M253 1313h4M259 1313h4M223 1315h30M223 1317h28M223 1319h28M255 1319h6M223 1321h28M253 1321h4M223 1323h28M253 1323h4M223 1325h28M253 1325h4M261 1325h2M223 1327h32M259 1327h2M223 1329h34M259 1329h2M223 1331h34M263 1331h2M223 1333h28M253 1333h4M259 1333h2M223 1335h32M257 1335h4M265 1335h2M223 1337h32M257 1337h2M223 1339h30M257 1339h2M223 1341h34M259 1341h4M223 1343h32M259 1343h4M223 1345h28M253 1345h4M263 1345h4M223 1347h34M259 1347h4M223 1349h28M253 1349h6M261 1349h2M265 1349h2M223 1351h34M259 1351h2M263 1351h2M223 1353h32M257 1353h4M263 1353h2M269 1353h2M223 1355h30M257 1355h2M261 1355h2M267 1355h2M223 1357h32M257 1357h8M223 1359h40M265 1359h6M223 1361h34M259 1361h2M263 1361h2M267 1361h2M223 1363h34M259 1363h4M265 1363h4M223 1365h40M265 1365h2M269 1365h2M275 1365h2M223 1367h36M261 1367h4M223 1369h36M261 1369h2M265 1369h6M273 1369h2M277 1369h2M223 1371h40M267 1371h2M271 1371h4M223 1373h46M271 1373h2M223 1375h38M263 1375h6M271 1375h2M223 1377h38M263 1377h4M223 1379h44M271 1379h2M223 1381h34M261 1381h4M267 1381h2M271 1381h4M223 1383h34M259 1383h2M265 1383h2M269 1383h2M223 1385h40M267 1385h2M273 1385h2M223 1387h36M261 1387h4M267 1387h2M271 1387h2M223 1389h42M269 1389h4M277 1389h4M223 1391h48M223 1393h42M271 1393h6M283 1393h2M223 1395h38M263 1395h2M273 1395h2M277 1395h2M223 1397h42M269 1397h8M285 1397h2M223 1399h36M261 1399h6M269 1399h4M275 1399h6M223 1401h44M269 1401h2M273 1401h4M279 1401h4M285 1401h2M223 1403h40M265 1403h2M269 1403h4M275 1403h4M285 1403h4M223 1405h48M273 1405h2M277 1405h2M285 1405h2M223 1407h52M277 1407h2M281 1407h2M223 1409h46M273 1409h2M279 1409h6M223 1411h46M271 1411h2M275 1411h8M223 1413h52M277 1413h2M223 1415h36M261 1415h8M271 1415h4M223 1417h46M271 1417h2M275 1417h10M287 1417h4M223 1419h48M273 1419h4M279 1419h2M287 1419h2M223 1421h48M273 1421h6M283 1421h6M223 1423h40M265 1423h4M271 1423h10M287 1423h2M223 1425h46M271 1425h12M223 1427h42M267 1427h16M289 1427h4M223 1429h44M269 1429h4M275 1429h6M283 1429h2M293 1429h2M223 1431h58M285 1431h2M291 1431h2M223 1433h52M279 1433h4M285 1433h2M289 1433h4M295 1433h2M223 1435h50M275 1435h2M279 1435h2M283 1435h4M223 1437h58M283 1437h8M295 1437h2M223 1439h50M275 1439h6M283 1439h2M287 1439h6M223 1441h54M279 1441h10M291 1441h4M223 1443h62M293 1443h2M223 1445h62M295 1445h2M223 1447h52M277 1447h2M281 1447h4M289 1447h4M223 1449h56M281 1449h2M287 1449h4M295 1449h2M301 1449h2M223 1451h54M279 1451h8M289 1451h4M295 1451h2M223 1453h54M281 1453h12M295 1453h4M301 1453h2M223 1455h62M287 1455h2M291 1455h2M303 1455h2M223 1457h64M289 1457h6M297 1457h4M223 1459h60M285 1459h4M293 1459h4M223 1461h64M289 1461h2M297 1461h4M223 1463h64M289 1463h2M293 1463h2M297 1463h4M223 1465h68M295 1465h2M223 1467h64M293 1467h10M223 1469h74M299 1469h4M305 1469h2M223 1471h62M287 1471h14M307 1471h4M223 1473h72M305 1473h6M223 1475h66M295 1475h8M309 1475h2M223 1477h70M295 1477h4M301 1477h2M305 1477h2M223 1479h78M303 1479h4M313 1479h2M223 1481h76M301 1481h6M309 1481h2M223 1483h70M295 1483h2M305 1483h2M309 1483h2M313 1483h2M223 1485h78M307 1485h4M223 1487h76M301 1487h4M223 1489h74M299 1489h8M223 1491h70M295 1491h8M307 1491h2M223 1493h76M303 1493h6M319 1493h2M223 1495h70M295 1495h14M313 1495h2M223 1497h86M311 1497h2M315 1497h4M223 1499h70M295 1499h2M299 1499h2M305 1499h4M311 1499h2M317 1499h2M223 1501h86M311 1501h2M317 1501h4M325 1501h2M223 1503h78M303 1503h4M309 1503h2M315 1503h2M223 1505h76M301 1505h4M309 1505h2M317 1505h2M223 1507h86M311 1507h8M325 1507h2M223 1509h78M303 1509h8M313 1509h2M323 1509h2M329 1509h2M223 1511h88M313 1511h6M327 1511h2M223 1513h88M317 1513h2M321 1513h2M223 1515h88M313 1515h8M327 1515h2M223 1517h88M315 1517h2M319 1517h2M323 1517h2M327 1517h2M335 1517h2M223 1519h84M309 1519h2M313 1519h4M319 1519h2M323 1519h6M331 1519h4M223 1521h94M323 1521h4M329 1521h2M223 1523h96M325 1523h4M335 1523h2M223 1525h96M321 1525h10M333 1525h2M223 1527h92M317 1527h6M325 1527h4M331 1527h8M223 1529h90M315 1529h4M321 1529h10M333 1529h2M223 1531h94M319 1531h10M331 1531h4M223 1533h94M319 1533h2M323 1533h6M331 1533h2M335 1533h2M223 1535h90M315 1535h6M323 1535h6M333 1535h2M223 1537h98M323 1537h2M223 1539h100M325 1539h8M223 1541h94M319 1541h8M331 1541h4M223 1543h106M337 1543h2M223 1545h90M315 1545h4M321 1545h10M333 1545h4M339 1545h2M223 1547h96M321 1547h8M339 1547h2M223 1549h106M223 1551h102M329 1551h4M223 1553h108M333 1553h6M223 1555h104M329 1555h6M223 1557h106M333 1557h2M223 1559h256M481 1559h18M503 1559h4M509 1559h2M515 1559h4M521 1559h6M223 1561h260M485 1561h12M501 1561h4M507 1561h2M515 1561h2M521 1561h2M529 1561h2M535 1561h2M223 1563h284M509 1563h8M519 1563h6M527 1563h4M537 1563h4M223 1565h266M493 1565h6M501 1565h4M507 1565h4M517 1565h4M523 1565h4M529 1565h2M533 1565h2M223 1567h282M507 1567h2M511 1567h4M517 1567h4M523 1567h2M529 1567h2M537 1567h2M223 1569h270M495 1569h2M499 1569h6M509 1569h8M521 1569h6M529 1569h4M535 1569h4M541 1569h2M223 1571h272M497 1571h14M515 1571h4M521 1571h2M525 1571h2M533 1571h4M223 1573h276M501 1573h8M513 1573h4M519 1573h2M525 1573h4M531 1573h4M541 1573h2M223 1575h292M517 1575h2M521 1575h4M527 1575h4M533 1575h2M539 1575h2M223 1577h272M497 1577h8M507 1577h14M527 1577h2M223 1579h276M501 1579h16M519 1579h4M525 1579h2M529 1579h4M537 1579h2M541 1579h2M545 1579h2M223 1581h272M497 1581h18M517 1581h6M529 1581h4M535 1581h2M547 1581h2M223 1583h272M497 1583h8M507 1583h12M521 1583h10M533 1583h2M537 1583h2M543 1583h2M223 1585h292M517 1585h6M527 1585h2M531 1585h4M539 1585h2M549 1585h2M223 1587h282M507 1587h12M525 1587h6M533 1587h4M539 1587h2M543 1587h2M547 1587h2M551 1587h2M223 1589h304M529 1589h6M537 1589h6M547 1589h2M555 1589h2M223 1591h274M499 1591h28M531 1591h6M539 1591h4M547 1591h4M223 1593h302M527 1593h12M543 1593h6M551 1593h2M223 1595h282M507 1595h16M525 1595h18M545 1595h4M551 1595h2M223 1597h284M509 1597h2M513 1597h2M517 1597h6M525 1597h6M533 1597h2M543 1597h2M549 1597h2M559 1597h2M223 1599h304M529 1599h6M537 1599h2M223 1601h300M525 1601h14M541 1601h4M547 1601h2M553 1601h2M557 1601h2M561 1601h2M223 1603h306M535 1603h2M539 1603h2M549 1603h2M553 1603h2M223 1605h288M513 1605h20M535 1605h4M541 1605h2M545 1605h8M555 1605h2M559 1605h2M223 1607h298M523 1607h12M537 1607h4M543 1607h4M553 1607h2M559 1607h2M563 1607h2M223 1609h300M525 1609h12M539 1609h6M557 1609h2M561 1609h2M223 1611h298M523 1611h10M537 1611h2M543 1611h4M549 1611h2M555 1611h2M571 1611h4M223 1613h320M545 1613h8M557 1613h2M569 1613h4M223 1615h316M541 1615h6M551 1615h2M565 1615h2M569 1615h2M581 1615h2M223 1617h306M531 1617h2M537 1617h14M553 1617h2M563 1617h2M567 1617h4M573 1617h2M223 1619h318M543 1619h6M553 1619h6M561 1619h4M573 1619h4M223 1621h584M223 1623h584M223 1625h584" stroke="#bebebe" stroke-width="2" fill="none"/>
<path d="m252 996-2 5 0 14 1 1-2 4 10 2-5 9-4 2-1 33 11 3-8 6 2 5-2 4-2 13 4 32 0 6 3 7-5 4-1 7 3 5-3 11 2 7-4 3 6 15 5 6-5 10-1 1 2 2-5 2 7 21-5 6 7 3-3 7-2 4-2 12 3 5 3 2-4 9 1 3-4 2 6 16 2 1 3 7-14 11 13 0-9 16-4 6 10 1-3 13-1 5 8 1 3 3 8 0-13 4 6 0-7 2 4 4-9 7 19 0-10 3-7 5 7 4-5 1 18 0 8 1-5 1-3 3-26 5 1 3 29 0-9 3 7 1 4 0 1 0-32 1 21 2-6 1 10 1 12 2-31 1 3 1 14 0-17 2 36 1-27 1-8 6 6 1 6 0-13 4 13 1 13 3 12 0-42 5 20 0 29 3-42 1 13 0-11 1 27 3 7 1-1 1-31 1 14 3 10 1-34 2 2 1 44 0-16 1 5 2 3 0 5 2-8 1-1 1 12 1-21 1 18 1-45 1 12 0 1 1 15 0 11 0-7 1 18 0-13 1-23 1 20 0 5 2 17 1-48 1 37 0 3 2-15 5-11 2 12 0-6 3 12 3 14 0-56 1 37 0 38 0-53 1 38 1-42 3-18 1 16 0 46 0-2 1-20 1 27 5 10 0-38 1 14 2 30 2-29 4 6 0-50 1 51 0 8 2 3 1-28 3 36 1-10 2 13 2-35 3 32 0-32 2 28 1-20 2-10 1 38 0-27 2 33 0-29 1-27 1 31 1-23 3-40 1 64 0 18 0-71 1 40 0 11 0 90 4-77 1 16 0 129 0 32 0-50 1 75 0 7 0-245 2 64 0 96 0 38 0 26 0 7 1-240 1 228 1-152 1 39 1 31 0 84 0-156 1 35 0-139 1 236 0-207 1 208 0 12 0 1 0 14 1-39 1 10 0 44 0-57 2 55 0-269 1 162 0 0 0 58 0 24 0-52 1-50 1 58 0 9 0 44 0-29 3 33 0 29 0-227 1-37 1 192 0-54 1 73 0-245 1 136 0 28 0 24 0 53 0 44 1-233 1 24 0 154 0-33 1 97 0 5 0-112 1 120 0-155 1 76 0 23 0-54 1 64 0-67 1 40 0 9 0 15 0 11 0-188 1-63 1 88 0 132 0 26 0 9 0 18 0-210 1 136 0 2 0 2 0-136 1 181 0-70 1 8 1 49 0 25 0-160 1 114 0 14 0-210 1 89 0 113 0 40 0 3 2-83 1 3 1 8 0 90 1 11 0-225 1 151 0-4 1 52 0-65 3-189 1 148 1 27 0 16 0 63 0-134 1 171 0-164 1 106 0-3 1 4 0 30 0-166 1 168 0-234 3 105 0 24 0 74 0 48 0-19 1" fill="none" marker-start="url(#h)" marker-mid="url(#h)" marker-end="url(#h)"/>
<path d="m249 992 69 0-55 1 5 0 16 0 1 0 13 0 39 0 135 0-222 1 1 0 14 0 36 0 7 0-55 1 3 0 3 0 4 0 2 0 4 0 78 0 17 0 90 0-200 1 25 0 8 0 1 0 3 0 20 0 57 0 45 0 17 0 44 0 19 0 5 0-237 1 19 0 16 0 62 0 41 0-133 1 6 0 19 0 7 0 38 0 5 0 140 0-226 1 1 0-3 1 18 0 16 0 33 0 81 0 107 0 18 0-271 1 3 0 15 0 28 0 29 0 60 0 36 0 1 0 103 0-268 1 0 0-11 1 7 0 33 0 1 0 6 0 117 0 28 0-169 1 22 0 57 0-72 1 5 0 2 0 20 0 4 0 55 0 222 0-333 1 235 0 98 0-314 1 6 0 3 0 9 0-35 1 2 0 11 0 11 0 0 0 52 0-76 1 36 0 33 0 105 0-180 1 56 0 7 0 30 0 41 0-128 1 86 0 164 0-256 1 29 1 1 0 10 0-18 1 20 0 67 0-99 1 31 0 4 0 9 1-45 1 10 0 115 0-119 2 0 0 34 0 87 0 78 0-211 1 0 0 8 0 7 0 26 0 54 0-81 2 5 0 45 0 2 0-70 1 0 0 4 0 12 0 93 0 113 0-177 1 41 0-67 1 6 0 14 0 110 0 11 0-153 1 24 0-1 1 4 0 2 0 28 0 48 0 60 0-165 1 1 0 2 0 3 0 1 0 2 0 2 0 84 0 4 0-107 1 0 0 50 0 146 0 54 0-238 1 36 0 9 0-49 1 13 0 4 0 5 0 25 0 13 0 112 0 166 0-331 1 0 0 26 0 1 0 4 0 3 0 15 0 17 0 7 0 100 0-160 1 1 0 7 0 1 0 16 0 45 0-87 1 88 0 20 0 223 0-339 1 12 0 1 0 11 0 14 0 7 0 39 0 165 0-241 1 2 0 8 0 15 0 11 0 15 0 3 0-49 1 27 0-25 1 11 0 15 0 6 0-48 1 2 0 11 0 0 0 5 0 16 0 10 0 65 0-104 1 13 0 2 0 2 0 0 0 21 0 17 0 70 0-114 1 123 0-130 1 10 0 8 0-29 1 7 0 16 0 1 0 19 0 51 0 76 0 92 0-249 1 3 0 9 0 10 0 39 0 35 0-105 1 19 0 9 0 29 0 145 1-200 1 3 0 72 0 4 0 11 0-85 1 16 0 2 0 78 0 146 0 207 0-456 1 30 0 14 0-44 1 15 0 3 0 23 0 16 0 80 0-140 1 3 0 183 0-170 1 112 0-105 1 13 0 21 0 7 0 246 0-297 1 3 0 4 0 18 0 28 0 74 0 7 0-137 1 1 0 16 0 49 0 46 0-102 1-7 1 63 0 8 0 6 0-49 1 4 0 6 0 22 0 2 0-73 1 6 0 11 0 8 0 6 0 3 0 14 0 28 0 4 0-77 1 20 0 161 0-163 1 12 0 17 0 58 0-58 1 52 0 33 0 136 0 5 0-272 1 10 0 18 0-21 1 16 0 17 0 12 0 0 0-46 1 38 0 37 0 26 0-106 1 6 0 24 0 4 0 23 0-60 1 3 0 11 0 9 0 40 0 2 0-65 1 15 0 18 0 1 0 7 0 42 0 115 0-167 1 68 0-76 1-12 1 38 0-33 1 3 0 5 0 41 0 88 0-156 1 2 0 12 0 30 0 82 0 271 0-395 1 39 0 6 0 4 0 37 0 55 0 70 0 43 0-241 1 15 0 9 0 19 0 16 0-76 1 64 0-65 1 2 0 0 0 4 0 20 0 311 0-328 1 24 0 4 0 2 0 7 0 8 0-28 1 141 0 39 0 31 0 13 0 166 0-394 1-13 1 9 0 76 0 35 0-95 1 11 0 25 0 11 0-68 1 3 0-13 1 0 0 15 0 21 0 141 0-168 1 7 0 15 0 3 0 30 0 2 0 4 0 28 0 140 0-215 1 10 0 3 0 185 0-212 1 2 0 24 0 55 0 105 0 211 0 24 0-341 1 2 0 107 0-189 1 13 0 71 0 96 0 92 0-271 1 1 0 0 0 17 0 43 0 27 0 107 0-196 1 11 0 0 0 6 0 17 0 11 0 15 0 3 0 387 0 8 0-452 1 19 0 9 0 33 0 36 0 114 1-220 1 7 0 106 0-108 1 22 0 29 0 354 0-417 1 31 0 56 0 2 0 101 0-187 1 25 0 9 0-31 1 42 0 14 0 18 0-56 1 9 0 23 0 2 0 13 0 4 0 59 0 29 0 114 0-259 1 3 0 43 0 51 0 121 0 2 0-181 1-44 1 1 0 7 0 9 0 7 0 34 0 111 0-184 1 85 0 4 0 297 0-359 1 6 0 4 0 14 0 81 0 44 0-155 1 31 0 69 0-100 1 6 0 13 0 83 0 47 0-152 1 5 0 7 0 1 0 11 0 5 0-31 1 43 0 78 0 80 0 5 0-220 1 31 0 16 0 21 0-59 1 1 0 11 0 15 0 2 0 13 0 22 0 105 0-180 1 1 0 6 0 6 0 18 0 7 0 167 0 139 0-334 1 20 0 113 0-115 1 9 0 30 0 12 0 18 0 214 0 16 0-315 1 14 0 5 0 4 0-30 1 0 0 60 0 7 0 24 0 137 0-225 1 17 0 4 0 16 0 7 0 27 1 56 0 49 0-183 1 8 0 4 0 13 0 15 0 3 0 1 0-31 1 5 0 15 0 83 0-112 1 5 0 28 0 78 0 138 0 181 0-423 1 1 0 6 0 0 0 9 0 17 0 84 0 89 0 9 0-213 1 34 0-43 1 24 0 50 0 53 0-128 1 186 0-182 1 40 0 200 0-236 1 2 0 7 0 3 0 220 0-213 1 30 0 157 0 37 0 28 0-259 1 3 0 15 0 186 0-226 1 76 0-74 1 9 0 17 0 2 0 2 0 2 0 2 0-24 1 2 0 12 0 6 0 32 0 147 0 11 0 20 0-237 1 26 0 16 0-43 1 31 0 11 0 5 0 73 0 8 0 5 0-132 1 10 0 17 0 4 0 4 0 0 0 3 0 64 0-107 1 23 0 11 0 10 0-9 1 45 0 36 0 76 0-187 1 11 0 14 0 8 0 8 0-36 1 4 0 1 0 8 0 6 0 5 0 37 0-64 1 1 0 9 0 2 0 2 0 3 0 2 0 253 0 7 0-274 1 19 0 1 0 10 0 21 0-57 1 3 0 15 0 9 0-26 1 19 0 12 0 12 0 286 0-311 1 265 0 258 0-531 1 4 0 18 0 11 0 229 0-267 1 23 0 131 0-108 1 228 0-266 1 4 0 17 0-28 1 7 0 5 0 4 0 31 0-58 1 3 0 15 0 14 0-7 1 11 0 3 0 16 0-51 1 0 0 6 0 53 0-57 1 15 0 34 0 37 0 82 0-173 1 6 0-1 1 1 0 9 0 247 0 3 0-266 1 7 0 14 0 48 0 9 0-49 1 2 0 159 0-183 1 5 0 4 0 16 0 17 0 6 1 1 0-44 1 1 0 33 0 4 0 8 0 77 0-113 1 8 0 3 0 1 0 27 0-64 1 51 0 147 0-199 1 13 0 2 0 3 0 16 0 4 0 3 0 1 0-31 1 33 0 0 0 35 0-70 1 2 0 6 0 2 0 6 0 21 0 4 0 11 0 151 0-189 1 56 0-69 1 5 0 7 0 12 0 51 0 30 0 255 0-363 1 50 0 134 1 292 0-450 1 143 0-172 1 38 0 14 0 109 0 197 0 81 0-441 1 10 0 20 0-29 1 39 0 23 0 28 0-92 1 6 0 24 0 20 0 191 0-242 1 63 0 53 0-115 1 16 0 59 0 49 1 0 0 84 0-156 1 42 0 196 0-288 1 14 0 1 0 29 0 3 0 83 0 1 0 113 0-236 1 2 0 5 0 2 0 0 0 4 0 4 0 7 0 24 0 24 0-71 1 10 0 12 0 84 0 122 0-220 1 10 0 8 0 399 0-416 1 4 0-23 1 1 0 10 0 7 0 12 0 9 0 3 0 85 0-128 1 3 0 11 0 3 0 12 0 160 0-189 1 27 0 23 0 121 0 32 0-183 1 3 0 8 0 17 0 20 0 36 0 23 0 52 0-155 1 1 0 11 0-22 1 8 0 10 0-8 1 13 1 13 0 2 0 24 0 141 0-202 1 5 0 10 0 86 0 63 0 22 1 79 0-268 1 0 0 1 0 27 0 27 0 64 0 223 0-326 1 0 0 101 0 122 0-238 1 85 0-92 1 36 0 84 0-124 1 7 0 1 0 4 0 1 0 4 0 0 0 23 0 125 0-138 1 4 0 12 0 73 0 53 0-164 1 16 0 21 0 19 0 63 0 61 0-171 1 293 0-291 1 13 0 10 1 47 0 62 0-134 1 32 1 40 0 14 0 17 0-111 1 4 0 19 0 10 0 40 0 116 0-191 1 8 0 6 0 11 0 24 0-33 1 4 0 17 0 58 0 21 0 117 0-229 1 30 0 9 0 1 0 57 0-94 1-2 1 17 0 22 0 82 0 22 0-154 1 174 0-161 1 10 0 20 0 20 0 39 0-88 1 5 0 7 0 5 0 3 0 60 0 3 0-92 1 5 0 2 0 14 0 143 0 43 0-212 1 24 0 28 1 25 0 134 0-202 1 37 0 46 0 37 0 14 0-143 1 4 0 4 0 12 0 1 0 3 0 33 0 196 0-242 1 2 0 10 0 123 0 21 0 26 0-181 1 13 0 24 0 97 0 55 0-117 1 193 0-252 1 2 0-23 1 4 0 7 0 9 0 36 0-53 1 7 0 5 0 25 0 2 0 7 0 64 0 126 0-188 1 8 0 241 0 31 0-328 1 13 0 14 0 10 0 216 0-249 1 14 0 70 0 20 0-106 1 33 0 11 0 19 0 50 0-114 1 4 0 0 0 10 0 10 0 15 0 18 0 62 0-120 1 3 0 0 0 4 0 11 0 7 0 14 0 6 0 93 0-143 1 7 0 3 0 23 0 47 0 3 0-77 1 10 0 10 0 1 0 5 0 3 0 15 0 34 0-52 1 71 0 22 0 12 0-126 1 8 0 20 0 7 0 9 0 104 0-150 1 4 0 13 0 6 0 32 0 61 0 11 0 96 0-203 1 93 0-112 1 20 0 2 0-11 1 3 0 31 0 29 0 64 0-138 1 1 0 8 0 9 0-25 1 33 0 5 0 18 0-52 1 17 0 6 0 83 0-103 1 20 0 9 0 64 0 32 0 30 0-145 1 38 0-36 1 134 0 16 0-175 1 96 0-79 1 9 0 6 0 106 0 149 0-271 1 16 0-9 1 11 0 8 0 200 0 33 0 165 0-432 1 15 0 25 0 57 0-88 1 33 0 45 0-84 1 0 0 13 0 6 0 23 0 22 0 325 0-397 1 8 0 60 0 20 0 45 0-112 1 3 0 55 0-50 1 20 0 234 0-140 1-120 1 6 0 32 0 15 0 162 0-240 1 40 0 78 0-109 1 1 0 40 0 2 0 92 0 63 0-186 1 18 0 13 0 46 0 4 0 2 0 14 0 155 0-268 1 1 0 17 0 4 0 3 0 22 0 15 0-62 1 1 0 11 0 29 0 9 0 81 0-135 1 18 0 1 0 1 0 22 0 5 0 219 0 282 0-536 1 1 0 35 0 24 0 176 0-245 1 40 0 13 0 16 0-32 1 0 0 62 0 89 0-162 1 4 0 7 0 183 0-221 1 6 0 75 0 5 0 1 0 3 0-86 1 64 0 6 0 0 0-66 1 0 0 11 0 4 0 32 0 1 0 97 0 98 0 31 0 13 0 234 0-521 1 62 0 9 0-82 1 23 0 17 0 3 0 13 0 245 0 6 0-291 1 4 0-15 1 44 0 21 0 1 1 82 0 73 0 9 0-228 1 16 0 3 0 27 0 37 0 21 0 14 0 128 0 166 0 38 0-451 1 5 0 47 0 8 0 89 0-141 1 22 0 2 0 3 0 4 0 12 0-56 1 16 0 9 0 7 0 14 0 7 0 23 0 24 0 21 0 67 0 39 0-219 1 9 0 59 0 27 0-100 1 62 0 142 0 23 0-229 1 0 0 5 0 13 0 12 0 4 0-11 1 15 0 100 0-122 1 2 0 22 0 4 0 21 0 105 0-145 1 2 0 9 0 76 0-100 1 3 0 2 0 6 0 9 0 3 0 10 0 4 0 39 0 347 1-435 1 7 0 2 0 26 0 27 0 31 0 8 0 79 0 57 0-214 1 309 0 27 0-349 1 9 0 22 0 196 0-227 1 9 0 30 1 2 0 7 0 0 0 37 0 114 0-200 1 13 0 5 0 72 0-96 1 13 0 2 0 2 0 0 0 48 0 6 0 12 0-89 1 0 0 12 0 10 0 66 0-87 1 4 0 12 0 16 0 11 0 18 0 30 0-80 1 1 0 5 0 4 0 14 0 14 0 10 0-58 1 15 0 4 0 45 0 42 0 18 0-98 1 218 0-228 1 34 0 225 0 9 0 183 0 10 0-439 1 9 0 1 0-36 1 1 0 25 0 113 0 80 0 36 0-255 1 13 0 8 0 19 0 74 0 31 0 121 0-252 1 7 0 1 0 106 0-124 1 1 0 7 0 12 0 5 0 60 0 66 0 8 0 22 0 20 0 23 0 135 0-364 1 9 0 1 0 3 0 4 0 36 0 49 0 5 0 0 0 67 0 12 0 17 0 15 0-226 1 10 0 15 0 23 0 132 0 66 0-245 1 4 0 69 0-71 1 28 0 41 0 18 0 203 0 0 0 239 0-535 1 2 0 12 0 3 0 2 0 17 0 3 0 21 0 79 0 93 0 228 0-457 1 15 0 2 0 48 0 1 0 65 0-136 1 6 0 27 0 3 0 9 0 3 0 52 0 152 0-233 1 28 0 26 0 101 0 11 0 38 0-213 1 38 0 29 0-63 1 12 0 8 0 17 0 19 0 12 0 3 0 36 0 85 0-171 1 16 0 51 0 112 0 74 0 49 0-315 1 31 0 6 0 129 0 22 0 32 0 30 0 69 0-337 1 21 0 7 0 9 0 72 0 16 0 4 0 26 0-143 1 0 0 5 0 12 0 6 0 25 0-35 1 8 0 21 0 19 0 30 0 120 0 68 0 9 0-257 1 6 0 3 0 2 0 94 0 45 0 22 0 27 0 22 0-254 1 12 0 20 0 42 0 80 0 6 0 42 0 148 0-354 1 71 0 0 0 7 0 5 0 18 0 390 0-445 1 19 0 13 0 74 0 98 0 45 0 19 0-321 1 5 0 15 0 37 0 19 0 25 0 23 0 53 0-177 1 98 0 210 0-293 1 5 0 32 0 171 0 75 0-284 1 5 0 7 0 3 0 8 0 1 0 15 0 6 0 7 0 25 0 27 0 6 0-96 1 1 0 47 0 16 0 1 0-75 1 17 0 4 0 41 0 1 0 20 0 2 0 1 0-81 1 13 0 2 0 10 0 30 0 52 0 40 0 37 0 11 0 62 0 64 0-339 1 27 0 29 0 112 0 30 0-191 1 1 0 3 0 36 0 9 0 17 0 14 0 133 0-188 1 22 0 20 0 34 0-80 1-17 1 13 0 0 0 18 0 60 0 122 0 19 0-183 1 10 0 60 0 124 0-247 1 18 0 1 0 3 0 23 0 1 0 12 0 0 0 18 0 33 0 88 0 115 0-322 1 1 0 34 0 50 0 40 0-123 1 7 0 22 0 7 0 38 0 217 0-287 1 12 0 38 0 44 0 30 0 101 0-222 1 11 0 17 0 9 0 32 0 5 0 14 0 242 0-320 1 3 0 20 0 49 0 5 0 16 0 53 0-161 1 23 0 10 0 8 0 26 0 21 0 12 0 82 0 99 0 6 0-277 1 11 0 4 0 10 0 8 0 54 0 4 0 18 0 133 0 53 0-296 1 4 0 14 0 53 0 19 0 3 0 5 0 21 0 36 0 176 0-341 1 17 0 0 0 4 0 1 0 34 0 12 0 12 0 2 0 13 0 3 0 9 0 15 0-112 1 38 0 8 0 4 0 16 0 0 0 5 0 243 0-318 1 11 0 9 0 37 0 49 0-108 1 30 0 40 0 33 0 20 0 99 0-231 1 20 0 2 0 20 0 23 0 55 0-57 1 0 0 20 0 72 0-137 1 6 0 1 0 24 0 6 0 3 0 46 0 106 0-196 1 14 0 12 0 1 0 5 0 40 0-79 1 12 0 55 0 45 0 84 0-202 1 18 0 5 0 19 0 5 0 29 0 27 0 0 0 3 0 51 0 169 0-324 1 15 0 4 0 4 0 37 0 48 0-108 1 11 0 46 0 5 0 6 0 34 0 17 0-107 1 27 0 1 0 3 0 4 0 25 0 10 0 17 0 112 0-193 1 15 0 25 0 3 0 26 0 8 0 42 0-62 1 30 0 116 0 45 0-255 1 7 0 4 0 31 0 124 0-154 1 11 0 11 0 2 0 21 0 1 0 19 0 16 0 101 0-191 1 14 0 4 0 35 0 10 0 11 0 22 0 42 0 102 0-245 1 43 0 38 0 1 0 5 0 38 0 51 0-175 1 13 0 22 0 19 0 2 0 44 0-94 1 6 0 5 0 3 0 47 0 3 0 20 0 15 0 20 0-101 1 68 0 29 0-115 1 14 0 1 0 16 0 19 0 22 0 21 0 5 0 31 0-119 1 7 0 14 0 8 0-19 1 25 0 10 0 4 0 20 0 1 0 9 0-96 1 1 0 29 0 20 0 12 0 5 0 16 0 5 0 31 0 130 0-243 1 10 0 16 0 3 0 10 0 25 0 8 0 31 0 115 0 5 0-219 1 0 0 9 0 11 0 23 0 16 0 204 0-255 1 4 0 9 0 11 0 8 0 12 0 22 0 147 0-165 1 61 0 134 0-253 1 9 0 13 0 37 0 24 0 42 0 174 0-303 1 0 0 1 0 0 0 2 0 26 0 9 0 21 0 7 0 10 0 12 0 25 0-106 1 1 0 6 0 23 0 38 0 6 0 62 0-122 1 4 0 11 0 20 0 7 0 124 0 90 0 42 0-302 1 1 0 62 0 16 0 126 0-211 1 6 0 54 0 8 0 97 0-184 1 31 0 6 0 1 0 1 0 6 0 5 0 2 0 23 0 5 0 62 0 28 0-169 1 1 0 12 0 37 0 10 0 39 0 13 0 87 0 32 0-217 1 7 0 1 0 5 0 2 0 5 0 1 0 26 0 1 0 198 0-257 1 0 0 3 0 43 0 50 0 4 0 4 0 9 0 187 0-297 1 2 0 13 0 2 0 37 0 0 0 60 0 91 0 95 0-291 1 6 0 1 0 0 0 20 0 2 0 7 0 9 0 53 0 35 0 13 0 18 0-174 1 20 0 57 0 10 0 14 0 36 0 2 0 67 0 14 0 103 0-324 1 1 0 59 0 6 0 35 0-91 1 31 0 20 0 9 0 18 0 2 0 17 0 113 0 12 0 4 0-221 1 2 0 2 0 15 0 6 0 18 0 21 0 12 0 49 0-139 1 5 0 5 0 34 0 25 0 4 0 4 0 4 0 96 0 110 0-288 1 1 0 3 0 28 0 15 0 23 0 38 0 3 0 2 0 16 0 1 0 3 0 3 0 135 0-268 1 28 0 31 0 38 0 24 0 21 0-138 1 40 0 3 0 4 0 34 0 71 0 116 0-275 1 15 0 2 0 1 0 0 0 8 0 7 0 3 0 1 0 6 0 15 0 10 0 3 0 10 0 102 0 46 0-226 1 16 0 5 0 3 0 20 0 2 0 38 0 1 0 9 0 4 0 78 0 49 0 30 0-255 1 7 0 6 0 1 0 18 0 7 0 9 0 13 0 38 0 2 0 4 0 16 0 151 0-272 1 13 0 4 0 15 0 0 0 3 0 51 0 12 0 20 0 33 0-134 1 0 0 12 0 59 0 205 0-282 1 8 0 6 0 6 0 7 0 17 0 34 0 6 0 9 0 5 0 21 0 139 0-249 1 2 0 2 0 82 0 54 0-161 1 7 0 17 0 6 0 30 0 139 0 47 0-234 1 16 0 43 0 11 0 57 0 43 0 39 0-170 1 25 0 64 0 119 0-250 1 34 0 4 0 13 0 34 0 2 0 23 0 67 0 23 0-192 1 5 0 5 0-18 1 10 0 1 0 11 0 36 0 2 0 2 0 8 0 86 0-129 1 2 0 6 0 1 0 10 0 7 0 8 0 45 0 26 0 80 0 37 0-234 1 38 0 30 0 26 0 26 0 3 0 15 0-137 1 12 0 2 0 46 0 52 0-112 1 34 0 46 0 54 0-145 1 1 0 33 0 33 0 7 0 64 0-137 1 6 0 1 0 18 0 85 0 14 0 31 0 59 0 59 0-279 1 9 0 8 0 2 0 4 0 21 0 1 0 17 0 20 0 54 0 38 0 58 0 9 0-223 1 6 0 23 0 108 0 41 0 11 0-213 1 4 0 19 0 38 0 30 0 49 0 137 0-275 1 2 0 8 0 16 0 29 0 26 0 15 0 91 0 19 0-206 1 22 0 2 0 33 0 13 0 15 0 196 0-271 1 1 0 3 0 20 0 125 0 17 0 27 0-151 1 2 0 3 0 24 0 146 0-206 1 4 0 10 0 2 0 16 0 6 0 24 0 5 0 22 0 24 0 12 0 62 0 25 0-209 1 12 0 32 0 2 0 29 0 13 0 23 0 100 0 14 0 12 0-262 1 24 0 1 0 6 0 30 0 12 0 16 0 127 0 65 0-246 1 8 0 6 0 11 0 8 0 19 0 2 0 18 0 3 0 76 0 15 0-201 1 14 0 3 0 34 0 31 0 17 0 92 0-196 1 27 0 4 0 8 0 3 0 41 0 73 0-148 1 25 0 9 0 4 0 12 0 2 0 7 0 1 0 9 0 10 0 7 0 16 0 18 0 59 0 1 0 6 0 22 0 82 0-255 1 2 0 2 0 21 0 52 0 40 0 80 0 67 0-285 1 15 0 22 0-41 1 5 0 10 0 0 0 27 0 9 0 13 0 11 0 26 0 94 0-202 1 23 0 15 0 10 0 0 0 14 0 5 0 25 0 4 0 13 0 25 0 25 0 107 0-259 1 1 0 14 0 9 0 0 0 13 0 190 0 86 0-322 1 10 0 17 0 8 0 92 0 31 0-160 1 5 0 0 0 1 0 3 0 31 0 13 0 1 0 13 0 15 0 4 0 34 0 12 0-130 1 7 0 10 0 17 0 50 0 5 0 4 0 100 0 2 0 8 0 1 0-182 1 13 0 3 0 0 0 21 0 1 0 18 0 24 0 37 0 5 0 21 0 3 0 55 0-194 1 4 0 2 0 13 0 17 0 14 0 135 0 17 0 8 0-240 1 33 0 3 0 4 0 35 0 7 0 17 0 17 0 16 0 66 0 45 0 30 0-265 1 18 0 0 0 27 0 49 0 346 0 11 0-429 1 5 0 8 0 4 0 31 0 8 0 114 0 32 0 13 0 19 0-237 1 15 0 2 0 36 0 62 0 3 0 36 0-166 1 3 0 13 0 9 0 14 0 4 0 40 0 35 0 189 0-309 1 2 0 42 0 7 0-47 1 3 0 7 0 61 0 16 0 30 0 37 0 29 0 30 0 49 0-267 1 8 0 6 0 10 0 9 0 4 0 15 0 24 0 1 0 16 0 2 0 35 0 28 0 36 0-203 1 9 0 8 0 2 0 5 0 8 0 17 0 30 0 31 0 202 0-310 1 21 0 2 0 38 0 25 0 32 0 29 0 20 0 2 0 7 0 114 0-289 1 4 0 9 0 19 0 5 0 0 0 5 0 2 0 118 0 29 0 4 0 30 0-226 1 14 0 21 0 61 0 34 0 23 0-134 1 6 0 22 0 25 0 4 0 157 0-234 1 3 0 13 0 30 0 7 0 24 0 6 0 31 0 10 0 72 0 32 0 4 0 35 0-238 1 5 0 0 0 28 0 20 0 1 0 4 0 39 0 194 0-321 1 4 0 22 0 27 0 1 0 7 0 2 0 48 0 102 0 47 0-243 1 35 0 9 0 5 0 84 0 71 0-199 1 2 0 10 0 7 0 5 0 0 0 8 0 12 0 13 0 16 0 66 0 16 0 158 0-279 1 54 0 32 0 2 0 47 0 42 0 1 0 10 0 44 0-263 1 3 0 14 0 9 0 19 0 142 0 2 0-201 1 17 0 38 0 87 0 33 0 19 0 17 0 109 0-311 1 5 0 6 0 1 0 20 0 61 0 1 0 3 0 9 0 7 0 6 0 2 0 4 0 35 0 3 0 3 0 42 0 44 0 27 0-283 1 6 0 1 0 38 0 18 0 20 0 13 0 37 0-134 1 21 0 8 0 11 0 68 0 10 0 0 0 13 0-100 1 17 0 14 0 8 0 2 0 38 0 17 0 52 0 22 0 30 0-217 1 24 0 8 0 93 0-120 1 23 0 2 0 12 0 1 0 1 0 11 0-71 1 8 0 1 0 13 0 15 0 6 0 9 0 7 0 25 0 1 0 18 0 0 0 65 0-169 1 21 0 16 0 6 0 7 0 99 0 13 0 131 0-293 1 0 0 17 0 6 0 1 0 25 0 7 0 14 0 10 0 12 0 20 0 117 0-199 1 1 0 18 0 2 0 29 0 22 0 23 0 1 0 45 0 53 0 17 0-235 1 2 0 4 0 41 0 6 0 68 0 74 0 17 0-208 1 0 0 21 0 43 0 67 0 64 0-211 1 46 0 13 0 12 0 4 0 106 0 58 0-221 1 9 0 1 0 17 0 7 0 5 0 5 0 21 0 30 0 46 0 68 0-213 1 5 0 10 0 1 0 1 0 17 0 6 0 4 0 13 0 20 0 1 0 4 0 22 0 58 0 32 0 45 0 39 0-273 1 10 0 3 0 8 0 2 0 50 0 64 0 7 0 34 0 120 0-312 1 14 0 13 0 5 0 11 0 3 0 103 0 12 0 16 0-167 1 1 0 14 0 5 0 2 0 3 0 26 0 1 0 10 0 12 0 21 0 7 0 26 0 48 0 16 0 7 0 6 0 6 0 168 0 59 0-430 1 6 0 42 0 2 0 9 0 4 0 53 0 1 0 9 0-92 1 15 0 5 0 13 0 31 0 30 0 58 0 12 0-198 1 7 0 6 0 23 0 0 0 107 0 47 0-190 1 6 0 4 0 18 0 12 0 9 0-62 1 5 0 9 0 17 0 8 0 19 0 4 0 17 0 10 0 22 0 65 0 27 0 122 0 121 0-446 1 64 0 48 0 49 0 42 0 16 0-117 1 12 0 19 0 11 0 1 0 87 0-215 1 11 0 40 0 36 0 33 0-126 1 9 0 7 0 18 0 9 0 27 0 42 0 17 0 14 0 9 0-138 1 16 0 2 0 5 0 26 0 4 0 0 0 30 0 13 0 6 0 18 0 55 0 30 0 24 0-229 1 26 0 27 0 17 0 37 0 47 0 16 0 114 0-305 1 14 0 6 0 4 0 4 0 6 0 51 0 3 0 0 0 122 0-211 1 29 0 4 0 85 0 3 0 55 0 22 0 2 0 9 0-195 1 8 0 38 0 1 0 8 0 7 0 10 0 208 0-291 1 37 0 7 0 13 0 4 0 6 0 2 0 16 0 22 0 110 0 74 0-290 1 12 0 9 0 26 0 41 0 64 0 24 0 2 0 22 0 74 0-276 1 9 0 56 0 50 0 4 0 46 0 4 0 95 0-237 1 0 0 18 0 4 0 7 0 37 0 12 0 5 0 32 0 6 0 13 0 48 0-180 1 4 0 1 0 3 0 7 0 6 0 36 0 4 0 4 0 19 0 107 0 47 0-241 1 4 0 20 0 0 0 11 0 8 0 184 0-231 1 11 0 1 0 8 0 59 0 4 0 31 0 223 0-357 1 12 0 25 0 7 0 20 0 25 0 112 0 13 0 19 0 12 0 48 0-293 1 19 0 5 0 1 0 6 0 23 0 32 0 2 0 12 0 78 0 11 0 6 0 7 0 2 0 7 0-191 1 13 0 21 0 3 0 24 0 4 0 11 0 36 0 10 0 140 0-244 1 37 0 2 0 9 0 31 0 62 0 17 0 16 0-180 1 7 0 40 0 77 0 19 0 35 0 4 0 49 0 57 0-269 1 120 0 28 0 111 0-297 1 10 0 10 0 6 0 5 0 5 0 21 0 1 0 70 0 1 0 17 0 32 0 8 0 34 0-205 1 30 0 33 0 6 0 56 0 26 0 4 0 46 0 58 0 23 0-280 1 3 0 12 0 9 0 42 0 47 0 84 0 23 0-251 1 17 0 41 0 2 0 37 0 19 0 84 0 77 0 13 0-289 1 15 0 10 0 0 0 9 0 3 0 54 0 18 0 22 0 21 0 2 0 57 0 38 0-239 1 28 0 70 0 34 0 6 0 22 0 21 0 11 0-158 1 1 0 4 0 3 0 5 0 5 0 14 0 26 0 5 0 14 0 53 0-164 1 35 0 1 0 17 0 1 0 4 0 11 0 63 0 2 0 103 0 117 0 9 0-354 1 8 0 1 0 9 0 48 0 2 0 22 0 3 0 24 0 2 0 34 0 47 0 6 0-216 1 4 0 9 0 20 0 3 0 3 0 19 0 2 0 34 0 7 0 59 0 27 0 41 0 53 0-260 1 2 0 6 0 15 0 50 0 43 0 9 0 25 0 16 0 33 0 11 0 21 0 97 0-331 1 22 0 2 0 2 0 21 0 37 0 4 0 5 0 22 0 21 0 22 0 173 0-327 1 4 0 4 0 37 0 47 0 5 0 14 0 31 0 9 0 110 0-273 1 10 0 2 0 34 0 12 0 13 0 0 0 65 0-144 1 8 0 9 0 5 0 19 0 28 0 5 0 31 0 21 0 24 0 15 0 18 0-167 1 30 0 2 0 13 0 18 0 23 0 3 0 21 0 7 0 19 0 31 0 36 0-199 1 8 0 30 0 4 0 25 0 17 0 5 0 13 0 62 0 23 0 245 0-407 1 40 0 17 0 5 0 18 0 5 0 54 0 4 0 13 0 49 0 52 0 35 0-215 1 17 0 26 0 20 0 17 0 26 0-193 1 16 0 57 0 9 0 13 0 6 0 64 0 17 0 256 0-444 1 2 0 2 0 1 0 0 0 11 0 3 0 13 0 7 0 20 0 4 0 10 0 15 0 6 0 7 0 13 0-108 1 27 0 73 0 25 0 6 0 135 0-274 1 25 0 5 0 30 0 39 0 13 0 50 0 49 0 18 0-219 1 32 0 43 0-85 1 4 0 22 0 36 0 28 0 43 0 49 0 28 0-233 1 16 0 47 0 6 0 3 0 6 0 9 0 3 0 19 0 1 0 33 0 73 0-216 1 1 0 19 0 2 0 5 0 6 0 19 0 36 0 44 0 0 0 55 0 32 0 54 0-273 1 42 0 22 0 21 0 9 0 25 0 0 0 7 0 56 0 74 0 38 0 37 0-270 1 20 0 9 0 4 0 2 0 14 0 13 0 56 0-127 1 4 0 7 0 15 0 8 0 11 0 13 0 8 0 7 0 16 0 10 0 3 0 23 0 37 0 14 0 35 0-193 1 1 0 5 0 10 0 27 0 6 0 5 0 80 0 7 0 106 0-283 1 40 0 28 0 131 0-193 1 7 0 12 0 10 0 17 0 4 0 8 0 9 0 38 0 6 0 72 0 11 0 61 0-278 1 0 0 47 0 13 0 13 0 14 0 6 0 7 0 12 0 37 0 14 0 126 0-290 1 11 0 10 0 1 0 10 0 28 0 13 0 9 0 30 0 20 0 43 0-159 1 1 0 11 0 59 0 13 0 25 0 26 0 17 0 100 0 34 0-289 1 14 0 5 0 19 0 3 0 25 0 22 0 30 0 24 0 18 0 29 0 8 0 40 0-249 1 14 0 1 0 10 0 7 0 25 0 3 0 55 0 14 0 24 0 4 0 49 0-207 1 1 0 10 0 5 0 23 0 4 0 75 0 9 0 22 0 32 0 20 0 15 0-218 1 2 0 6 0 11 0 23 0 6 0 1 0 5 0 13 0 93 0 2 0 6 0 19 0 14 0-195 1 4 0 7 0 15 0 13 0 11 0 4 0 1 0 4 0 1 0 13 0 9 0 51 0 10 0 11 0-129 1 62 0 12 0 4 0-119 1 29 0 9 0 91 0 42 0 123 0-286 1 2 0 4 0 7 0 5 0 2 0 11 0 3 0 33 0 20 0 17 0 27 0 38 0 36 0 3 0-204 1 15 0 7 0 5 0 0 0 23 0 20 0 29 0 30 0 35 0-155 1 15 0 17 0 75 0 3 0 24 0 87 0-218 1 7 0 16 0 3 0 76 0 17 0 14 0 158 0-303 1 9 0 3 0 1 0 62 0 79 0 15 0 60 0-192 1 30 0 83 0 4 0 25 0 84 0 71 0-311 1 10 0 52 0 5 0 26 0 42 0 5 0 135 0-290 1 2 0 24 0 31 0 3 0 5 0 6 0 4 0 9 0 33 0 121 0-239 1 24 0 3 0 55 0 14 0 16 0 3 0 4 0 20 0 6 0 53 0-208 1 6 0 7 0 11 0 10 0 5 0 5 0 4 0 23 0 2 0 10 0 12 0 0 0 5 0 21 0 68 0-182 1 15 0 34 0 18 0 17 0 106 0 7 0 44 0 5 0 2 0 1 0 56 0 67 0 34 0 9 0 43 0 3 0-265 1 0 0 2 0 7 0 12 0 9 0 8 0 5 0 5 0 7 0 15 0 1 0 7 0 28 0 2 0 50 0 64 0 27 0-274 1 4 0 37 0 4 0 3 0 71 0 25 0 70 0 16 0 39 0 44 0-301 1 1 0 10 0 18 0 9 0 80 0 0 0 20 0 1 0 20 0 91 0 37 0-290 1 2 0 21 0 2 0 40 0 37 0 58 0 7 0 101 0-235 1 6 0 15 0 3 0 22 0 9 0 12 0 12 0 39 0 10 0 13 0 27 0 41 0 2 0-191 1 37 0 153 0 1 0 18 0-279 1 13 0 39 0 8 0 7 0 94 0 68 0 68 0-290 1 27 0 6 0 15 0 4 0 22 0 16 0 19 0 14 0 44 0 37 0 19 0 11 0 33 0 1 0 40 0-309 1 40 0 17 0 6 0 21 0 2 0 26 0 27 0 2 0 13 0 6 0 23 0 34 0 7 0 26 0 29 0 14 0 9 0 8 0-297 1 16 0 9 0 5 0 30 0 3 0 26 0 28 0 64 0 34 0 1 0 15 0 55 0 20 0-330 1 23 0 27 0 12 0 7 0 10 0 0 0 19 0 4 0 56 0 42 0 32 0 17 0 7 0-256 1 24 0 18 0 16 0 10 0 8 0 13 0 21 0 2 0 61 0 21 0 23 0 19 0 15 0 13 0 24 0 1 0 5 0-256 1 23 0 0 0 7 0 4 0 33 0 61 0 71 0 31 0 22 0-286 1 22 0 16 0 16 0 68 0 1 0 56 0 10 0 100 0 18 0-297 1 34 0 36 0 13 0 5 0 12 0 22 0 9 0 19 0 48 0 12 0 21 0 9 0-232 1 14 0 5 0 12 0 21 0 31 0 6 0 14 0 35 0 7 0 57 0 5 0 66 0-271 1 24 0 18 0 28 0 58 0 3 0 23 0 29 0 57 0-226 1 2 0 1 0 18 0 1 0 2 0 24 0 0 0 13 0 18 0 34 0 6 0 0 0 72 0 21 0 24 0 23 0-254 1 2 0 21 0 4 0 39 0 63 0 50 0 32 0 71 0-284 1 8 0 14 0 3 0 48 0 21 0 11 0 16 0 2 0 66 0 22 0 2 0-196 1 14 0 6 0 181 0 1 0 51 0-280 1 20 0 23 0 0 0 27 0 37 0 31 0 19 0 16 0 5 0 125 0-301 1 9 0 18 0 14 0 24 0 3 0 8 0 3 0 4 0 10 0 49 0 9 0 5 0 8 0 3 0 8 0 20 0 45 0-245 1 17 0 31 0 9 0 1 0 1 0 5 0 1 0 1 0 16 0 65 0 53 0 5 0 8 0 8 0 11 0 24 0 39 0 4 0 4 0-293 1 19 0 28 0 43 0 13 0 4 0 6 0 12 0 6 0 55 0 87 0-263 1 43 0 30 0 11 0 1 0 51 0 2 0 32 0 8 0 6 0 73 0-246 1 18 0 37 0 1 0 13 0 11 0 19 0 27 0 22 0 45 0 21 0 9 0 32 0-289 1 5 0 12 0 32 0 61 0 42 0 10 0 13 0 34 0 1 0 13 0 49 0-235 1 3 0 8 0 8 0 10 0 6 0 5 0 2 0 18 0 17 0 37 0 17 0 35 0 45 0 47 0-269 1 10 0 7 0 2 0 14 0 33 0 5 0 16 0 52 0 28 0 85 0 21 0-265 1 38 0 1 0 4 0 30 0 3 0 11 0 24 0 5 0 47 0 42 0 53 0 15 0-253 1 3 0 4 0 71 0 37 0 48 0 41 0 7 0 1 0-232 1 6 0 4 0 37 0 28 0 61 0 36 0 41 0 24 0 31 0-269 1 3 0 4 0 7 0 12 0 11 0 5 0 22 0 1 0 54 0 9 0 29 0 20 0 49 0 22 0-251 1 22 0 1 0 4 0 6 0 7 0 1 0 1 0 2 0 4 0 2 0 0 0 2 0 22 0 4 0 6 0 7 0 5 0 49 0 19 0 1 0 15 0 5 0 35 0 32 0-277 1 14 0 27 0 21 0 15 0 7 0 5 0 7 0 3 0 4 0 7 0 5 0 67 0 14 0 3 0 0 0 8 0 17 0 6 0 43 0 7 0-204 1 43 0 19 0 2 0 20 0 7 0 8 0 7 0 31 0 2 0 51 0 21 0-301 1 59 0 21 0 36 0 2 0 25 0 39 0 7 0 26 0 8 0 21 0 33 0 7 0 19 0-303 1 5 0 21 0 6 0 13 0 2 0 47 0 71 0 1 0 2 0 72 0 27 0-250 1 19 0 23 0 4 0 1 0 15 0 9 0 20 0 5 0 21 0 12 0 2 0 18 0 3 0 6 0 53 0 12 0 6 0 6 0 22 0 29 0-271 1 14 0 18 0 43 0 11 0 27 0 9 0 28 0 13 0 7 0 5 0 1 0 4 0 20 0 4 0 54 0-257 1 1 0 1 0 6 0 19 0 18 0 0 0 40 0 19 0 40 0 20 0 33 0 57 0 7 0 12 0 6 0-300 1 1 0 60 0 26 0 4 0 20 0 64 0 9 0 58 0-206 1 1 0 10 0 4 0 1 0 9 0 2 0 4 0 5 0 0 0 25 0 9 0 3 0 4 0 7 0 19 0 23 0 0 0 1 0 39 0 27 0 18 0 31 0-230 1 22 0 4 0 16 0 16 0 5 0 4 0 23 0 45 0 22 0 41 0 4 0-205 1 20 0 14 0 6 0 9 0 8 0 10 0 0 0 3 0 12 0 36 0 3 0 14 0 5 0 14 0 17 0 15 0 14 0 10 0 3 0 28 0 21 0-290 1 26 0 49 0 1 0 14 0 45 0 34 0 3 0 7 0 48 0 55 0-278 1 28 0 41 0 6 0 1 0 3 0 17 0 3 0 27 0 3 0 5 0 25 0 0 0 22 0 1 0 7 0 18 0 1 0 19 0 13 0 16 0 11 0 8 0 1 0-259 1 29 0 4 0 42 0 1 0 30 0 38 0 18 0 2 0 2 0 58 0 24 0 18 0-208 1 4 0 8 0 2 0 9 0 14 0 18 0 1 0 32 0 27 0 8 0 30 0 18 0 3 0-255 1 14 0 0 0 49 0 1 0 7 0 6 0 2 0 8 0 5 0 3 0 18 0 44 0 7 0 16 0 48 0 40 0-248 1 14 0 5 0 41 0 5 0 17 0 5 0 1 0 2 0 14 0 2 0 21 0 1 0 38 0 2 0 13 0 27 0 9 0 26 0 15 0-275 1 14 0 5 0 0 0 9 0 15 0 1 0 5 0 32 0 17 0 10 0 12 0 11 0 27 0 5 0 15 0 44 0 8 0 24 0 24 0-268 1 31 0 7 0 10 0 22 0 0 0 5 0 0 0 21 0 6 0 16 0 3 0 6 0 48 0 1 0 24 0 12 0 17 0 2 0 47 0-256 1 7 0 25 0 31 0 14 0 41 0 32 0 21 0 1 0 2 0 3 0 11 0 1 0 26 0 18 0 4 0-262 1 20 0 32 0 24 0 20 0 10 0 17 0 10 0 16 0 1 0 13 0 1 0 9 0 20 0 10 0 2 0 3 0 9 0 4 0 20 0 6 0-227 1 8 0 8 0 6 0 7 0 2 0 2 0 4 0 5 0 33 0 1 0 2 0 1 0 90 0 26 0 12 0 14 0 11 0 8 0 11 0 1 0-270 1 6 0 31 0 40 0 46 0 52 0 3 0 17 0 0 0 25 0 15 0 37 0 6 0-293 1 1 0 23 0 4 0 19 0 1 0 23 0 9 0 4 0 5 0 0 0 11 0 7 0 0 0 1 0 20 0 46 0 33 0 3 0 3 0 30 0 11 0 1 0 10 0 10 0 1 0 3 0-284 1 28 0 56 0 27 0 2 0 65 0 17 0 15 0 7 0 7 0 1 0 1 0 41 0 13 0 0 0-260 1 2 0 8 0 6 0 1 0 12 0 7 0 10 0 5 0 22 0 16 0 6 0 2 0 32 0 39 0 8 0 1 0 19 0 20 0 3 0 1 0 22 0 24 0-238 1 21 0 28 0 33 0 35 0 115 0 17 1-19 1 13 0 2 1-6 1 13 0-5 2" fill="none" marker-start="url(#q)" marker-mid="url(#q)" marker-end="url(#q)"/>
<path d="M223.5 978.5H536.7M538.6 978.5H547.9M555.0 978.5H569.1M574.0 978.5H589.6M596.0 978.5H600.8M605.7 978.5H613.9M623.2 978.5H628.8M633.3 978.5H651.2M658.6 978.5H663.5M713.4 978.5H718.3M756.7 978.5H761.5" stroke="#bebebe" stroke-width="4.4" fill="none"/>
<polyline points="225.6,1327.9 225.6,1328.0 225.6,1328.3 225.6,1328.8 225.7,1329.4 225.7,1330.3 225.7,1331.3 225.8,1332.4 225.8,1333.8 225.9,1335.3 226.0,1337.0 226.1,1338.8 226.1,1340.8 226.2,1342.9 226.3,1345.2 226.4,1347.5 226.6,1350.0 226.7,1352.6 226.8,1355.3 227.0,1358.1 227.1,1361.0 227.3,1364.0 227.4,1367.0 227.6,1370.1 227.8,1373.3 228.0,1376.5 228.2,1379.8 228.4,1383.0 228.6,1386.4 228.8,1389.7 229.0,1393.1 229.2,1396.4 229.5,1399.8 229.7,1403.2 230.0,1406.5 230.2,1409.9 230.5,1413.2 230.8,1416.6 231.0,1419.9 231.3,1423.2 231.6,1426.4 231.9,1429.6 232.3,1432.8 232.6,1436.0 232.9,1439.1 233.2,1442.2 233.6,1445.3 233.9,1448.3 234.3,1451.3 234.7,1454.2 235.0,1457.1 235.4,1459.9 235.8,1462.7 236.2,1465.4 236.6,1468.1 237.0,1470.8 237.4,1473.4 237.9,1475.9 238.3,1478.4 238.7,1480.9 239.2,1483.3 239.6,1485.7 240.1,1488.0 240.6,1490.3 241.1,1492.6 241.5,1494.8 242.0,1496.9 242.5,1499.0 243.0,1501.1 243.6,1503.1 244.1,1505.1 244.6,1507.1 245.2,1509.0 245.7,1510.8 246.3,1512.7 246.8,1514.5 247.4,1516.2 248.0,1517.9 248.6,1519.6 249.2,1521.3 249.8,1522.9 250.4,1524.5 251.0,1526.0 251.6,1527.5 252.2,1529.0 252.9,1530.5 253.5,1531.9 254.2,1533.3 254.8,1534.6 255.5,1536.0 256.2,1537.3 256.8,1538.6 257.5,1539.8 258.2,1541.1 258.9,1542.3 259.7,1543.5 260.4,1544.6 261.1,1545.7 261.8,1546.9 262.6,1547.9 263.3,1549.0 264.1,1550.1 264.9,1551.1 265.6,1552.1 266.4,1553.1 267.2,1554.0 268.0,1555.0 268.8,1555.9 269.6,1556.8 270.4,1557.7 271.3,1558.6 272.1,1559.5 272.9,1560.3 273.8,1561.1 274.6,1561.9 275.5,1562.7 276.4,1563.5 277.3,1564.3 278.1,1565.0 279.0,1565.8 279.9,1566.5 280.8,1567.2 281.8,1567.9 282.7,1568.6 283.6,1569.2 284.6,1569.9 285.5,1570.6 286.5,1571.2 287.4,1571.8 288.4,1572.4 289.4,1573.0 290.4,1573.6 291.3,1574.2 292.3,1574.8 293.4,1575.3 294.4,1575.9 295.4,1576.4 296.4,1577.0 297.5,1577.5 298.5,1578.0 299.6,1578.5 300.6,1579.0 301.7,1579.5 302.8,1580.0 303.8,1580.4 304.9,1580.9 306.0,1581.3 307.1,1581.8 308.3,1582.2 309.4,1582.7 310.5,1583.1 311.6,1583.5 312.8,1583.9 313.9,1584.3 315.1,1584.7 316.3,1585.1 317.4,1585.5 318.6,1585.9 319.8,1586.3 321.0,1586.6 322.2,1587.0 323.4,1587.4 324.6,1587.7 325.9,1588.1 327.1,1588.4 328.3,1588.7 329.6,1589.1 330.8,1589.4 332.1,1589.7 333.4,1590.0 334.7,1590.3 335.9,1590.7 337.2,1591.0 338.5,1591.3 339.8,1591.5 341.2,1591.8 342.5,1592.1 343.8,1592.4 345.2,1592.7 346.5,1593.0 347.9,1593.2 349.2,1593.5 350.6,1593.7 352.0,1594.0 353.4,1594.3 354.7,1594.5 356.1,1594.8 357.6,1595.0 359.0,1595.2 360.4,1595.5 361.8,1595.7 363.3,1595.9 364.7,1596.2 366.2,1596.4 367.6,1596.6 369.1,1596.8 370.6,1597.0 372.0,1597.3 373.5,1597.5 375.0,1597.7 376.5,1597.9 378.1,1598.1 379.6,1598.3 381.1,1598.5 382.6,1598.7 384.2,1598.9 385.7,1599.0 387.3,1599.2 388.9,1599.4 390.4,1599.6 392.0,1599.8 393.6,1599.9 395.2,1600.1 396.8,1600.3 398.4,1600.5 400.0,1600.6 401.7,1600.8 403.3,1601.0 404.9,1601.1 406.6,1601.3 408.2,1601.4 409.9,1601.6 411.6,1601.8 413.3,1601.9 414.9,1602.1 416.6,1602.2 418.3,1602.3 420.0,1602.5 421.8,1602.6 423.5,1602.8 425.2,1602.9 427.0,1603.1 428.7,1603.2 430.5,1603.3 432.2,1603.5 434.0,1603.6 435.8,1603.7 437.6,1603.9 439.3,1604.0 441.1,1604.1 443.0,1604.2 444.8,1604.4 446.6,1604.5 448.4,1604.6 450.3,1604.7 452.1,1604.8 454.0,1604.9 455.8,1605.1 457.7,1605.2 459.6,1605.3 461.4,1605.4 463.3,1605.5 465.2,1605.6 467.1,1605.7 469.0,1605.8 471.0,1605.9 472.9,1606.0 474.8,1606.1 476.8,1606.2 478.7,1606.3 480.7,1606.4 482.7,1606.5 484.6,1606.6 486.6,1606.7 488.6,1606.8 490.6,1606.9 492.6,1607.0 494.6,1607.1 496.6,1607.2 498.7,1607.3 500.7,1607.4 502.7,1607.5 504.8,1607.6 506.8,1607.6 508.9,1607.7 511.0,1607.8 513.0,1607.9 515.1,1608.0 517.2,1608.1 519.3,1608.2 521.4,1608.2 523.6,1608.3 525.7,1608.4 527.8,1608.5 530.0,1608.5 532.1,1608.6 534.3,1608.7 536.4,1608.8 538.6,1608.9 540.8,1608.9 542.9,1609.0 545.1,1609.1 547.3,1609.1 549.5,1609.2 551.8,1609.3 554.0,1609.4 556.2,1609.4 558.5,1609.5 560.7,1609.6 563.0,1609.6 565.2,1609.7 567.5,1609.8 569.8,1609.8 572.0,1609.9 574.3,1610.0 576.6,1610.0 578.9,1610.1 581.2,1610.1 583.6,1610.2 585.9,1610.3 588.2,1610.3 590.6,1610.4 592.9,1610.4 595.3,1610.5 597.6,1610.6 600.0,1610.6 602.4,1610.7 604.8,1610.7 607.2,1610.8 609.6,1610.9 612.0,1610.9 614.4,1611.0 616.8,1611.0 619.3,1611.1 621.7,1611.1 624.2,1611.2 626.6,1611.2 629.1,1611.3 631.6,1611.3 634.0,1611.4 636.5,1611.4 639.0,1611.5 641.5,1611.5 644.0,1611.6 646.6,1611.6 649.1,1611.7 651.6,1611.7 654.1,1611.8 656.7,1611.8 659.3,1611.9 661.8,1611.9 664.4,1612.0 667.0,1612.0 669.5,1612.1 672.1,1612.1 674.7,1612.1 677.3,1612.2 680.0,1612.2 682.6,1612.3 685.2,1612.3 687.9,1612.4 690.5,1612.4 693.1,1612.5 695.8,1612.5 698.5,1612.5 701.2,1612.6 703.8,1612.6 706.5,1612.7 709.2,1612.7 711.9,1612.7 714.6,1612.8 717.4,1612.8 720.1,1612.9 722.8,1612.9 725.6,1612.9 728.3,1613.0 731.1,1613.0 733.8,1613.0 736.6,1613.1 739.4,1613.1 742.2,1613.2 745.0,1613.2 747.8,1613.2 750.6,1613.3 753.4,1613.3 756.2,1613.3 759.1,1613.4 761.9,1613.4 764.8,1613.4 767.6,1613.5 770.5,1613.5 773.4,1613.5 776.2,1613.6 779.1,1613.6 782.0,1613.6 784.9,1613.7 787.8,1613.7 790.7,1613.7 793.7,1613.8 796.6,1613.8 799.5,1613.8 802.5,1613.9 805.4,1613.9 808.4,1613.9 811.4,1614.0 814.4,1614.0 817.3,1614.0 820.3,1614.0 823.3,1614.1 826.3,1614.1 829.4,1614.1" fill="none" stroke="#ff0000" stroke-width="6.2" stroke-linecap="round" stroke-linejoin="round"/>
<line x1="201.3" y1="1558.4" x2="853.8" y2="1558.4" stroke="#0000ff" stroke-width="2"/>
<line x1="237.8" y1="952.7" x2="237.8" y2="1648.6" stroke="#00ff00" stroke-width="2.6"/>
<rect x="201.3" y="952.7" width="652.5" height="695.9" fill="none" stroke="#000" stroke-width="2.4"/>
<line x1="225.6" y1="1648.6" x2="225.6" y2="1671.1" stroke="#000" stroke-width="2.4"/>
<line x1="337.2" y1="1648.6" x2="337.2" y2="1671.1" stroke="#000" stroke-width="2.4"/>
<line x1="448.8" y1="1648.6" x2="448.8" y2="1671.1" stroke="#000" stroke-width="2.4"/>
<line x1="560.4" y1="1648.6" x2="560.4" y2="1671.1" stroke="#000" stroke-width="2.4"/>
<line x1="672.0" y1="1648.6" x2="672.0" y2="1671.1" stroke="#000" stroke-width="2.4"/>
<line x1="783.6" y1="1648.6" x2="783.6" y2="1671.1" stroke="#000" stroke-width="2.4"/>
<text transform="translate(225.60,1727.60) scale(1.0000,1)" font-size="37.5" text-anchor="middle" fill="#000" font-weight="normal" font-family="'TeX Gyre Heros', 'Liberation Sans', Arial, sans-serif">0</text>
<text transform="translate(337.20,1727.60) scale(1.0000,1)" font-size="37.5" text-anchor="middle" fill="#000" font-weight="normal" font-family="'TeX Gyre Heros', 'Liberation Sans', Arial, sans-serif">50</text>
<text transform="translate(448.80,1727.60) scale(1.0000,1)" font-size="37.5" text-anchor="middle" fill="#000" font-weight="normal" font-family="'TeX Gyre Heros', 'Liberation Sans', Arial, sans-serif">100</text>
<text transform="translate(560.40,1727.60) scale(1.0000,1)" font-size="37.5" text-anchor="middle" fill="#000" font-weight="normal" font-family="'TeX Gyre Heros', 'Liberation Sans', Arial, sans-serif">150</text>
<text transform="translate(672.00,1727.60) scale(1.0000,1)" font-size="37.5" text-anchor="middle" fill="#000" font-weight="normal" font-family="'TeX Gyre Heros', 'Liberation Sans', Arial, sans-serif">200</text>
<text transform="translate(783.60,1727.60) scale(1.0000,1)" font-size="37.5" text-anchor="middle" fill="#000" font-weight="normal" font-family="'TeX Gyre Heros', 'Liberation Sans', Arial, sans-serif">250</text>
<line x1="177.9" y1="1622.8" x2="201.3" y2="1622.8" stroke="#000" stroke-width="2.4"/>
<text transform="translate(149.30,1622.80) rotate(-90) scale(1.0000,1)" font-size="37.5" text-anchor="middle" fill="#000" font-weight="normal" font-family="'TeX Gyre Heros', 'Liberation Sans', Arial, sans-serif">0.0</text>
<line x1="177.9" y1="1493.9" x2="201.3" y2="1493.9" stroke="#000" stroke-width="2.4"/>
<text transform="translate(149.30,1493.94) rotate(-90) scale(1.0000,1)" font-size="37.5" text-anchor="middle" fill="#000" font-weight="normal" font-family="'TeX Gyre Heros', 'Liberation Sans', Arial, sans-serif">0.2</text>
<line x1="177.9" y1="1365.1" x2="201.3" y2="1365.1" stroke="#000" stroke-width="2.4"/>
<text transform="translate(149.30,1365.08) rotate(-90) scale(1.0000,1)" font-size="37.5" text-anchor="middle" fill="#000" font-weight="normal" font-family="'TeX Gyre Heros', 'Liberation Sans', Arial, sans-serif">0.4</text>
<line x1="177.9" y1="1236.2" x2="201.3" y2="1236.2" stroke="#000" stroke-width="2.4"/>
<text transform="translate(149.30,1236.22) rotate(-90) scale(1.0000,1)" font-size="37.5" text-anchor="middle" fill="#000" font-weight="normal" font-family="'TeX Gyre Heros', 'Liberation Sans', Arial, sans-serif">0.6</text>
<line x1="177.9" y1="1107.4" x2="201.3" y2="1107.4" stroke="#000" stroke-width="2.4"/>
<text transform="translate(149.30,1107.36) rotate(-90) scale(1.0000,1)" font-size="37.5" text-anchor="middle" fill="#000" font-weight="normal" font-family="'TeX Gyre Heros', 'Liberation Sans', Arial, sans-serif">0.8</text>
<line x1="177.9" y1="978.5" x2="201.3" y2="978.5" stroke="#000" stroke-width="2.4"/>
<text transform="translate(149.30,978.50) rotate(-90) scale(1.0000,1)" font-size="37.5" text-anchor="middle" fill="#000" font-weight="normal" font-family="'TeX Gyre Heros', 'Liberation Sans', Arial, sans-serif">1.0</text>
<text transform="translate(237.26,1686.40) scale(0.9500,1)" font-size="28.5" text-anchor="middle" fill="#00ff00" font-weight="normal" font-family="'TeX Gyre Heros', 'Liberation Sans', Arial, sans-serif">5.45</text>
<text transform="translate(527.60,1800.60) scale(1.0000,1)" font-size="37.5" text-anchor="middle" fill="#000" font-weight="normal" font-family="'TeX Gyre Heros', 'Liberation Sans', Arial, sans-serif">Distance(Mb)</text>
<text transform="translate(51.10,1300.65) rotate(-90) scale(1.0,1)" font-size="37.5" text-anchor="middle" font-family="'TeX Gyre Heros', 'Liberation Sans', Arial, sans-serif">LD <tspan font-size="42.0">(</tspan>r<tspan font-size="26" dy="-17.5">2</tspan><tspan dy="17.5" font-size="42.0">)</tspan></text>
<text transform="translate(3.10,1792.00) scale(1.05,1)" font-size="51" font-weight="bold" font-family="Carlito, 'Liberation Sans', sans-serif">(c)</text>
<path d="M1133 992h60M1195 992h4M1203 992h4M1211 992h4M1219 992h8M1231 992h2M1237 992h2M1243 992h8M1253 992h8M1269 992h4M1275 992h4M1283 992h2M1289 992h6M1307 992h2M1313 992h2M1317 992h6M1327 992h2M1331 992h4M1345 992h2M1351 992h2M1375 992h6M1385 992h2M1389 992h2M1399 992h4M1413 992h8M1423 992h2M1427 992h2M1431 992h2M1435 992h2M1439 992h2M1443 992h2M1447 992h4M1463 992h2M1133 994h64M1199 994h4M1205 994h4M1211 994h6M1221 994h2M1225 994h2M1229 994h4M1239 994h4M1247 994h4M1255 994h2M1261 994h8M1271 994h2M1279 994h2M1287 994h2M1291 994h2M1297 994h2M1307 994h8M1317 994h4M1335 994h4M1343 994h2M1347 994h2M1359 994h2M1367 994h6M1375 994h2M1383 994h2M1391 994h8M1403 994h2M1407 994h2M1425 994h2M1429 994h16M1447 994h10M1461 994h2M1465 994h4M1133 996h64M1199 996h2M1203 996h2M1213 996h6M1225 996h2M1229 996h2M1233 996h2M1241 996h4M1249 996h2M1255 996h2M1261 996h2M1265 996h2M1271 996h2M1275 996h2M1281 996h4M1289 996h4M1295 996h10M1307 996h2M1311 996h6M1319 996h2M1323 996h4M1331 996h2M1337 996h2M1349 996h2M1355 996h2M1359 996h4M1375 996h6M1383 996h4M1389 996h2M1397 996h2M1407 996h2M1413 996h2M1417 996h2M1437 996h6M1445 996h2M1451 996h2M1459 996h6M1467 996h2M1133 998h66M1203 998h2M1207 998h2M1211 998h2M1215 998h2M1219 998h2M1229 998h2M1235 998h2M1239 998h4M1251 998h4M1259 998h2M1265 998h2M1269 998h6M1279 998h2M1287 998h2M1291 998h4M1299 998h4M1307 998h2M1311 998h2M1315 998h4M1327 998h4M1337 998h8M1351 998h2M1361 998h6M1373 998h2M1379 998h12M1393 998h2M1397 998h2M1403 998h2M1407 998h4M1413 998h2M1417 998h2M1421 998h4M1433 998h2M1437 998h2M1443 998h6M1453 998h10M1133 1000h64M1199 1000h2M1213 1000h6M1225 1000h4M1233 1000h6M1241 1000h4M1247 1000h4M1257 1000h2M1263 1000h4M1273 1000h2M1277 1000h6M1297 1000h2M1303 1000h2M1309 1000h6M1317 1000h4M1325 1000h2M1331 1000h2M1345 1000h4M1353 1000h2M1357 1000h2M1361 1000h4M1373 1000h4M1389 1000h4M1395 1000h8M1405 1000h2M1409 1000h4M1415 1000h2M1423 1000h8M1437 1000h2M1445 1000h2M1459 1000h2M1463 1000h4M1133 1002h62M1197 1002h6M1215 1002h4M1223 1002h2M1233 1002h6M1241 1002h6M1249 1002h2M1255 1002h2M1267 1002h2M1271 1002h4M1279 1002h2M1283 1002h4M1291 1002h2M1299 1002h2M1305 1002h6M1315 1002h2M1319 1002h4M1329 1002h2M1335 1002h4M1343 1002h2M1347 1002h10M1361 1002h2M1375 1002h8M1389 1002h2M1395 1002h2M1405 1002h2M1421 1002h2M1435 1002h18M1457 1002h2M1465 1002h2M1133 1004h62M1209 1004h4M1215 1004h2M1219 1004h8M1233 1004h2M1237 1004h4M1243 1004h2M1247 1004h8M1261 1004h2M1265 1004h8M1275 1004h2M1279 1004h4M1285 1004h2M1289 1004h2M1293 1004h4M1299 1004h2M1309 1004h2M1313 1004h6M1323 1004h4M1329 1004h8M1339 1004h2M1355 1004h4M1365 1004h2M1377 1004h2M1381 1004h2M1389 1004h2M1397 1004h2M1401 1004h8M1411 1004h2M1417 1004h4M1423 1004h4M1431 1004h2M1437 1004h4M1443 1004h8M1459 1004h2M1467 1004h2M1133 1006h64M1133 1008h62M1197 1008h2M1133 1010h64M1133 1012h64M1199 1012h2M1133 1014h68M1133 1016h62M1197 1016h4M1133 1018h64M1133 1020h64M1203 1020h2M1133 1022h62M1201 1022h4M1133 1024h68M1203 1024h2M1133 1026h64M1199 1026h4M1133 1028h62M1197 1028h2M1201 1028h2M1133 1030h62M1199 1030h4M1205 1030h2M1133 1032h70M1133 1034h62M1197 1034h4M1133 1036h70M1133 1038h64M1199 1038h2M1133 1040h68M1205 1040h2M1133 1042h66M1205 1042h2M1133 1044h74M1211 1044h2M1133 1046h62M1197 1046h4M1205 1046h4M1211 1046h2M1133 1048h74M1209 1048h2M1133 1050h68M1209 1050h2M1133 1052h64M1199 1052h8M1213 1052h2M1133 1054h66M1201 1054h2M1205 1054h2M1133 1056h72M1211 1056h2M1133 1058h74M1211 1058h4M1217 1058h2M1133 1060h64M1199 1060h12M1213 1060h2M1133 1062h74M1211 1062h2M1215 1062h2M1133 1064h76M1133 1066h72M1211 1066h2M1133 1068h74M1209 1068h6M1133 1070h72M1207 1070h4M1213 1070h2M1133 1072h72M1209 1072h2M1213 1072h4M1133 1074h70M1205 1074h2M1209 1074h4M1217 1074h2M1133 1076h80M1217 1076h2M1133 1078h80M1133 1080h78M1213 1080h2M1133 1082h74M1209 1082h2M1213 1082h2M1219 1082h2M1133 1084h68M1203 1084h10M1217 1084h6M1225 1084h2M1133 1086h74M1209 1086h4M1217 1086h2M1133 1088h78M1133 1090h74M1209 1090h2M1213 1090h4M1133 1092h84M1133 1094h80M1221 1094h4M1133 1096h76M1217 1096h2M1225 1096h2M1133 1098h76M1215 1098h2M1219 1098h2M1223 1098h4M1133 1100h72M1207 1100h4M1217 1100h2M1221 1100h2M1225 1100h4M1133 1102h80M1215 1102h4M1225 1102h2M1133 1104h72M1207 1104h2M1211 1104h10M1133 1106h74M1209 1106h2M1213 1106h2M1223 1106h2M1231 1106h2M1133 1108h82M1133 1110h74M1209 1110h4M1215 1110h6M1133 1112h74M1209 1112h12M1133 1114h76M1211 1114h4M1217 1114h2M1225 1114h2M1231 1114h2M1133 1116h72M1207 1116h2M1211 1116h2M1215 1116h2M1133 1118h76M1211 1118h2M1217 1118h6M1133 1120h78M1219 1120h2M1133 1122h74M1209 1122h12M1225 1122h2M1229 1122h2M1133 1124h76M1211 1124h8M1223 1124h2M1133 1126h84M1221 1126h2M1133 1128h92M1229 1128h2M1133 1130h84M1219 1130h14M1133 1132h76M1211 1132h12M1225 1132h2M1229 1132h2M1235 1132h2M1133 1134h84M1223 1134h2M1233 1134h2M1133 1136h88M1227 1136h4M1235 1136h2M1133 1138h78M1213 1138h6M1225 1138h8M1133 1140h78M1213 1140h4M1219 1140h2M1223 1140h2M1229 1140h2M1233 1140h6M1133 1142h84M1221 1142h4M1133 1144h88M1223 1144h2M1231 1144h2M1237 1144h2M1133 1146h94M1229 1146h2M1233 1146h2M1133 1148h84M1219 1148h8M1229 1148h8M1239 1148h2M1133 1150h96M1231 1150h2M1237 1150h2M1241 1150h2M1247 1150h2M1133 1152h90M1231 1152h6M1241 1152h2M1245 1152h4M1133 1154h84M1219 1154h4M1225 1154h4M1231 1154h4M1241 1154h4M1133 1156h90M1225 1156h2M1231 1156h6M1239 1156h2M1133 1158h94M1229 1158h6M1237 1158h2M1243 1158h2M1133 1160h98M1233 1160h4M1243 1160h4M1133 1162h92M1227 1162h2M1233 1162h6M1133 1164h88M1223 1164h4M1233 1164h2M1239 1164h2M1243 1164h4M1133 1166h98M1233 1166h4M1241 1166h2M1245 1166h6M1253 1166h4M1133 1168h100M1235 1168h2M1239 1168h2M1247 1168h2M1133 1170h106M1247 1170h2M1257 1170h2M1133 1172h86M1221 1172h16M1239 1172h2M1243 1172h6M1133 1174h96M1231 1174h2M1237 1174h8M1251 1174h2M1255 1174h2M1133 1176h98M1233 1176h2M1237 1176h2M1241 1176h2M1245 1176h2M1133 1178h100M1235 1178h2M1241 1178h4M1257 1178h2M1133 1180h108M1253 1180h6M1133 1182h114M1253 1182h2M1133 1184h94M1229 1184h10M1243 1184h2M1249 1184h2M1257 1184h2M1133 1186h92M1227 1186h12M1243 1186h4M1133 1188h94M1229 1188h10M1247 1188h2M1253 1188h4M1133 1190h98M1233 1190h2M1239 1190h6M1247 1190h2M1133 1192h96M1231 1192h4M1237 1192h4M1243 1192h2M1247 1192h2M1259 1192h2M1133 1194h96M1231 1194h2M1237 1194h6M1251 1194h2M1133 1196h92M1227 1196h10M1243 1196h2M1247 1196h2M1253 1196h4M1133 1198h94M1229 1198h10M1241 1198h6M1249 1198h2M1133 1200h106M1241 1200h4M1251 1200h2M1255 1200h2M1133 1202h92M1227 1202h12M1247 1202h2M1253 1202h2M1133 1204h90M1227 1204h4M1233 1204h2M1237 1204h4M1243 1204h4M1249 1204h2M1133 1206h88M1223 1206h8M1233 1206h2M1237 1206h8M1247 1206h4M1253 1206h2M1259 1206h2M1133 1208h96M1231 1208h6M1249 1208h2M1133 1210h96M1231 1210h10M1243 1210h6M1263 1210h2M1133 1212h96M1231 1212h4M1237 1212h6M1245 1212h4M1259 1212h2M1133 1214h92M1227 1214h14M1243 1214h6M1253 1214h2M1133 1216h98M1235 1216h10M1249 1216h2M1259 1216h2M1263 1216h2M1133 1218h110M1247 1218h2M1251 1218h2M1259 1218h2M1133 1220h108M1243 1220h2M1249 1220h2M1133 1222h120M1133 1224h108M1133 1226h96M1233 1226h2M1237 1226h4M1243 1226h4M1257 1226h2M1133 1228h102M1239 1228h2M1243 1228h6M1259 1228h2M1133 1230h102M1237 1230h4M1243 1230h2M1247 1230h4M1133 1232h90M1225 1232h4M1231 1232h4M1237 1232h4M1243 1232h8M1133 1234h110M1133 1236h104M1239 1236h6M1253 1236h2M1261 1236h2M1133 1238h96M1231 1238h4M1237 1238h4M1253 1238h2M1133 1240h104M1239 1240h6M1251 1240h6M1133 1242h108M1245 1242h4M1259 1242h2M1133 1244h100M1235 1244h6M1243 1244h4M1251 1244h2M1133 1246h100M1235 1246h10M1247 1246h2M1251 1246h2M1133 1248h102M1239 1248h4M1245 1248h10M1261 1248h2M1133 1250h104M1239 1250h2M1245 1250h2M1249 1250h4M1133 1252h106M1243 1252h2M1249 1252h2M1253 1252h2M1257 1252h4M1133 1254h104M1239 1254h8M1249 1254h4M1133 1256h100M1235 1256h12M1133 1258h106M1241 1258h2M1251 1258h2M1133 1260h102M1239 1260h6M1247 1260h2M1257 1260h2M1133 1262h112M1247 1262h2M1255 1262h2M1133 1264h100M1235 1264h8M1247 1264h2M1255 1264h4M1133 1266h112M1133 1268h104M1239 1268h8M1249 1268h2M1133 1270h108M1243 1270h2M1133 1272h104M1239 1272h6M1247 1272h2M1251 1272h2M1133 1274h100M1235 1274h24M1133 1276h108M1245 1276h4M1255 1276h4M1133 1278h112M1247 1278h6M1133 1280h98M1233 1280h2M1237 1280h4M1247 1280h2M1251 1280h2M1133 1282h100M1237 1282h2M1247 1282h10M1133 1284h96M1233 1284h2M1237 1284h2M1243 1284h2M1249 1284h2M1255 1284h2M1133 1286h96M1231 1286h14M1249 1286h2M1133 1288h116M1253 1288h2M1133 1290h110M1247 1290h4M1253 1290h2M1259 1290h2M1133 1292h108M1243 1292h2M1247 1292h2M1251 1292h6M1133 1294h108M1243 1294h2M1247 1294h4M1255 1294h4M1261 1294h2M1265 1294h2M1133 1296h102M1237 1296h2M1241 1296h4M1247 1296h4M1257 1296h2M1261 1296h2M1133 1298h122M1259 1298h2M1267 1298h2M1133 1300h110M1245 1300h8M1257 1300h4M1265 1300h2M1133 1302h120M1257 1302h2M1261 1302h6M1133 1304h122M1257 1304h6M1267 1304h4M1133 1306h122M1257 1306h4M1269 1306h2M1133 1308h126M1261 1308h4M1133 1310h126M1261 1310h6M1133 1312h118M1253 1312h2M1257 1312h6M1265 1312h2M1273 1312h2M1133 1314h124M1259 1314h2M1263 1314h4M1271 1314h2M1275 1314h2M1133 1316h136M1273 1316h4M1133 1318h126M1261 1318h6M1269 1318h2M1133 1320h136M1271 1320h6M1133 1322h136M1271 1322h2M1133 1324h142M1133 1326h136M1271 1326h4M1277 1326h2M1133 1328h140M1277 1328h6M1133 1330h136M1271 1330h8M1133 1332h136M1271 1332h2M1275 1332h4M1283 1332h2M1133 1334h134M1269 1334h12M1133 1336h138M1281 1336h2M1133 1338h146M1133 1340h136M1273 1340h2M1277 1340h2M1133 1342h132M1267 1342h10M1133 1344h128M1263 1344h6M1273 1344h2M1279 1344h6M1133 1346h142M1277 1346h4M1133 1348h130M1265 1348h6M1273 1348h6M1285 1348h2M1133 1350h138M1273 1350h2M1279 1350h2M1133 1352h130M1267 1352h2M1271 1352h2M1275 1352h2M1133 1354h142M1279 1354h2M1133 1356h138M1273 1356h2M1277 1356h2M1281 1356h4M1133 1358h136M1275 1358h2M1133 1360h130M1265 1360h6M1275 1360h2M1279 1360h2M1133 1362h138M1275 1362h4M1133 1364h140M1279 1364h8M1133 1366h134M1269 1366h2M1277 1366h2M1281 1366h2M1289 1366h2M1133 1368h130M1265 1368h14M1281 1368h2M1133 1370h138M1275 1370h2M1133 1372h138M1273 1372h6M1281 1372h2M1285 1372h2M1133 1374h140M1277 1374h4M1133 1376h142M1277 1376h2M1133 1378h128M1263 1378h8M1277 1378h2M1281 1378h2M1285 1378h2M1289 1378h2M1133 1380h138M1273 1380h2M1277 1380h4M1287 1380h4M1133 1382h136M1271 1382h4M1277 1382h2M1283 1382h2M1133 1384h136M1271 1384h6M1133 1386h140M1279 1386h2M1133 1388h140M1275 1388h2M1281 1388h4M1133 1390h144M1281 1390h2M1285 1390h2M1133 1392h136M1271 1392h10M1289 1392h2M1133 1394h138M1273 1394h4M1289 1394h2M1133 1396h140M1275 1396h2M1133 1398h142M1277 1398h6M1133 1400h148M1285 1400h2M1133 1402h142M1277 1402h2M1289 1402h2M1133 1404h144M1279 1404h4M1133 1406h150M1133 1408h144M1279 1408h2M1283 1408h2M1133 1410h142M1283 1410h2M1287 1410h2M1133 1412h136M1271 1412h8M1281 1412h2M1287 1412h2M1291 1412h2M1133 1414h140M1275 1414h4M1285 1414h2M1133 1416h144M1281 1416h4M1133 1418h146M1281 1418h4M1293 1418h4M1133 1420h144M1281 1420h4M1295 1420h2M1133 1422h140M1275 1422h4M1281 1422h8M1293 1422h2M1133 1424h142M1277 1424h8M1289 1424h4M1299 1424h2M1133 1426h150M1289 1426h2M1293 1426h2M1133 1428h146M1281 1428h2M1295 1428h2M1133 1430h150M1287 1430h6M1133 1432h146M1283 1432h2M1291 1432h2M1297 1432h6M1133 1434h152M1287 1434h4M1295 1434h4M1133 1436h148M1289 1436h2M1297 1436h2M1133 1438h152M1303 1438h6M1133 1440h152M1287 1440h8M1297 1440h6M1133 1442h154M1297 1442h4M1133 1444h148M1283 1444h2M1287 1444h16M1305 1444h4M1133 1446h148M1283 1446h14M1299 1446h2M1303 1446h4M1309 1446h2M1133 1448h166M1301 1448h4M1133 1450h168M1305 1450h2M1309 1450h4M1133 1452h152M1287 1452h4M1307 1452h4M1133 1454h156M1291 1454h6M1301 1454h8M1133 1456h154M1289 1456h6M1297 1456h4M1303 1456h6M1133 1458h150M1285 1458h4M1291 1458h2M1295 1458h14M1133 1460h162M1297 1460h2M1307 1460h4M1315 1460h2M1133 1462h172M1133 1464h154M1289 1464h8M1299 1464h6M1307 1464h4M1313 1464h2M1133 1466h164M1299 1466h4M1309 1466h2M1313 1466h2M1317 1466h2M1133 1468h162M1297 1468h2M1301 1468h8M1313 1468h2M1319 1468h2M1133 1470h162M1297 1470h4M1303 1470h8M1317 1470h2M1133 1472h168M1303 1472h2M1307 1472h4M1313 1472h6M1133 1474h162M1297 1474h10M1309 1474h4M1315 1474h4M1133 1476h166M1301 1476h8M1317 1476h2M1133 1478h168M1303 1478h2M1307 1478h4M1313 1478h2M1133 1480h170M1305 1480h2M1309 1480h2M1133 1482h162M1297 1482h20M1133 1484h166M1301 1484h8M1133 1486h172M1307 1486h2M1319 1486h4M1133 1488h170M1305 1488h6M1317 1488h4M1323 1488h2M1327 1488h2M1133 1490h180M1323 1490h2M1327 1490h2M1133 1492h170M1305 1492h2M1309 1492h4M1315 1492h4M1327 1492h2M1133 1494h170M1305 1494h8M1321 1494h2M1133 1496h172M1307 1496h8M1317 1496h4M1331 1496h2M1133 1498h180M1315 1498h2M1319 1498h4M1327 1498h2M1133 1500h192M1327 1500h2M1341 1500h2M1133 1502h180M1315 1502h2M1319 1502h4M1325 1502h4M1133 1504h186M1321 1504h2M1327 1504h4M1333 1504h2M1341 1504h2M1347 1504h2M1133 1506h184M1319 1506h6M1327 1506h2M1331 1506h4M1339 1506h2M1343 1506h4M1133 1508h178M1313 1508h6M1321 1508h2M1325 1508h2M1335 1508h2M1341 1508h2M1345 1508h4M1133 1510h186M1321 1510h4M1331 1510h4M1343 1510h4M1349 1510h2M1133 1512h196M1331 1512h8M1343 1512h4M1351 1512h2M1359 1512h2M1133 1514h182M1317 1514h6M1325 1514h2M1329 1514h2M1333 1514h2M1337 1514h6M1349 1514h4M1133 1516h186M1321 1516h14M1337 1516h2M1343 1516h2M1355 1516h6M1365 1516h2M1133 1518h192M1327 1518h10M1339 1518h2M1345 1518h4M1353 1518h2M1361 1518h2M1133 1520h196M1331 1520h4M1337 1520h4M1351 1520h2M1133 1522h206M1341 1522h6M1349 1522h4M1355 1522h6M1367 1522h2M1373 1522h4M1133 1524h210M1347 1524h6M1357 1524h2M1365 1524h2M1133 1526h204M1339 1526h4M1347 1526h2M1351 1526h6M1359 1526h4M1367 1526h2M1133 1528h206M1343 1528h6M1351 1528h2M1357 1528h2M1369 1528h2M1375 1528h2M1133 1530h216M1351 1530h8M1133 1532h206M1341 1532h10M1353 1532h2M1361 1532h2M1365 1532h6M1375 1532h2M1133 1534h218M1357 1534h2M1361 1534h2M1369 1534h2M1133 1536h206M1341 1536h2M1347 1536h4M1365 1536h2M1133 1538h210M1345 1538h4M1351 1538h6M1363 1538h2M1133 1540h202M1337 1540h10M1351 1540h4M1359 1540h2M1363 1540h4M1375 1540h2M1133 1542h202M1339 1542h12M1353 1542h4M1363 1542h2M1375 1542h2M1133 1544h196M1331 1544h16M1349 1544h2M1353 1544h4M1365 1544h2M1133 1546h198M1333 1546h8M1343 1546h8M1355 1546h2M1359 1546h6M1367 1546h2M1133 1548h222M1357 1548h4M1363 1548h4M1133 1550h220M1357 1550h2M1367 1550h2M1371 1550h2M1133 1552h206M1341 1552h10M1353 1552h2M1359 1552h2M1363 1552h6M1133 1554h220M1355 1554h4M1363 1554h2M1133 1556h290M1427 1556h2M1431 1556h2M1435 1556h4M1441 1556h2M1445 1556h2M1453 1556h2M1133 1558h292M1427 1558h2M1433 1558h2M1437 1558h8M1455 1558h6M1463 1558h2M1133 1560h296M1435 1560h2M1439 1560h2M1445 1560h2M1451 1560h2M1455 1560h2M1133 1562h286M1421 1562h4M1427 1562h4M1435 1562h4M1443 1562h2M1461 1562h2M1133 1564h282M1417 1564h10M1429 1564h4M1445 1564h8M1455 1564h2M1459 1564h4M1133 1566h300M1435 1566h2M1451 1566h2M1455 1566h2M1467 1566h2M1133 1568h292M1429 1568h12M1447 1568h2M1457 1568h2M1461 1568h2M1469 1568h2M1133 1570h310M1449 1570h2M1461 1570h2M1133 1572h296M1433 1572h4M1443 1572h2M1449 1572h6M1461 1572h2M1467 1572h2M1133 1574h300M1439 1574h6M1461 1574h6M1469 1574h2M1133 1576h296M1433 1576h2M1437 1576h4M1443 1576h2M1457 1576h4M1465 1576h2M1469 1576h2M1133 1578h306M1443 1578h8M1453 1578h2M1463 1578h2M1469 1578h6M1133 1580h300M1435 1580h4M1443 1580h6M1469 1580h2M1477 1580h2M1133 1582h300M1435 1582h6M1443 1582h8M1465 1582h2M1133 1584h294M1429 1584h14M1445 1584h2M1451 1584h2M1455 1584h4M1461 1584h2M1479 1584h2M1485 1584h2M1133 1586h306M1441 1586h6M1451 1586h2M1455 1586h8M1469 1586h2M1485 1586h2M1491 1586h2M1133 1588h302M1437 1588h10M1449 1588h8M1459 1588h2M1469 1588h2M1479 1588h2M1485 1588h2M1497 1588h2M1133 1590h298M1435 1590h6M1443 1590h2M1447 1590h2M1451 1590h8M1461 1590h2M1473 1590h2M1477 1590h2M1481 1590h2M1133 1592h292M1427 1592h20M1449 1592h2M1459 1592h2M1463 1592h2M1469 1592h2M1477 1592h8M1489 1592h2M1133 1594h300M1435 1594h2M1439 1594h2M1443 1594h4M1453 1594h4M1461 1594h2M1467 1594h4M1475 1594h10M1491 1594h2M1497 1594h2M1133 1596h296M1431 1596h2M1435 1596h6M1445 1596h14M1461 1596h2M1465 1596h2M1471 1596h2M1477 1596h2M1133 1598h326M1461 1598h2M1465 1598h6M1485 1598h2M1489 1598h2M1499 1598h4M1509 1598h2M1133 1600h310M1445 1600h2M1449 1600h2M1453 1600h2M1457 1600h4M1463 1600h8M1473 1600h2M1477 1600h2M1483 1600h2M1495 1600h4M1503 1600h2M1133 1602h302M1437 1602h2M1441 1602h10M1453 1602h6M1461 1602h6M1471 1602h8M1483 1602h4M1491 1602h2M1501 1602h4M1509 1602h2M1133 1604h302M1437 1604h18M1463 1604h6M1477 1604h2M1489 1604h2M1501 1604h2M1511 1604h2M1133 1606h318M1453 1606h4M1459 1606h2M1463 1606h8M1475 1606h2M1481 1606h2M1485 1606h2M1489 1606h2M1501 1606h2M1507 1606h2M1517 1606h2M1133 1608h318M1453 1608h12M1467 1608h4M1475 1608h2M1479 1608h10M1497 1608h2M1519 1608h2M1133 1610h316M1451 1610h6M1459 1610h4M1465 1610h8M1475 1610h6M1483 1610h4M1489 1610h2M1493 1610h4M1499 1610h2M1505 1610h2M1133 1612h324M1459 1612h6M1467 1612h4M1475 1612h2M1479 1612h10M1491 1612h2M1497 1612h6M1505 1612h2M1509 1612h2M1515 1612h2M1133 1614h314M1449 1614h24M1475 1614h10M1487 1614h6M1497 1614h2M1507 1614h4M1513 1614h2M1517 1614h4M1133 1616h314M1451 1616h20M1479 1616h6M1489 1616h4M1495 1616h2M1499 1616h2M1503 1616h2M1507 1616h2M1511 1616h2M1515 1616h2M1519 1616h4M1531 1616h2M1133 1618h538M1133 1620h538M1133 1622h538" stroke="#bebebe" stroke-width="2" fill="none"/>
<path d="m1225 991 83 0-49 1 61 0 57 0 67 0-245 1 23 0 202 0 26 1-112 1-54 1 48 0 45 0 62 0-185 1 75 0 113 0 14 0-163 1 8 0-112 1 59 0 63 0 29 0 41 0 13 0 18 0-219 1 197 0-193 1 3 0 116 0-131 1 163 0 28 0 19 0 72 0-190 1 125 0 51 0-291 1 53 0 104 0-10 1 5 0 42 0-186 1 29 2-17 2-2 5 16 9 2 1-9 1 3 4 2 0-31 3 20 1 13 1-2 2-7 6 6 9 10 0 3 1-22 1 30 4-11 2-13 2 16 0-6 1 1 0-30 4 30 0-9 2-34 5 29 2 21 0-20 3 11 3 21 0-11 1 2 6-8 3 9 1-15 1 26 0-50 2 35 1-26 2 43 2-54 3 38 0 11 0-22 2 2 1 33 0-33 1-19 10 26 1-2 2-8 4 4 4-1 1 0 1-12 1 27 0-19 2 31 4-41 1 19 0-7 7 14 2 15 0-25 4 25 4 5 1-25 1-24 1 30 2-37 1 27 0 4 0 30 0-39 1 48 0-7 1-32 1 4 0 32 0 5 0 6 1-64 5 40 1-47 1 15 4 33 2 3 1 4 1 7 0-25 5-35 1 32 1-42 3 73 0 7 5-19 1 12 0 2 0-17 1-33 1 34 0-6 1 25 1 3 0-44 3 39 2-77 2 22 0 24 0 26 1-61 1 36 0 8 0-58 1 64 0 14 0-59 3 29 0 11 0-26 1 4 0 6 0 6 0 21 1 18 0-98 4 72 0 11 0 0 2 2 0-35 1-16 1 24 0-7 1 10 1-64 1 19 0 51 0-62 2 75 0-41 1 17 1 15 0-26 3 25 1 2 0 2 0-51 1 24 3 13 0 1 0-48 3-3 1 9 0 23 0-26 3 86 1-10 1-39 2 36 3-10 2-2 1 6 0-89 1 66 0-7 1 20 0 18 0-11 1 3 0-1 1 5 1-32 1 3 0 5 4 6 3 2 0-54 2 66 0-4 1-24 1 37 1-2 1-28 1-29 1 12 1 19 0-18 1 17 1-16 1 10 2 39 0-52 2 46 1 9 4-13 2 19 3-23 1 8 1 17 0-35 1 12 0 6 2 18 4-49 1-5 3 31 2-23 1-2 1 51 2-25 3 27 0-33 1-22 2 11 0 3 1 36 8 3 1-51 1 3 0 5 0 20 2 22 0 2 0-25 2 22 0-16 2-62 1 77 3-20 1 23 0-24 3 7 0 11 0-6 1-35 5 21 0 29 0 5 0-22 2 13 2 2 0-34 3 7 2 34 0-10 1-9 1-24 1 14 0-36 1 41 3-50 1 52 1-14 2-8 3 41 0 3 0-29 1 13 1-1 4 11 4-40 1 0 0 15 2 15 0-31 1 38 0-40 1 20 0 6 0-5 2 25 0-25 1 28 0-35 1 27 0 2 0-13 2 5 0-4 1-36 3 28 2-6 1 10 1 10 0-2 1 13 0-23 1 5 0-20 3-3 4 16 0 2 2 20 1-1 1-6 1 26 0-59 2 12 3 36 2-51 1 11 0 49 0-27 3 11 0 6 0 9 1-28 1-2 3-16 1 36 0-3 2-28 1 33 4-36 1 30 0 2 3-1 2-13 2 44 0-41 2 3 0-6 4 5 0 39 4-17 3-14 1 21 0-52 1 55 0-22 1 3 1 6 1 21 0-8 3-34 3 35 0-45 4 35 0 5 3 11 2-8 1-13 1 6 1 25 2-36 1 44 0-31 2 8 0 4 0-23 4 14 4 27 2-46 1 46 2-37 1 27 1-25 2-4 1 58 0-64 1-1 1 40 1-31 1 31 0 25 0-52 1 49 2 13 0-34 3 26 1-9 1-66 2 15 0 59 0-7 1 18 0 19 0-54 2 29 0 17 1-39 1 32 0-81 1 38 1-34 1 74 0-22 1-51 1 36 2 35 4-3 1-8 1 17 0-17 2-13 1-35 1 25 0-19 1 61 2-29 1-11 1 20 0 13 1-47 1 16 1 27 0-22 2-60 1 89 0 21 1 40 2-98 1 115 0 19 0-273 1-49 1 169 0 14 0-24 1 165 1-41 2-218 1 216 1 24 0-4 1 2 0 32 0-286 1 244 0 1 0 7 0-254 1 158 0 63 0-71 1 57 0 48 0-29 1 25 0 19 0 16 0-179 1-150 2 90 0 57 1 141 0-212 1 152 0 60 0-141 1 42 0 24 0 37 0-112 1 138 0-110 1 105 0-179 1 136 0 55 0 12 0-259 1 237 0-15 1-192 1 235 0 39 0-97 1 25 0 21 0 4 1 27 0-49 2 14 0 29 0-179 1 162 0 2 0-59 1 76 0 3 0-115 1 103 0-102 1 77 0 21 1 41 0-110 1 41 0 26 1-123 1 46 0 108 0-254 1 75 1 151 0-106 1 130 0-169 1 115 0 28 0 42 0 19 0-271 1 174 1 27 1 4 0 12 2 63 0-72 1 11 0-208 2 182 0 13 0 14 2-21 1 45 0-173 1 177 0 8 0 23 0-362 1 217 0 49 0 30 0-221 1 221 0 74 0-171 1 133 0 51 0-61 1 21 0" fill="none" marker-start="url(#h)" marker-mid="url(#h)" marker-end="url(#h)"/>
<path d="m1283 991 19 0 5 0 58 0 77 0 13 0 64 0-317 1 0 0 8 0 53 0 12 0 5 0 2 0 15 0 8 0 7 0 36 0 13 0 1 0 51 0 9 0 12 0 5 0 3 0 3 0 17 0 36 0-280 1 10 0 39 0 8 0 7 0 8 0 16 0 19 0 29 0 8 0 6 0 5 0 10 0 6 0 29 0 20 0-220 1 77 0 10 0 11 0 6 0 1 0 7 0 1 0 24 0 200 0-348 1 14 0 7 0 66 0 6 0 2 0 30 0 16 0 16 0 2 0 69 0 2 0 46 0-284 1 40 0 14 0 2 0 15 0 9 0 92 0 41 0 14 0 18 0 11 0-249 1 1 0 16 0 0 0 23 0 18 0 6 0 0 0 37 0 0 0 20 0 4 0 3 0 6 0 15 0 28 0 40 0 1 0 4 0 21 0 37 0-284 1 9 0 57 0 19 0 11 0 36 0 35 0 2 0 45 0 10 0 15 0 8 0 16 0 0 0 0 0 12 0-228 1 6 0 6 0 23 0 12 0 2 0 10 0 6 0 27 0 9 0 6 0 15 0 8 0 51 0-231 1 5 0 8 0 17 0 33 0 22 0 2 0 35 0 7 0 22 0 5 0 13 0 18 0 19 0-141 1 49 0 20 0 32 0 2 0 0 0 3 0 11 0 13 0 6 0 3 0 5 0 19 0 27 0 4 0 4 0-256 1 25 0 29 0 1 0 2 0 31 0 48 0 45 0 18 0 6 0 19 0 23 0 3 0 54 0-315 1 8 0 1 0 7 0 22 0 19 0 36 0 25 0 0 0 16 0 21 0 19 0 16 0 10 0 5 0 10 0 19 0 6 0 8 0 12 0 1 0 35 0 20 0-281 1 0 0 49 0 10 0 19 0 35 0 1 0 27 0 3 0 3 0 58 0 16 0 33 0-250 1 128 0 18 0 5 0 3 0 12 0 57 0 6 0-259 1 1 0 21 0 22 0 29 0 38 0-115 1 10 0 16 0 5 0 18 0 11 0 46 0-71 1 123 0 23 0 38 0-210 1 21 0 23 0 9 0 35 0 41 0 42 0 70 0-221 1 3 0 40 0 19 0 3 0 51 0 104 0 4 0 16 0-270 1 4 0 28 0 13 0 10 0 24 0 116 0 72 0 4 0-247 1 11 0 90 0 66 0 62 0 3 0 5 0 32 0-167 1 3 0 78 0-188 1 25 0 37 0 41 0 12 0 86 0 7 0 26 0-241 1 7 0 34 0 163 0 55 0 33 0-254 1 23 0 8 0 112 0-190 1 0 0 45 0 5 0 0 0 34 0 46 0 81 0-213 1 4 0 21 0 18 0 3 0 45 0 2 0 7 0 23 0-121 1 5 0 7 0 4 0 9 0 79 0 9 0 58 0-175 1 12 0 33 0 20 0 14 0 3 0 136 0 11 0-211 1 3 0 0 0 81 0 15 0-81 1 147 0-171 1 49 0 17 0 8 0 107 0 71 0-261 1 1 0 30 0 22 0 30 0 120 0 134 0-326 1 3 0 26 0 46 0 60 0 19 0 46 0 2 0-206 1 5 0 2 0 5 0 73 0 21 0 21 0-138 1 7 0 18 0 27 0 8 0 41 0 98 0 26 0-213 1 20 0 1 0 42 0 10 0 15 0 51 0 53 0 95 0-289 1 2 0 4 0 1 0 10 0 3 0 18 0 1 0 2 0 47 0 71 0 60 0 14 0 9 0-225 1 39 0 31 0 33 0 2 0 15 0 101 0-235 1 0 0 4 0 0 0 16 0 8 0 23 0 33 0 114 0-200 1 11 0 6 0 33 0 32 0 16 0 14 0-124 1 40 0 0 0 3 0 6 0 6 0 24 0 1 0 60 0 121 0 155 0-416 1 10 0 10 0 69 0 35 0 88 0-203 1 4 0 24 0 30 0 69 0 120 0-233 2 10 0 184 0 94 0-297 1 3 0 18 0 17 0 7 0 12 0 18 0 0 0 64 0 74 0 30 0 13 0-267 1 4 0 18 0 4 0 6 0 57 0 10 0 23 0-101 1 74 0 157 0 39 0 65 0-339 1 4 0 38 0 5 0 13 0 26 0 114 0 96 0-313 1 11 0 4 0 33 0 18 0 10 0 22 0 7 0 36 0 69 0-179 1 9 0 7 0 37 0 23 0 64 0 22 0 1 0 85 0-261 1 29 0 14 0 0 0 120 0 6 0 21 0 54 0-234 1 22 0 33 0 11 0 2 0 44 0 78 0-156 1 0 0 94 0 76 0 41 0-276 1 34 0 36 0 51 0 211 0 156 0-460 1 18 0 7 0 26 0 1 0 116 0 51 0 52 0-291 1 20 0 3 0 88 0 69 0 9 0 46 0-236 1 1 0 4 0 5 0 3 0 29 0 16 0 31 0 20 0 59 0 127 0-290 1 9 0 17 0 6 0 5 0 7 0 38 0 41 0 18 0 24 0-160 1 5 0 2 0 13 0 8 0 32 0-76 1 15 0 8 0 0 0 1 0 56 0 25 0 1 0 31 0 11 0 31 0 85 0-224 1 12 0 41 0 73 0 18 0 38 0 61 0 5 0-249 1 10 0 22 0 4 0 32 0 24 0 67 0 85 0 21 0-286 1 9 0 16 0 11 0 36 0 5 0 151 0-236 1 27 0 8 0 39 0 56 0 76 0 13 0 22 0-201 1 3 0 12 0 26 0 9 0 19 0 81 0-189 1 3 0 18 0 19 0 27 0 46 0 156 0-250 1 6 0 10 0 1 0 2 0 20 0 2 0 11 0 83 0 68 0 10 0 5 0 23 0 34 0-278 1 3 0 30 0 46 0 5 0 28 0 109 0 61 0-292 1 7 0 13 0 5 0 5 0 21 0 14 0 69 0 7 0 54 0 15 0 72 0-282 1 13 0 0 0 2 0 106 0 8 0-102 1 6 0 57 0-91 1 12 0 1 0 3 0 18 0 21 0 8 0 3 0 59 0 33 0 34 0 21 0 105 0-314 1 26 0 2 0 70 0 16 0 68 0 4 0 19 0 0 0 15 0 18 0 47 0 42 0-325 1 17 0 29 0 26 0 63 0 82 0 14 0-221 1 4 0 4 0 13 0 36 0 22 0 65 0-158 1 5 0 2 0 9 0 23 0 9 0 2 0 5 0 0 0 9 0 21 0 20 0 49 0 119 0-276 1 4 0 2 0 15 0 2 0 15 0 1 0 22 0 2 0 14 0 19 0 10 0 11 0 1 0 53 0 0 0 11 0 13 0 43 0 14 0 11 0 99 0-354 1 55 0 4 0 58 0 14 0 4 0 23 0 13 0 3 0 21 0-195 1 2 0 17 0 25 0 21 0 4 0 2 0 25 0 6 0 6 0 64 0 9 0 56 0-235 1 11 0 4 0 13 0 2 0-27 1 28 0 7 0 18 0 40 0 17 0 17 0 7 0 34 0 13 0 0 0-201 1 14 0 16 0 31 0 25 0 15 0 39 0 10 0 24 0 47 0 1 0-213 1 1 0 1 0 10 0 14 0 65 0 36 0 0 0-128 1 12 0 8 0 23 0 40 0 25 0 28 0 66 0 9 0 14 0 76 0-291 1 6 0 14 0 2 0 7 0 5 0 29 0 64 0 4 0 90 0 0 0 2 0 36 0-271 1 6 0 4 0 70 0 9 0 33 0 26 0 12 0-133 1 2 0 19 0 53 0 33 0 3 0 72 0 82 0-286 1 9 0 2 0 27 0 17 0 8 0 29 0 29 0 16 0 28 0 3 0 39 0 61 0-255 1 17 0 1 0 46 0 6 0 0 0 45 0 119 0 28 0-288 1 28 0 3 0 9 0 6 0 4 0 51 0 17 0 0 0 16 0 3 0 16 0 86 0 12 0 7 0 88 0-302 1 11 0 13 0 8 0 2 0 89 0 11 0 3 0 31 0 94 0-296 1 25 0 1 0 1 0 1 0 5 0 7 0 7 0 2 0 2 0 52 0 20 0 32 0 15 0 12 0 223 0-339 1 2 0 11 0 14 0 23 0 9 0 28 0 3 0 11 0 68 0-228 1 16 0 8 0 17 0 5 0 5 0 17 0 14 0 2 0 12 0 64 0-168 1 6 0 59 0 33 0 47 0 3 0 23 0 108 0-267 1 17 0 5 0 7 0 2 0 32 0 14 0 30 0 9 0 8 0 52 0 50 0 48 0-287 1 13 0 10 0 9 0 47 0 42 0 5 0 10 0 76 0 121 0 18 0-335 1 14 0 7 0 1 0 10 0 2 0 12 0 13 0 1 0 6 0 31 0 64 0 47 0-215 1 22 0 23 0 3 0 13 0 7 0 2 0 31 0 4 0 7 0 7 0 32 0 26 0 22 0 2 0 36 0 1 0-225 1 13 0 15 0 2 0 1 0 7 0 44 0 35 0 16 0 38 0 78 0 6 0-272 1 0 0 24 0 16 0 9 0 41 0 12 0 35 0 15 0 73 0 12 0 55 0-297 1 7 0 15 0 16 0 22 0 8 0 2 0 33 0 73 0 49 0 34 0 14 0 14 0-278 1 9 0 0 0 35 0 24 0 42 0 22 0-138 1 18 0 19 0 82 0 41 0-160 1 4 0 18 0 13 0 1 0 21 0 82 0 63 0 38 0 62 0 40 0-346 1 4 0 17 0 20 0 17 0 19 0 203 0-225 1 5 0 13 0 5 0 1 0 6 0 5 0 69 0 23 0 12 0 8 0 14 0 7 0 22 0 51 0-285 1 43 0 4 0 1 0 27 0 47 0-128 1 6 0 3 0 11 0 25 0 90 0 26 0 63 0 1 0 134 0-353 1 45 0 14 0 11 0 1 0 9 0 0 0 5 0 19 0 19 0 5 0 61 0 9 0 55 0-235 1 4 0 25 0 6 0 4 0 49 0 31 0 4 0 7 0 90 0 43 0 11 0 34 0-337 1 9 0 21 0 2 0 7 0 6 0 16 0 60 0 77 0 169 0-360 1 5 0 8 0 14 0 1 0 14 0 3 0 8 0 20 0 61 0 40 0 3 0 22 0 20 0-203 1 13 0 13 0 39 0 14 0 7 0 7 0 7 0 9 0 42 0 10 0 41 0 2 0 27 0 30 0 38 0-290 1 11 0 3 0 18 0 22 0 27 0 2 0 20 0 23 0 10 0 13 0 20 0 77 0-254 1 18 0 2 0 23 0 18 0 6 0 25 0 170 0-287 1 15 0 16 0 13 0 16 0 12 0 10 0 2 0 68 0 11 0 25 0 17 0 15 0 119 0-340 1 16 0 15 0 5 0 15 0 87 0 78 0 11 0-211 1 19 0 0 0 4 0 5 0 10 0 27 0 0 0 17 0 0 0 10 0 19 0 41 0 15 0 23 0 28 0 54 0-264 1 6 0 6 0 25 0 17 0 8 0 13 0 6 0 19 0 21 0 12 0 75 0 44 0-247 1 15 0 8 0 13 0 6 0 18 0 8 0 37 0 72 0 104 0-313 1 15 0 8 0 5 0 0 0 2 0 1 0 10 0 2 0 34 0 47 0 80 0 25 0 13 0 147 0 129 0-483 1 27 0 13 0 2 0 64 0 60 0 20 0 25 0 66 0-285 1 3 0 14 0 9 0 2 0 2 0 31 0 5 0 53 0 55 0 107 0 2 0 213 0-518 1 14 0 26 0 4 0 5 0 21 0 40 0 41 0 25 0 22 0-198 1 4 0 31 0 4 0 1 0 58 0 5 0 6 0 6 0 1 0 32 0 23 0 1 0 34 0 22 0 73 0 10 0-291 1 23 0 31 0 4 0 30 0 5 0 83 0-194 1 15 0 13 0 17 0 2 0 1 0 23 0 23 0 10 0 3 0 29 0 27 0 5 0 16 0 41 0 131 0-323 1 9 0 0 0 1 0 19 0 98 0 28 0 151 0-330 1 0 0 3 0 0 0 4 0 5 0 2 0 20 0 7 0 5 0 47 0 13 0 8 0 1 0 3 0 171 0 40 0-328 1 11 0 2 0 8 0 25 0 1 0 76 0 22 0 11 0 36 0 51 0-201 1 132 0 38 0-193 1 94 0 18 0 16 0 84 0 0 0 47 0-268 1 6 0 22 0 14 0 6 0 18 0 111 0 21 0 69 0-266 1 23 0 50 0 20 0 10 0 124 0 50 0-274 1 8 0 38 0 32 0 16 0 75 0 97 0-285 1 16 0 4 0 59 0 24 0 36 0 19 0 14 0 1 0 34 0 41 0-256 1 27 0 11 0 6 0 4 0 6 0 14 0 10 0 23 0 16 0 2 0 19 0 34 0 12 0 56 0 117 0-334 1 3 0 7 0 25 0 2 0 1 0 7 0 62 0 17 0 41 0 311 0-476 1 6 0 5 0 12 0 8 0 7 0 1 0 4 0 12 0 16 0 23 0 133 0 24 0 48 0-287 1 22 0 123 0 6 0 31 0 32 0-216 1 7 0 38 0 19 0 2 0 32 0 15 0 30 0-162 1 20 0 12 0 4 0 5 0 60 0 24 0 6 0 71 0 15 0 0 0 23 0 41 0-256 1 6 0 23 0 4 0 113 0 4 0 15 0 3 0-204 1 7 0 0 0 57 0 44 0 32 0 35 0 65 0 27 0 11 0 71 0-339 1 17 0 3 0 10 0 31 0 30 0 22 0 7 0 129 0-238 1 14 0 4 0 4 0 2 0 12 0 31 0 6 0 60 0 19 0 28 0 1 0-194 1 7 0 16 0 11 0 7 0 43 0 8 0 45 0-138 1 19 0 0 0 2 0 6 0 15 0 12 0 29 0 14 0 3 0 31 0 32 0 3 0 107 0-272 1 15 0 11 0 18 0 24 0 154 0-196 1 26 0 15 0 35 0 1 0 9 0 9 0 8 0 11 0 83 0 33 0-254 1 11 0 9 0 29 0 13 0 12 0 7 0 6 0 5 0 14 0 13 0 20 0 27 0 14 0 43 0 26 0 37 0 5 0-277 1 11 0 10 0 3 0 1 0 15 0 1 0 3 0 3 0 2 0 11 0 2 0 40 0 17 0 39 0 1 0 40 0 33 0 25 0 103 0 9 0-387 1 37 0 2 0 15 0 15 0 51 0 37 0 9 0 16 0 12 0 37 0-230 1 57 0 5 0 6 0 8 0 15 0 46 0-128 1 23 0 69 0 20 0 23 0 92 0-206 1 14 0 10 0 3 0 4 0 1 0 3 0 68 0 3 0 11 0 8 0 95 0 4 0-213 1 11 0 10 0 12 0 2 0 19 0 16 0 4 0 112 0 4 0-210 1 13 0 15 0 44 0 23 0 94 0 1 0 13 0 4 0 29 0 3 0-252 1 3 0 0 0 19 0 14 0 46 0 37 0 14 0 8 0 22 0 71 0-244 1 32 0 197 0 9 0 14 0-238 1 17 0 14 0 22 0 37 0 101 0 73 0-272 1 1 0 0 0 5 0 19 0 23 0 17 0 33 0 21 0 18 0 91 0-209 1 1 0 8 0 4 0 9 0 5 0 3 0 0 0 48 0 3 0 4 0 79 0 7 0 12 0 1 0 2 0-180 1 81 0 10 0 51 0-127 1 10 0 13 0 3 0 18 0 12 0 36 0 4 0 40 0-148 1 26 0 13 0 71 0 32 0 46 0 14 0-221 1 17 0 9 0 18 0 16 0 14 0 54 0 18 0 48 0 53 0-250 1 18 0 27 0 5 0 7 0 30 0 0 0 62 0 47 0 248 0-442 1 22 0 1 0 6 0 6 0 11 0 49 0 35 0 21 0 5 0 14 0 10 0 33 0 50 0 79 0 125 0-476 1 27 0 14 0 1 0 22 0 13 0 2 0 10 0 5 0 43 0 16 0 45 0 6 0-167 1 1 0 0 0 22 0 7 0 1 0 12 0 6 0 21 0 23 0 45 0 57 0-188 1 11 0 9 0 9 0 17 0 127 0 61 0-267 1 1 0 6 0 11 0 4 0 64 0 32 0 3 0 0 0 36 0 14 0 41 0 58 0-261 1 4 0 33 0 18 0 74 0 79 0-203 1 34 0 8 0 19 0 6 0 0 0 10 0 109 0 55 0 7 0-242 1 15 0 2 0 15 0 52 0 57 0 66 0 243 0-365 1 15 0 103 0-205 1 8 0 7 0 29 0 5 0 5 0 4 0 31 0 38 0 34 0 35 0 22 0 227 0-441 1 8 0 1 0 18 0 52 0 1 0 10 0 77 0 55 0-244 1 18 0 39 0 6 0 44 0 3 0 27 0 49 0 3 0 82 0-248 1 5 0 28 0 44 0 9 0 7 0 56 0 4 0 22 0 30 0 30 0-247 1 7 0 3 0 13 0 2 0 45 0 33 0 16 0 7 0 45 0-182 1 29 0 2 0 1 0 24 0 13 0 16 0 9 0 10 0 71 0 27 0 32 0 13 0-245 1 16 0 3 0 30 0 35 0 15 0 12 0 2 0 23 0 6 0 333 0-459 1 33 0 14 0 8 0 5 0 3 0 52 0 48 0 77 0-191 1 42 0 38 0 195 0-318 1 8 0 1 0 3 0 8 0 61 0 6 0 32 0 44 0 7 0 6 0-152 1 11 0 13 0 50 0 38 0 217 0-317 1 1 0 0 0 22 0 61 0 20 0 59 0 2 0-145 1 29 0 146 0 12 0 198 0-455 1 12 0 1 0 14 0 134 0 15 0 53 0-224 1 12 0 5 0 25 0 12 0 42 0 4 0 139 0-243 1 18 0 29 0 2 0 28 0 53 0 43 0 24 0 15 0 12 0-204 1 13 0 13 0 8 0 80 0 22 0 27 0 33 0 40 0 202 0 34 0 0 0-479 1 135 0 25 0 20 0 4 0 6 0-212 1 12 0 13 0 4 0 2 0 6 0 52 0 34 0 27 0 72 0 31 0 228 0-479 1 42 0 4 0 60 0 117 0-218 1 42 0 24 0 5 0 37 0 11 0 17 0 100 0-217 1 9 0 31 0 0 0 2 0 4 0 33 0 4 0 35 0 41 0 113 0-298 1 16 0 3 0 4 0 8 0 71 0 9 0 54 0 13 0-170 1 5 0 0 0 1 0 3 0 0 0 7 0 20 0 1 0 17 0 45 0 75 0 2 0 15 0 44 0 18 0-258 1 1 0 12 0 8 0 3 0 16 0 12 0 79 0 29 0 17 0 48 0 147 0-340 1 126 0 6 0 47 0 64 0 114 0-379 1 35 0 3 0 28 0 9 0 37 0 73 0-184 1 26 0 13 0 42 0 58 0 8 0 7 0 61 0 8 0 12 0-224 1 26 0 6 0 28 0 9 0 52 0 34 0 9 0 102 0 190 0-467 1 13 0 6 0 10 0 12 0 107 0-140 1 10 0 14 0 0 0 2 0 2 0 6 0 1 0 222 0-263 1 11 0 34 0 6 0 4 0 7 0 68 0 88 0 16 0 213 0 16 0-483 1 27 0 0 0 4 0 10 0 19 0 23 0 27 0 46 0 14 0 7 0 54 0-230 1 0 0 35 0 16 0 57 0 41 0 85 0-244 1 0 0 41 0 2 0 20 0 46 0 11 0 16 0 106 0 22 0 197 0-412 1 2 0 29 0 6 0 5 0 47 0-119 1 11 0 1 0 2 0 27 0 7 0 70 0 3 0 13 0 29 0 17 0 288 0-458 1 32 0 1 0 2 0 66 0 16 0 9 0 1 0 71 0 23 0 14 0-256 1 22 0 2 0 6 0 16 0 9 0 6 0 5 0 40 0 36 0 2 0 14 0 33 0 34 0-201 1 0 0 9 0 11 0 8 0 56 0 10 0 1 0 24 0 11 0 5 0 4 0 26 0 15 0 81 0 147 0-410 1 12 0 20 0 3 0 43 0 43 0 63 0 15 0 1 0 4 0-229 1 17 0 5 0 7 0 31 0 18 0 20 0 5 0 16 0 11 0 3 0 36 0 16 0-151 1 3 0 10 0 9 0 9 0 7 0 49 0 3 0 7 0 12 0 7 0 9 0-144 1 16 0 13 0 7 0 21 0 25 0 18 0 20 0 14 0 12 0 320 0-473 1 23 0 24 0 0 0 2 0 11 0 128 0 21 0-187 1 16 0 6 0 60 0 105 0 18 0-196 1 4 0 54 0 7 0 15 0 2 0 27 0 51 0 68 0-202 1 27 0 0 0 5 0 60 0 1 0 58 0 21 0 19 0 9 0-246 1 6 0 1 0 6 0 17 0 26 0 22 0 24 0 23 0 19 0 13 0 82 0-201 1 7 0 5 0 1 0 7 0 21 0 10 0 40 0 71 0 63 0-219 1 51 0 12 0 78 0-188 1 20 0 13 0 114 0 24 0 14 0-180 1 4 0 23 0 19 0 48 0 29 0 5 0 87 0-234 1 14 0 10 0 5 0 11 0 34 0 15 0 13 0 43 0 69 0 243 0 3 0 32 0-492 1 7 0 14 0 51 0 45 0 23 0 3 0 34 0-176 1 7 0 19 0 9 0 8 0 3 0 4 0 19 0 28 0 22 0 6 0 118 0-223 1 87 0 60 0-152 1 13 0 3 0 5 0 48 0 81 0 5 0-159 1 25 0 22 0 8 0 21 0 20 0 27 0 50 0 35 0 19 0 18 0 10 0 3 0-242 1 12 0 41 0 1 0 30 0 68 0 7 0 38 0 0 0 3 0-193 1 2 0 17 0 35 0 25 0-93 1 20 0 115 0-135 1 1 0 1 0 11 0 1 0 9 0 8 0 25 0 1 0 41 0 22 0-126 1 1 0 3 0 8 0 2 0 1 0 9 0 14 0 8 0 13 0 86 0 11 0-141 1 24 0 52 0 32 0 6 0 27 0 53 0 57 0-263 1 3 0 6 0 18 0 63 0 30 0 6 0 73 0 18 0 34 0-263 1 21 0 16 0 1 0 4 0 66 0 74 0 78 0-260 1 7 0 34 0 25 0 95 0 0 0 94 0-241 1 115 0 18 0 22 0 33 0 8 0 19 0 215 0-422 1 2 0 21 0 37 0 60 0 46 0-150 1 3 0 1 0 10 0 21 0 9 0 59 0 1 0 73 0-191 1 1 0 14 0 0 0 1 0 93 0 45 0 77 0-206 1 148 0 8 0-206 1 21 0 1 0 46 0 19 0 16 0 36 0 135 0-247 1 10 0 16 0 30 0 4 0 0 0 30 0 117 0-197 1 31 0 14 0 19 0 28 0 68 0 24 0 14 0-231 1 6 0 21 0 7 0 16 0 23 0 20 0 67 0 24 0 17 0 154 0-336 1 7 0 6 0 0 0 2 0 2 0 17 0 9 0 48 0 104 0 25 0-220 1 4 0 12 0 17 0 59 0 35 0 8 0 51 0 3 0 31 0 1 0-236 1 4 0 6 0 3 0 3 0 12 0 16 0 6 0 19 0 20 0 37 0 65 0 55 0 13 0-245 1 17 0 16 0 30 0 25 0 50 0 3 0 7 0 16 0 17 0 250 0-425 1 7 0 52 0 29 0 7 0 131 0-232 1 6 0 40 0 90 0 5 0 5 0 12 0 63 0-218 1 13 0 4 0 3 0 12 0 17 0 40 0 16 0 12 0 30 0 17 0 201 0-391 1 31 0 14 0 6 0 3 0 29 0 4 0 18 0 24 0 19 0 0 0-90 1 3 0 38 0 4 0 77 0 39 0-195 1 7 0 35 0 3 0 4 0 16 0 22 0 26 0 130 0 87 0-349 1 26 0 14 0 118 0 88 0-223 1 49 0 107 0 94 0-262 1 17 0 4 0 113 0 22 0-141 1 26 0 14 0 2 0 19 0 13 0 8 0 26 0 13 0 0 0 62 0 24 0 135 0-372 1 11 0 5 0 24 0 11 0 3 0 6 0 28 0 67 0 99 0-255 1 1 0 0 0 19 0 37 0 87 0-127 1 7 0 3 0 19 0 4 0 73 0 10 0 1 0 42 0 13 0 14 0 40 0 63 0-290 1 2 0 20 0 65 0 77 0-139 1 6 0 14 0 22 0 70 0 38 0 91 0-242 1 3 0 7 0 145 0 20 0 45 0-252 1 7 0 7 0 12 0 5 0 36 0 9 0 85 0 1 0 7 0-162 1 5 0 4 0 8 0 8 0 68 0 11 0 35 0 19 0 78 0 64 0-293 1 5 0 25 0 6 0 26 0 9 0 141 0-213 1 5 0 9 0 3 0 8 0 20 0 31 0-71 1 5 0 15 0 17 0 52 0 73 0-159 1 6 0 23 0 12 0 23 0 9 0 39 0 107 0 4 0-252 1 28 0 2 0 12 0 4 0 53 0 129 0 9 0-226 1 11 0 8 0 6 0 6 0 8 0 1 0 58 0 11 0 24 0 209 0 11 0-350 1 13 0 14 0 52 0 15 0 7 0 2 0 93 0 52 0-241 1 3 0 14 0 32 0 15 0 2 0 6 0 162 0-256 1 4 0 42 0 12 0 45 0 159 0-251 1 19 0 5 0 20 0 8 0 2 0 6 0 24 0 28 0 4 0 30 0 54 0-201 1 5 0 14 0 14 0 22 0 7 0 20 0 74 0 65 0 2 0-225 1 86 0 5 0 9 0-54 1 2 0 27 0 50 0 14 0 57 0-184 1 6 0 10 0 67 0 149 0 22 0-275 1 36 0 18 0 4 0 3 0 40 0 6 0 130 0 26 0-264 1 50 0 94 0-127 1 10 0 10 0 9 0 9 0 31 0 4 0 20 0 41 0 44 0 10 0 179 0-363 1 61 0 18 0 77 0 43 0-205 1 29 0 7 0 4 0 26 0 56 0 71 0-186 1 3 0 1 0 11 0 146 0-164 1 18 0 13 0 54 0 2 0 35 0 26 0 7 0 13 0 24 0 19 0 144 0-363 1 20 0 2 0 0 0 2 0 35 0 25 0 43 0 5 0 33 0 53 0-207 1 11 0 1 0 6 0 2 0 11 0 9 0 1 0 37 0 30 0 18 0-136 1 11 0 11 0 8 0 1 0 28 0 5 0 18 0 46 0 3 0 54 0 74 0-254 1 18 0 7 0 32 0 21 0 9 0 3 0 102 0-203 1 17 0 17 0 4 0 7 0 11 0 30 0 29 0 104 0 105 0-325 1 21 0 15 0 18 0 4 0 5 0 8 0 7 0 2 0 21 0 0 0 73 0 67 0-213 1 14 0 0 0 29 0 29 0 86 0-165 1 6 0 1 0 9 0 28 0 39 0 5 0 1 0-57 1 36 0 32 0 7 0 84 0-179 1 15 0 9 0 6 0 13 0 9 0 46 0 19 0 3 0 13 0 22 0 9 0-177 1 41 0 11 0 8 0 48 0 35 0-141 1 54 0 7 0 8 0 32 0 32 0-134 1 17 0 36 0 61 0 108 0-215 1 10 0 5 0 16 0 4 0 5 0 126 0-167 1 7 0 9 0 35 0 5 0 18 0 18 0 59 0-143 1 9 0 104 0 18 0-125 1 26 0 9 0 40 0 17 0 9 0 19 0-106 1 2 0 24 0 3 0 15 0 21 0 22 0 18 0 11 0-146 1 1 0 7 0 5 0 10 0 7 0 10 0 3 0 19 0 12 0 31 0 10 0 9 0 16 0-143 1 23 0 1 0 7 0 13 0 47 0 38 0 192 0-307 1 74 0 59 0 82 0-215 1 22 0 2 0 2 0 3 0 4 0 6 0 4 0 21 0 18 0 128 0-223 1 27 0 10 0 9 0 26 0 20 0 17 0 46 0-140 1 56 0 19 0 71 0 138 0-286 1 25 0 1 0 41 0 1 0 9 0 5 0 102 0 41 0 32 0-247 1 3 0 2 0 6 0 1 0 4 0 4 0 8 0 6 0 7 0 34 0 17 0 52 0-136 1 36 0 20 0 14 0 140 0-230 1 0 0 3 0 20 0 10 0 10 0 0 0 4 0 10 0 29 0 5 0 21 0 19 0 2 0 13 0 27 0 32 0 17 0 20 0-230 1 12 0 18 0 10 0 4 0 13 0 12 0 32 0 127 0-235 1 6 0 12 0 12 0 1 0 34 0 4 0 126 0-195 1 0 0 5 0 30 0 71 0 10 0 25 0 79 0-204 1 5 0 78 0 48 0-137 1 39 0 13 0 110 0-152 1 3 0 13 0 6 0 50 0 11 0 32 0-133 1 8 0 16 0 4 0 1 0 10 0 14 0 8 0 18 0 12 0 11 0 78 0-167 1 10 0 28 0 36 0 44 0 18 0 64 0-214 1 9 0 26 0 4 0 6 0 11 0 7 0 3 0 35 0-81 1 5 0 4 0 4 0 6 0 23 0 14 0 17 0 34 0 17 0 2 0 2 0-126 1 16 0 16 0 14 0 13 0 16 0-58 1 28 0 18 0 9 0 30 0 1 0 0 0-121 1 8 0 0 0 33 0 31 0 47 0 42 0 176 0-307 1 1 0 29 0 8 0 19 0 16 0 36 0 12 0 35 0-196 1 21 0 10 0 12 0 1 0 1 0 7 0 14 0 42 0 47 0-132 1 0 0 22 0 32 0 40 0 41 0 180 0-293 1 3 0 10 0 11 0 19 0 15 0 37 0 83 0-200 1 6 0 22 0 1 0 6 0 2 0 52 0 95 0-191 1 12 0 7 0 2 0 9 0 22 0 39 0 84 0 3 0-190 1 8 0 7 0 2 0 27 0 26 0-67 1 4 0 8 0 2 0 5 0 11 0 31 0 41 0 10 0 29 0 6 0 45 0-177 1 36 0 12 0 3 0 119 0 1 0 137 0-321 1 1 0 5 0 32 0 23 0 23 0 27 0 185 0-263 1 16 0 3 0 2 0 2 0 17 0 40 0 10 0 43 0-119 1 18 0 25 0 6 0 18 0 21 0 4 0 7 0-153 1 33 0 6 0 83 0 41 0-119 1 3 0 13 0 1 0 115 0-144 1 5 0 85 0 105 0-235 1 8 0 8 0 12 0 14 0 42 0 12 0 27 0 20 0 10 0-143 1 8 0 35 0 8 0 1 0 57 0 2 0 4 0 33 0 14 0 9 0 18 0-185 1 1 0 0 0 20 0 20 0 6 0 8 0 72 0 17 0 20 0-114 1 3 0-59 1 9 0 37 0 48 0 32 0 17 0 20 0 100 0-269 1 18 0 16 0 96 0 64 0 17 0-192 1 40 0 12 0 11 0 17 0 33 0 58 0 43 0-203 1 9 0 9 0 21 0 25 0 1 0 18 0 6 0 46 0-142 1 5 0 7 0 28 0 4 0 20 0 15 0 12 0-106 1 7 0 24 0 7 0 18 0 25 0 16 0 11 0 20 0 4 0 41 0-174 1 43 0 21 0 80 0 18 0 11 0-182 1 15 0 3 0 24 0 3 0 1 0 5 0 22 0 94 0 97 0-253 1 13 0 18 0 28 0 20 0 29 0 22 0 49 0-170 1 38 0 16 0 56 0 19 0-131 1 2 0 8 0 11 0 0 0 2 0 3 0 35 0 14 0 34 0 76 0 8 0-196 1 10 0 11 0 10 0 19 0 12 0 12 0 30 0 9 0 97 0 10 0-224 1 4 0 26 0 50 0 29 0 286 0 23 0-401 1 2 0 12 0 13 0 0 0 1 0 18 0 132 0-197 1 43 0 7 0 10 0 4 0 5 0 45 0-119 1 30 0-34 1 22 0 36 0 12 0 81 0-122 1 2 0 0 0 10 0 5 0 18 0 0 0 41 0-89 1 31 0 61 0 17 0 13 0 58 0 92 0-276 1 28 0 4 0 28 0 1 0 91 0-120 1 1 0 42 0 27 0 25 0-87 1 37 0 14 0 8 0 67 0-166 1 38 0 51 0 19 0 6 0 4 0 13 0 61 0 44 0-236 1 9 0 18 0 10 0 3 0 4 0 64 0 2 0 18 0 64 0-184 1 1 0 10 0 19 0 8 0 12 0 11 0 45 0 14 0 21 0 25 0 11 0-145 1 8 0 2 0 92 0 16 0-158 1 1 0 19 0 3 0 38 0 51 0 110 0 38 0-260 1 20 0 4 0 1 0 7 0 0 0 7 0 1 0 4 0 95 0 45 0-183 1 15 0 6 0 7 0 1 0 11 0 15 0 101 0 140 0-246 1 2 0 14 0 18 0 49 0-121 1 42 0 28 0 43 0-119 1 11 0 24 0 3 0 4 0 3 0 12 0-62 1 17 0 5 0 8 0 1 0 8 0 0 0 5 0 14 0 18 0 69 0 3 0 45 0-174 1 65 0 61 0 72 0 66 0-267 1 30 0 7 0 39 0 93 0 27 0-206 1 9 0 1 0 6 0 17 0 2 0 4 0 5 0 16 0 19 0 21 0 58 0 41 0 93 0-302 1 1 0 22 0 7 0 28 0 99 0 21 0 13 0 124 0-304 1 11 0 1 0 8 0 4 0 4 0 7 0 16 0 47 0 37 0-123 1 6 0 6 0 8 0 2 0 39 0 102 0 18 0-153 1 22 0 44 0 97 0-187 1 4 0 47 0 48 0 137 0-267 1 12 0 12 0 1 0 4 0 27 0 2 0 4 0 1 0 1 0 6 0 17 0 91 0 0 0 17 0-187 1 24 0 22 0 21 0 10 0 10 0 16 0 38 0 30 0 103 0-267 1 5 0 10 0 5 0 19 0 39 0 6 0 20 0 28 0 2 0 41 0-176 1 34 0 76 0 7 0-123 1 1 0 1 0 69 0 0 0 10 0 41 0 2 0 49 0-144 1 18 0 45 0 53 0-118 1 11 0 38 0 103 0 38 0 96 0-301 1 1 0 3 0 11 0 18 0 10 0 18 0 11 0 83 0-168 1 17 0 8 0 9 0 16 0 9 0 52 0 61 0 11 0-183 1 24 0 1 0 15 0 6 0 0 0 84 0 10 0 21 0-158 1 17 0 12 0 24 0 24 0 10 0 17 0 57 0 1 0 54 0 6 0 87 0-311 1 26 0 13 0 18 0 18 0 53 0 5 0 114 0-240 1 2 0 11 0 36 0 11 0 9 0 46 0 76 0 17 0 61 0-239 1 2 0 6 0 23 0 10 0-54 1 6 0 27 0 12 0 59 0 32 0 51 0 20 0-215 1 23 0 21 0 53 0 61 0 13 0 3 0-189 1 9 0 5 0 5 0 17 0 5 0 18 0 8 0 34 0 131 0-205 1 1 0 7 0 23 0 29 0 15 0 33 0 1 0 14 0 10 0 49 0 5 0 63 0-257 1 2 0 4 0 61 0 7 0 33 0-135 1 20 0 9 0 2 0 4 0 24 0 2 0 5 0 7 0-49 1 9 0 51 0 12 0 6 0 18 0 7 0 112 0-228 1 7 0 12 0 19 0 5 0 14 0 6 0 19 0 17 0 1 0 6 0 43 0 122 0-273 1 5 0 28 0 22 0 2 0 126 0-173 1 3 0 14 0 23 0 9 0 30 0 5 0 21 0-94 1 10 0 12 0 2 0 4 0 3 0 16 0 21 0-66 1 12 0 0 0 15 0 24 0 21 0 0 0 27 0 13 0 36 0-164 1 28 0 0 0 4 0 6 0 25 0 34 0 8 0 21 0 3 0 118 0-244 1 4 0 5 0 6 0 19 0 12 0 5 0 25 0 30 0 25 0 30 0 141 0-294 1 0 0 4 0 7 0 3 0 7 0 1 0 4 0 12 0 2 0 31 0 32 0 27 0 8 0 24 0-184 1 14 0 21 0 17 0 5 0-20 1 9 0 11 0 19 0 31 0 12 0-98 1 0 0 5 0 4 0 15 0 15 0 23 0 14 0 37 0 25 0 34 0 129 0-284 1 19 0 5 0 19 0 4 0 0 0 55 0 6 0 12 0-126 1 2 0 6 0 36 0 9 0 5 0 1 0 0 0 3 0 26 0 14 0 67 0-172 1 5 0 7 0 7 0 4 0 16 0 1 0 1 0 62 0 22 0 140 0 79 0-363 1 2 0 4 0 2 0 28 0 17 0 14 0 2 0 12 0 1 0 48 0 85 0 181 0-386 1 5 0 1 0 5 0 79 0 47 0 60 0-207 1 17 0 41 0 57 0 297 0-396 1 9 0 2 0 9 0 13 0 9 0 9 0 2 0 40 0 38 0 36 0-188 1 15 0 36 0 15 0 26 0 2 0 8 0 22 0 7 0 7 0-139 1 12 0 40 0 1 0 16 0 21 0 6 0 18 0 2 0-93 1 8 0 1 0 11 0 4 0 17 0 13 0 50 0 16 0 66 0-186 1 26 0 8 0 16 0 28 0-97 1 1 0 10 0 60 0 5 0 37 0 73 0 27 0-203 1 5 0 34 0 7 0 19 0 13 0 2 0 33 0 5 0 271 0-393 1 22 0 8 0 42 0 21 0 42 0-124 1 2 0 25 0 10 0 4 0 1 0 13 0 6 0 7 0 1 0 45 0-88 1 54 0 13 0 0 0 15 0 23 0 12 0 125 0-274 1 60 0 20 0 5 0 3 0 6 0 5 0 207 0-305 1 2 0 4 0 2 0 3 0 11 0 3 0 6 0 1 0 13 0 29 0 14 0 46 0 233 0-369 1 63 0 27 0 6 0 71 0-175 1 2 0 16 0 1 0 0 0 14 0 26 0 12 0 4 0 17 0 7 0 221 0 20 0-313 1 5 0 9 0 43 0 18 0 5 0 54 0 188 0-313 1 7 0 11 0 1 0 19 0 19 0 5 0 1 0 28 0-99 1 2 0 29 0 18 0 31 0 0 0 106 0 12 0 150 0-345 1 33 0 11 0 11 0 196 0-255 1 6 0 17 0 10 0 16 0 16 0 269 0-322 1 8 0 38 0 319 0-367 1 3 0 8 0 0 0 4 0 12 0 20 0 20 0 18 0 7 0 34 0-150 1 6 0 8 0 22 0 14 0 26 0 18 0 62 0 238 0-397 1 4 0 0 0 4 0 14 0 13 0 11 0 13 0 6 0 8 0 22 0-58 1 8 0 20 0 4 0 16 0 13 0 5 0 6 0 53 0 14 0 138 0-291 1 27 0 3 0 11 0 13 0 28 0 13 0 66 0-151 1 3 0 34 0 8 0 10 0 14 0 120 0 62 0-283 1 20 0 36 0 6 0 29 0 29 0 40 0-138 1 8 0 1 0 12 0 43 0 253 0-346 1 7 0 17 0 5 0 2 0 4 0 13 0 3 0 9 0 11 0 38 0 71 0-164 1 45 0 20 0 1 0 33 0 103 0-200 1 8 0 3 0 29 0 51 0 57 0 1 0-132 1 17 0 16 0 53 0 145 0 56 0-305 1 38 0 8 0 37 0 103 0-186 1 12 0 10 0 4 0 4 0 3 0 0 0 9 0 48 0 28 0 1 0-127 1 19 0 3 0 3 0 1 0 2 0 0 0 19 0 3 0 6 0 1 0 38 0 14 0 90 0 11 0-184 1 2 0 4 0 0 0 6 0 20 0 40 0 45 0 31 0 148 0-313 1 17 0 21 0 31 0 18 0 66 0-164 1 49 0 10 0 9 0 9 0 10 0 17 0 6 0 2 0-77 1 8 0 21 0 3 0 28 0 5 0 30 0 22 0-152 1 48 0 19 0 27 0 16 0 39 0-92 1 7 0 1 0 18 0 2 0 117 0 0 0-168 1 16 0 0 0 3 0 21 0 7 0 16 0 6 0 9 0 3 0 76 0-165 1 25 0 2 0 1 0 3 0 84 0 171 0-284 1 6 0 32 0 5 0 38 0 25 0 15 0 15 0 7 0 34 0-187 1 22 0 9 0 9 0 3 0 12 0 3 0 3 0 39 0 55 0-169 1 22 0 56 0 1 0 19 0 79 0-145 1 21 0 23 0 50 0 12 0 36 0-155 1 70 0 22 0 16 0 10 0 29 0 21 0-168 1 10 0 15 0 9 0 31 0 23 0 71 0 187 0-361 1 12 0 3 0 7 0 8 0 11 0 12 0 24 0 19 0 11 0 10 0 41 0-128 1 17 0 1 0 35 0 15 0 24 0 36 0 15 0 15 0 2 0 70 0-246 1 9 0 24 0 31 0 65 0 49 0-157 1 10 0 5 0 12 0 55 0 67 0 6 0 23 0-207 1 1 0 1 0 1 0 18 0 38 0 17 0 11 0 2 0 287 0-355 1 3 0 11 0 38 0 17 0 3 0 2 0 22 0-116 1 4 0 2 0 29 0 11 0 17 0 22 0 30 0-95 1 12 0 2 0 30 0 26 0 8 0 15 0 193 0-304 1 2 0 39 0 27 0 7 0 4 0 0 0 2 0 78 0 15 0 151 0-304 1 48 0 57 0 24 0 3 0 179 0 83 0-408 1 5 0 8 0 23 0 13 0 12 0 14 0 38 0 63 0 61 0-224 1 4 0 16 0 22 0 5 0 2 0 10 0 8 0 10 0 109 0-215 1 18 0 37 0 8 0 5 0 1 0 12 0 6 0 15 0 46 0 86 0-217 1 2 0 3 0 3 0 5 0 39 0 4 0 2 0 3 0 24 0 7 0 208 0-305 1 21 0 12 0 5 0 15 0 0 0 1 0 6 0 6 0 14 0 187 0 39 0 18 0-307 1 18 0 7 0 3 0 8 0 23 0 3 0 13 0 9 0-101 1 17 0 11 0 3 0 0 0 2 0 10 0 48 0 7 0 1 0 8 0 19 0 30 0 38 0 10 0-206 1 30 0 6 0 13 0 4 0 9 0 23 0 16 0 63 0 56 0 67 0 19 0-263 1 0 0 24 0 1 0 58 0 14 0 124 0-252 1 1 0 4 0 36 0 5 0 52 0 5 0 64 0 34 0-202 1 8 0 4 0 7 0 30 0 15 0 4 0 11 0 4 0 24 0 133 0 165 0-403 1 21 0 6 0 6 0 3 0 2 0 32 0 7 0-57 1 45 0 105 0-170 1 5 0 28 0 10 0 10 0 35 0 45 0 45 0 153 0 7 0-345 1 6 0 5 0 0 0 28 0 8 0 1 0 18 0 61 0 38 0 3 0-132 1 0 0 20 0 40 0 0 0 7 0 9 0 56 0 29 0-159 1 23 0 2 0 19 0 69 0-137 1 1 0 2 0 57 0 23 0 82 0 72 0 44 0-222 1 15 0 15 0 62 0 184 0-328 1 11 0 12 0 12 0 6 0 31 0 152 0 97 0-337 1 3 0 40 0 31 0 10 0 0 0 27 0 11 0 4 0 2 0 7 0 145 0-247 1 19 0 18 0 3 0 11 0 3 0 4 0 21 0 7 0 195 0-265 1 11 0 28 0 4 0 11 0 23 0-111 1 14 0 3 0 6 0 16 0 2 0 9 0 7 0 10 0 6 0 144 0-242 1 1 0 7 0 12 0 11 0 16 0 22 0 16 0 201 0 9 0 99 0 12 0-357 1 6 0 14 0 7 0 22 0 4 0 4 0 35 0 42 0 113 0-275 1 15 0 12 0 2 0 24 0 19 0 8 0 8 0 28 0 4 0 12 0 25 0-173 1 0 0 30 0 16 0 4 0 0 0 8 0 19 0 15 0 4 0 44 0 111 0 57 0-243 1 4 0 25 0 72 0 6 0 8 0-163 1 18 0 3 0 3 0 2 0 23 0 19 0 17 0 3 0 2 0 1 0 1 0 8 0 12 0-103 1 1 0 43 0 11 0 2 0 20 0 37 0 113 0-225 1 2 0 21 0 9 0 13 0 2 0 19 0 2 0 22 0 2 0 25 0-98 1 4 0 17 0 15 0 2 0 136 0 41 0-218 1 31 0 4 0 17 0 5 0 6 0-71 1 49 0 1 0 0 0 59 0 24 0 2 0 24 0 85 0-254 1 27 0 55 0 15 0 159 0-257 1 116 0-123 1 60 0 5 0 10 0 2 0 0 0-62 1 10 0 19 0 3 0 1 0 8 0 11 0 30 0 65 0-159 1 19 0 3 0 11 0 5 0 18 0 18 0 173 0 6 0 66 0 36 0-347 1 19 0 8 0 11 0 47 0 10 0 1 0 17 0 9 0 32 0 98 0 72 0-278 1 9 0 58 0 11 0-95 1 14 0 16 0 3 0 90 0-130 1 8 0 40 0 12 0 1 0 15 0 11 0 5 0 35 0-134 1 4 0 7 0 8 0 13 0 6 0 37 0 84 0 189 0 10 0-365 1 24 0 6 0 98 0 121 0-261 1 0 0 12 0 0 0 4 0 17 0 44 0 15 0 76 0 64 0-224 1 4 0 14 0 16 0 40 0 6 0 40 0 24 0 2 0 64 0 71 0-277 1 5 0 3 0 2 0 2 0 35 0 57 0 8 0 31 0 5 0 159 0 48 0-368 1 28 0 20 0 5 0 5 0 11 0 20 0 2 0 4 0 14 0 90 0 46 0-240 1 8 0 45 0 12 0 5 0 42 0 28 0 48 0 59 0-212 1 31 0 28 0 5 0 9 0 11 0 12 0 19 0 49 0 74 0-286 1 2 0 21 0 1 0 33 0 6 0 18 0 4 0 92 0 86 0-241 1 4 0 3 0 23 0 2 0 13 0 10 0 11 0 28 0-92 1 2 0 36 0 6 0 32 0 11 0 38 0 155 0-292 1 31 0 1 0 11 0 18 0 283 0-340 1 29 0 4 0 22 0 2 0 28 0 6 0 1 0 180 0-270 1 35 0 9 0 9 0 14 0 4 0 101 0 34 0 32 0-230 1 1 0 10 0 8 0 5 0 54 0 21 0 123 0-134 1 145 0-234 1 1 0 36 0 0 0 37 0 131 0-192 1 24 0 11 0 8 0 63 0 36 0-130 1 7 0 4 0 12 0 14 0 40 0 9 0 16 0 72 0 106 0-266 1 59 0 11 0 33 0 112 0-233 1 4 0 32 0 4 0 30 0 5 0 38 0-136 1 7 0 2 0 28 0 8 0 19 0 12 0 4 0 21 0 7 0 37 0 13 0 91 0 51 0 12 0-244 1 8 0 4 0 28 0 8 0 8 0 20 0 17 0 4 0 9 0 10 0 25 0 6 0 7 0 8 0 42 0 34 0 18 0 20 0 6 0-262 1 9 0 23 0 11 0 32 0 0 0 34 0 7 0 14 0 13 0 9 0 11 0 10 0 70 0 35 0-296 1 7 0 18 0 13 0 36 0 43 0 12 0 6 0 17 0 11 0 44 0 10 0-200 1 1 0 0 0 17 0 22 0 10 0 8 0 28 0 17 0 20 0 1 0 33 0 71 0-244 1 8 0 11 0 14 0 12 0 16 0 35 0 7 0 59 0 4 0 2 0 62 0 1 0 50 0 16 0 3 0-298 1 12 0 19 0 15 0 5 0 23 0 9 0 2 0 0 0 0 0 46 0 6 0 90 0-203 1 24 0 1 0 8 0 8 0 15 0 15 0 10 0 16 0 6 0 64 0 50 0 19 0 25 0-301 1 29 0 9 0 14 0 5 0 12 0 26 0 14 0 3 0 25 0 43 0 8 0-176 1 5 0 0 0 48 0 43 0 31 0 12 0 11 0 26 0 31 0 10 0 62 0-249 1 4 0 0 0 30 0 1 0 20 0 20 0 4 0 15 0 4 0 14 0 2 0 8 0 13 0 22 0 4 0 8 0 17 0 19 0 26 0-246 1 11 0 9 0 7 0 7 0 35 0 41 0 28 0 1 0 26 0 8 0 20 0 85 0-274 1 19 0 16 0 2 0 12 0 14 0 11 0 12 0 41 0 18 0 8 0 16 0 59 0 34 0 2 0-270 1 12 0 13 0 8 0 5 0 20 0 41 0 50 0 3 0 28 0 24 0 3 0 55 0 5 0 13 0-277 1 12 0 45 0 9 0 9 0 21 0 1 0 12 0 18 0 11 0 100 0 23 0-260 1 39 0 4 0 6 0 0 0 19 0 7 0 14 0 16 0 15 0 2 0 37 0 15 0 52 0 2 0 47 0-275 1 9 0 20 0 13 0 37 0 6 0 4 0 1 0 8 0 1 0 38 0 5 0 46 0 9 0 28 0 56 0 1 0-280 1 1 0 8 0 7 0 11 0 2 0 2 0 25 0 22 0 10 0 30 0 6 0 25 0 7 0 8 0 8 0 6 0 9 0 6 0 29 0 9 0 2 0-183 1 32 0 21 0 58 0 2 0 2 0 56 0 16 0 42 0-251 1 37 0 4 0 15 0 6 0 15 0 3 0 76 0 27 0 4 0 22 0 13 0 25 0-284 1 4 0 6 0 8 0 13 0 7 0 5 0 6 0 2 0 28 0 2 0 3 0 5 0 3 0 55 0 14 0 130 0-299 1 17 0 10 0 18 0 1 0 35 0 4 0 4 0 51 0 9 0 102 0-229 1 37 0 5 0 26 0 2 0 11 0 64 0 7 0 16 0 2 0 4 0 31 0 42 0 9 0-267 1 0 0 2 0 57 0 66 0 11 0 25 0 74 0 59 0-294 1 12 0 8 0 15 0 5 0 9 0 8 0 3 0 6 0 21 0 98 0 3 0 23 0 32 0 10 0 35 0-279 1 2 0 7 0 43 0 11 0 8 0 3 0 7 0 11 0 18 0 70 0 11 0 8 0 21 0 4 0 39 0 8 0-270 1 18 0 5 0 3 0 34 0 8 0 2 0 26 0 3 0 16 0 20 0 4 0 43 0 9 0 20 0 8 0 16 0 1 0 4 0-233 1 3 0 9 0 6 0 13 0 18 0 17 0 10 0 26 0 14 0 11 0 32 0 32 0 33 0-207 1 26 0 39 0 47 0 27 0 32 0 3 0 10 0 11 0 2 0 8 0 15 0 24 0-292 1 24 0 16 0 6 0 5 0 9 0 29 0 8 0 3 0 23 0 14 0 17 0 55 0 80 0-247 1 1 0 12 0 10 0 12 0 15 0 4 0 28 0 4 0 37 0 6 0 15 0 10 0 13 0 20 0 17 0 6 0 6 0 9 0 11 0-139 1 1 0 14 0 19 0 2 0 13 0 65 0 33 0 0 0 0 0-249 1 8 0 4 0 29 0 35 0 6 0 3 0 32 0 0 0 51 0 18 0 13 0 14 0 1 0 23 0 12 0-239 1 36 0 12 0 105 0 12 0 53 0 14 0 13 0-262 1 7 0 9 0 14 0 1 0 1 0 7 0 26 0 79 0 14 0 114 0-225 1 16 0 2 0 6 0 51 0 19 0 1 0 8 0 21 0 35 0 43 0 26 0 3 0 3 0-290 1 3 0 23 0 3 0 9 0 6 0 5 0 22 0 6 0 1 0 9 0 9 0 30 0 45 0 26 0 3 0 11 0 21 0 11 0 2 0 2 0-228 1 9 0 12 0 24 0 15 0 4 0 33 0 42 0 15 0 0 0 18 0 4 0 5 0 51 0-272 1 28 0 17 0 54 0 6 0 1 0 1 0 32 0 10 0 18 0 19 0 0 0 24 0 12 0 14 0 9 0 23 0 12 0 2 0-266 1 7 0 14 0 25 0 5 0 1 0 10 0 0 0 5 0 7 0 6 0 9 0 1 0 30 0 13 0 35 0 0 0 30 0 11 0 17 0 46 0 5 0-286 1 25 0 29 0 28 0 31 0 8 0 15 0 2 0 29 0 3 0 11 0 2 0 32 0 17 0 4 0 18 0 6 0 35 0 4 0 2 0-259 1 5 0 1 0 21 0 3 0 7 0 17 0 2 0 6 0 6 0 9 0 1 0 5 0 31 0 5 0 9 0 7 0 21 0 27 0 67 0-266 1 28 0 17 0 5 0 1 0 14 0 7 0 11 0 28 0 42 0 2 0 1 0 5 0 5 0 16 0 5 0 37 0 20 0-232 1 27 0 13 0 9 0 14 0 13 0 4 0 5 0 6 0 13 0 18 0 3 0 14 0 12 0 35 0 1 0 4 0 16 0 1 0 6 0 8 0-211 1 7 0 2 0 24 0 19 0 24 0 11 0 36 0 11 0 31 0 2 0 59 0 23 0 2 0-279 1 17 0 14 0 20 0 7 0 4 0 10 0 4 0 39 0 4 0 3 0 37 0 19 0 36 0 8 0-188 1 23 0 5 0 36 0 4 0 8 0 56 0 51 0 50 0-271 1 10 0 51 0 19 0 26 0 35 0 57 0 39 0 27 0-280 1 41 0 8 0 4 0 28 0 8 0 3 0 39 0 5 0 19 0 8 0 10 0 5 0 8 0 21 0 75 0 11 0-293 1 48 0 11 0 6 0 9 0 6 0 12 0 4 0 1 0 1 0 20 0 2 0 40 0 27 0 4 0 18 0 15 0 24 0 2 0 16 0 0 0 18 0 17 0-277 1 2 0 2 0 23 0 2 0 0 0 12 0 0 0 16 0 38 0 7 0 12 0 54 0 1 0 18 0 11 0 17 0 49 0-249 1 22 0 13 0 1 0 4 0 38 0 1 0 28 0 45 0 4 0 2 0 20 0 11 0 32 0 4 0 19 0 5 0-239 1 3 0 22 0 19 0 14 0 13 0 17 0 5 0 10 0 17 0 34 0 17 0 15 0 19 0 18 0 20 0 1 0-277 1 87 0 12 0 17 0 7 0 8 0 14 0 12 0 6 0 2 0 18 0 4 0 39 0 2 0 14 0 1 0 12 0 10 0-249 1 12 0 3 0 24 0 7 0 5 0 9 0 0 0 16 0 5 0 8 0 3 0 8 0 1 0 33 0 8 0 8 0 0 0 4 0 8 0 24 0 12 0 8 0 7 0 9 0 16 0 10 0 11 0-276 1 41 0 28 0 0 0 17 0 13 0 18 0 76 0 14 0 46 0 4 0-257 1 48 0 6 0 10 0 3 0 1 0 2 0 0 0 12 0 40 0 41 0 14 0 8 0 22 0 39 0-223 1 20 0 26 0 19 0 5 0 5 0 67 0 17 0 5 0 17 0 35 0 3 0-192 1 13 0 16 0 34 0 42 0 8 0 22 0 19 0 10 0 10 0 26 0 25 0-252 1 28 0 1 0 1 0 3 0 0 0 9 0 7 0 12 0 3 0 21 0 34 0 8 0 4 0 2 0 40 0 50 0 32 0-212 1 14 0 22 0 15 0 8 0 18 0 15 0 5 0 5 0 1 0 8 0 21 0 4 0 9 0 21 0 0 0 35 0-267 1 24 0 28 0 45 0 28 0 15 0 5 0 27 0 55 0 15 0 43 0-250 1 21 0 42 0 13 0 30 0 27 0 59 0 19 0 13 0 2 0 3 0 14 0 9 0-51 1 6 0 15 0 1 0 10 0-33 1 17 0-2 1 29 0 7 0-56 1 8 0 12 0 2 0 22 0 12 0-45 1 37 1" fill="none" marker-start="url(#q)" marker-mid="url(#q)" marker-end="url(#q)"/>
<path d="M1132.4 978.2H1426.2M1427.7 978.2H1435.5M1441.9 978.2H1462.4M1465.0 978.2H1473.5M1478.0 978.2H1491.0M1499.6 978.2H1507.1M1518.3 978.2H1529.5M1534.3 978.2H1539.5M1596.6 978.2H1601.4M1613.4 978.2H1618.2M1647.0 978.2H1655.5M1693.5 978.2H1698.4" stroke="#bebebe" stroke-width="4.4" fill="none"/>
<polyline points="1135.0,1326.3 1135.0,1326.4 1135.0,1326.8 1135.0,1327.5 1135.1,1328.4 1135.1,1329.5 1135.1,1331.0 1135.2,1332.6 1135.2,1334.5 1135.3,1336.6 1135.4,1338.9 1135.5,1341.4 1135.5,1344.1 1135.6,1347.0 1135.7,1350.0 1135.8,1353.2 1136.0,1356.5 1136.1,1359.9 1136.2,1363.5 1136.4,1367.1 1136.5,1370.8 1136.7,1374.6 1136.8,1378.5 1137.0,1382.4 1137.2,1386.3 1137.3,1390.3 1137.5,1394.3 1137.7,1398.3 1137.9,1402.3 1138.2,1406.3 1138.4,1410.2 1138.6,1414.2 1138.8,1418.1 1139.1,1422.0 1139.3,1425.9 1139.6,1429.7 1139.9,1433.4 1140.1,1437.1 1140.4,1440.8 1140.7,1444.4 1141.0,1447.9 1141.3,1451.4 1141.6,1454.8 1141.9,1458.2 1142.3,1461.5 1142.6,1464.7 1142.9,1467.9 1143.3,1471.0 1143.6,1474.0 1144.0,1477.0 1144.4,1479.9 1144.8,1482.7 1145.1,1485.5 1145.5,1488.2 1145.9,1490.8 1146.4,1493.4 1146.8,1495.9 1147.2,1498.4 1147.6,1500.8 1148.1,1503.2 1148.5,1505.5 1149.0,1507.7 1149.4,1509.9 1149.9,1512.0 1150.4,1514.1 1150.9,1516.1 1151.3,1518.1 1151.8,1520.0 1152.4,1521.9 1152.9,1523.7 1153.4,1525.5 1153.9,1527.3 1154.5,1529.0 1155.0,1530.6 1155.6,1532.3 1156.1,1533.8 1156.7,1535.4 1157.3,1536.9 1157.8,1538.4 1158.4,1539.8 1159.0,1541.2 1159.6,1542.5 1160.2,1543.9 1160.9,1545.2 1161.5,1546.5 1162.1,1547.7 1162.8,1548.9 1163.4,1550.1 1164.1,1551.2 1164.7,1552.4 1165.4,1553.5 1166.1,1554.5 1166.8,1555.6 1167.5,1556.6 1168.2,1557.6 1168.9,1558.6 1169.6,1559.6 1170.3,1560.5 1171.0,1561.4 1171.8,1562.3 1172.5,1563.2 1173.3,1564.0 1174.1,1564.9 1174.8,1565.7 1175.6,1566.5 1176.4,1567.3 1177.2,1568.0 1178.0,1568.8 1178.8,1569.5 1179.6,1570.2 1180.4,1570.9 1181.2,1571.6 1182.1,1572.3 1182.9,1573.0 1183.8,1573.6 1184.6,1574.2 1185.5,1574.9 1186.4,1575.5 1187.3,1576.1 1188.2,1576.7 1189.0,1577.2 1190.0,1577.8 1190.9,1578.3 1191.8,1578.9 1192.7,1579.4 1193.6,1579.9 1194.6,1580.4 1195.5,1580.9 1196.5,1581.4 1197.5,1581.9 1198.4,1582.4 1199.4,1582.8 1200.4,1583.3 1201.4,1583.7 1202.4,1584.1 1203.4,1584.6 1204.4,1585.0 1205.4,1585.4 1206.5,1585.8 1207.5,1586.2 1208.6,1586.6 1209.6,1587.0 1210.7,1587.4 1211.8,1587.7 1212.8,1588.1 1213.9,1588.4 1215.0,1588.8 1216.1,1589.1 1217.2,1589.5 1218.3,1589.8 1219.5,1590.1 1220.6,1590.5 1221.7,1590.8 1222.9,1591.1 1224.0,1591.4 1225.2,1591.7 1226.3,1592.0 1227.5,1592.3 1228.7,1592.5 1229.9,1592.8 1231.1,1593.1 1232.3,1593.4 1233.5,1593.6 1234.7,1593.9 1236.0,1594.2 1237.2,1594.4 1238.4,1594.7 1239.7,1594.9 1240.9,1595.2 1242.2,1595.4 1243.5,1595.6 1244.8,1595.9 1246.0,1596.1 1247.3,1596.3 1248.6,1596.5 1249.9,1596.7 1251.3,1597.0 1252.6,1597.2 1253.9,1597.4 1255.3,1597.6 1256.6,1597.8 1258.0,1598.0 1259.3,1598.2 1260.7,1598.4 1262.1,1598.6 1263.5,1598.7 1264.9,1598.9 1266.3,1599.1 1267.7,1599.3 1269.1,1599.5 1270.5,1599.6 1271.9,1599.8 1273.4,1600.0 1274.8,1600.1 1276.3,1600.3 1277.7,1600.5 1279.2,1600.6 1280.7,1600.8 1282.1,1600.9 1283.6,1601.1 1285.1,1601.2 1286.6,1601.4 1288.2,1601.5 1289.7,1601.7 1291.2,1601.8 1292.7,1602.0 1294.3,1602.1 1295.8,1602.3 1297.4,1602.4 1299.0,1602.5 1300.5,1602.7 1302.1,1602.8 1303.7,1602.9 1305.3,1603.0 1306.9,1603.2 1308.5,1603.3 1310.1,1603.4 1311.7,1603.5 1313.4,1603.6 1315.0,1603.8 1316.7,1603.9 1318.3,1604.0 1320.0,1604.1 1321.7,1604.2 1323.3,1604.3 1325.0,1604.4 1326.7,1604.5 1328.4,1604.7 1330.1,1604.8 1331.8,1604.9 1333.6,1605.0 1335.3,1605.1 1337.0,1605.2 1338.8,1605.3 1340.5,1605.4 1342.3,1605.5 1344.0,1605.6 1345.8,1605.6 1347.6,1605.7 1349.4,1605.8 1351.2,1605.9 1353.0,1606.0 1354.8,1606.1 1356.6,1606.2 1358.5,1606.3 1360.3,1606.4 1362.1,1606.4 1364.0,1606.5 1365.8,1606.6 1367.7,1606.7 1369.6,1606.8 1371.5,1606.9 1373.4,1606.9 1375.3,1607.0 1377.2,1607.1 1379.1,1607.2 1381.0,1607.2 1382.9,1607.3 1384.8,1607.4 1386.8,1607.5 1388.7,1607.5 1390.7,1607.6 1392.6,1607.7 1394.6,1607.8 1396.6,1607.8 1398.6,1607.9 1400.6,1608.0 1402.6,1608.0 1404.6,1608.1 1406.6,1608.2 1408.6,1608.2 1410.7,1608.3 1412.7,1608.4 1414.7,1608.4 1416.8,1608.5 1418.9,1608.5 1420.9,1608.6 1423.0,1608.7 1425.1,1608.7 1427.2,1608.8 1429.3,1608.8 1431.4,1608.9 1433.5,1609.0 1435.6,1609.0 1437.7,1609.1 1439.9,1609.1 1442.0,1609.2 1444.2,1609.2 1446.3,1609.3 1448.5,1609.3 1450.7,1609.4 1452.8,1609.4 1455.0,1609.5 1457.2,1609.5 1459.4,1609.6 1461.6,1609.7 1463.9,1609.7 1466.1,1609.8 1468.3,1609.8 1470.6,1609.8 1472.8,1609.9 1475.1,1609.9 1477.3,1610.0 1479.6,1610.0 1481.9,1610.1 1484.2,1610.1 1486.5,1610.2 1488.8,1610.2 1491.1,1610.3 1493.4,1610.3 1495.7,1610.4 1498.0,1610.4 1500.4,1610.4 1502.7,1610.5 1505.1,1610.5 1507.4,1610.6 1509.8,1610.6 1512.2,1610.6 1514.6,1610.7 1517.0,1610.7 1519.3,1610.8 1521.8,1610.8 1524.2,1610.8 1526.6,1610.9 1529.0,1610.9 1531.5,1611.0 1533.9,1611.0 1536.3,1611.0 1538.8,1611.1 1541.3,1611.1 1543.7,1611.2 1546.2,1611.2 1548.7,1611.2 1551.2,1611.3 1553.7,1611.3 1556.2,1611.3 1558.7,1611.4 1561.3,1611.4 1563.8,1611.4 1566.3,1611.5 1568.9,1611.5 1571.5,1611.5 1574.0,1611.6 1576.6,1611.6 1579.2,1611.6 1581.7,1611.7 1584.3,1611.7 1586.9,1611.7 1589.6,1611.8 1592.2,1611.8 1594.8,1611.8 1597.4,1611.8 1600.1,1611.9 1602.7,1611.9 1605.4,1611.9 1608.0,1612.0 1610.7,1612.0 1613.4,1612.0 1616.1,1612.1 1618.7,1612.1 1621.4,1612.1 1624.1,1612.1 1626.9,1612.2 1629.6,1612.2 1632.3,1612.2 1635.0,1612.3 1637.8,1612.3 1640.5,1612.3 1643.3,1612.3 1646.1,1612.4 1648.8,1612.4 1651.6,1612.4 1654.4,1612.4 1657.2,1612.5 1660.0,1612.5 1662.8,1612.5 1665.6,1612.5 1668.5,1612.6 1671.3,1612.6 1674.1,1612.6 1677.0,1612.6 1679.8,1612.7 1682.7,1612.7 1685.6,1612.7 1688.5,1612.7 1691.3,1612.8 1694.2,1612.8 1697.1,1612.8 1700.1,1612.8 1703.0,1612.8 1705.9,1612.9 1708.8,1612.9 1711.8,1612.9 1714.7,1612.9 1717.7,1613.0 1720.6,1613.0 1723.6,1613.0 1726.6,1613.0 1729.6,1613.0 1732.5,1613.1 1735.5,1613.1" fill="none" stroke="#ff0000" stroke-width="6.2" stroke-linecap="round" stroke-linejoin="round"/>
<line x1="1110.7" y1="1555.8" x2="1760.0" y2="1555.8" stroke="#0000ff" stroke-width="2"/>
<line x1="1143.5" y1="952.5" x2="1143.5" y2="1645.7" stroke="#00ff00" stroke-width="2.6"/>
<rect x="1110.7" y="952.5" width="649.3" height="693.2" fill="none" stroke="#000" stroke-width="2.4"/>
<line x1="1135.0" y1="1645.7" x2="1135.0" y2="1668.2" stroke="#000" stroke-width="2.4"/>
<line x1="1283.1" y1="1645.7" x2="1283.1" y2="1668.2" stroke="#000" stroke-width="2.4"/>
<line x1="1431.2" y1="1645.7" x2="1431.2" y2="1668.2" stroke="#000" stroke-width="2.4"/>
<line x1="1579.3" y1="1645.7" x2="1579.3" y2="1668.2" stroke="#000" stroke-width="2.4"/>
<line x1="1727.4" y1="1645.7" x2="1727.4" y2="1668.2" stroke="#000" stroke-width="2.4"/>
<text transform="translate(1135.00,1724.70) scale(1.0000,1)" font-size="37.5" text-anchor="middle" fill="#000" font-weight="normal" font-family="'TeX Gyre Heros', 'Liberation Sans', Arial, sans-serif">0</text>
<text transform="translate(1283.10,1724.70) scale(1.0000,1)" font-size="37.5" text-anchor="middle" fill="#000" font-weight="normal" font-family="'TeX Gyre Heros', 'Liberation Sans', Arial, sans-serif">100</text>
<text transform="translate(1431.20,1724.70) scale(1.0000,1)" font-size="37.5" text-anchor="middle" fill="#000" font-weight="normal" font-family="'TeX Gyre Heros', 'Liberation Sans', Arial, sans-serif">200</text>
<text transform="translate(1579.30,1724.70) scale(1.0000,1)" font-size="37.5" text-anchor="middle" fill="#000" font-weight="normal" font-family="'TeX Gyre Heros', 'Liberation Sans', Arial, sans-serif">300</text>
<text transform="translate(1727.40,1724.70) scale(1.0000,1)" font-size="37.5" text-anchor="middle" fill="#000" font-weight="normal" font-family="'TeX Gyre Heros', 'Liberation Sans', Arial, sans-serif">400</text>
<line x1="1087.3" y1="1620.0" x2="1110.7" y2="1620.0" stroke="#000" stroke-width="2.4"/>
<text transform="translate(1058.60,1620.00) rotate(-90) scale(1.0000,1)" font-size="37.5" text-anchor="middle" fill="#000" font-weight="normal" font-family="'TeX Gyre Heros', 'Liberation Sans', Arial, sans-serif">0.0</text>
<line x1="1087.3" y1="1491.6" x2="1110.7" y2="1491.6" stroke="#000" stroke-width="2.4"/>
<text transform="translate(1058.60,1491.64) rotate(-90) scale(1.0000,1)" font-size="37.5" text-anchor="middle" fill="#000" font-weight="normal" font-family="'TeX Gyre Heros', 'Liberation Sans', Arial, sans-serif">0.2</text>
<line x1="1087.3" y1="1363.3" x2="1110.7" y2="1363.3" stroke="#000" stroke-width="2.4"/>
<text transform="translate(1058.60,1363.28) rotate(-90) scale(1.0000,1)" font-size="37.5" text-anchor="middle" fill="#000" font-weight="normal" font-family="'TeX Gyre Heros', 'Liberation Sans', Arial, sans-serif">0.4</text>
<line x1="1087.3" y1="1234.9" x2="1110.7" y2="1234.9" stroke="#000" stroke-width="2.4"/>
<text transform="translate(1058.60,1234.92) rotate(-90) scale(1.0000,1)" font-size="37.5" text-anchor="middle" fill="#000" font-weight="normal" font-family="'TeX Gyre Heros', 'Liberation Sans', Arial, sans-serif">0.6</text>
<line x1="1087.3" y1="1106.6" x2="1110.7" y2="1106.6" stroke="#000" stroke-width="2.4"/>
<text transform="translate(1058.60,1106.56) rotate(-90) scale(1.0000,1)" font-size="37.5" text-anchor="middle" fill="#000" font-weight="normal" font-family="'TeX Gyre Heros', 'Liberation Sans', Arial, sans-serif">0.8</text>
<line x1="1087.3" y1="978.2" x2="1110.7" y2="978.2" stroke="#000" stroke-width="2.4"/>
<text transform="translate(1058.60,978.20) rotate(-90) scale(1.0000,1)" font-size="37.5" text-anchor="middle" fill="#000" font-weight="normal" font-family="'TeX Gyre Heros', 'Liberation Sans', Arial, sans-serif">1.0</text>
<text transform="translate(1143.05,1683.50) scale(0.9500,1)" font-size="28.5" text-anchor="middle" fill="#00ff00" font-weight="normal" font-family="'TeX Gyre Heros', 'Liberation Sans', Arial, sans-serif">5.77</text>
<text transform="translate(1436.10,1797.10) scale(1.0000,1)" font-size="37.5" text-anchor="middle" fill="#000" font-weight="normal" font-family="'TeX Gyre Heros', 'Liberation Sans', Arial, sans-serif">Distance(Mb)</text>
<text transform="translate(961.60,1299.10) rotate(-90) scale(1.0,1)" font-size="37.5" text-anchor="middle" font-family="'TeX Gyre Heros', 'Liberation Sans', Arial, sans-serif">LD <tspan font-size="42.0">(</tspan>r<tspan font-size="26" dy="-17.5">2</tspan><tspan dy="17.5" font-size="42.0">)</tspan></text>
<text transform="translate(911.20,1792.20) scale(1.05,1)" font-size="51" font-weight="bold" font-family="Carlito, 'Liberation Sans', sans-serif">(d)</text>
</svg></body></html>
